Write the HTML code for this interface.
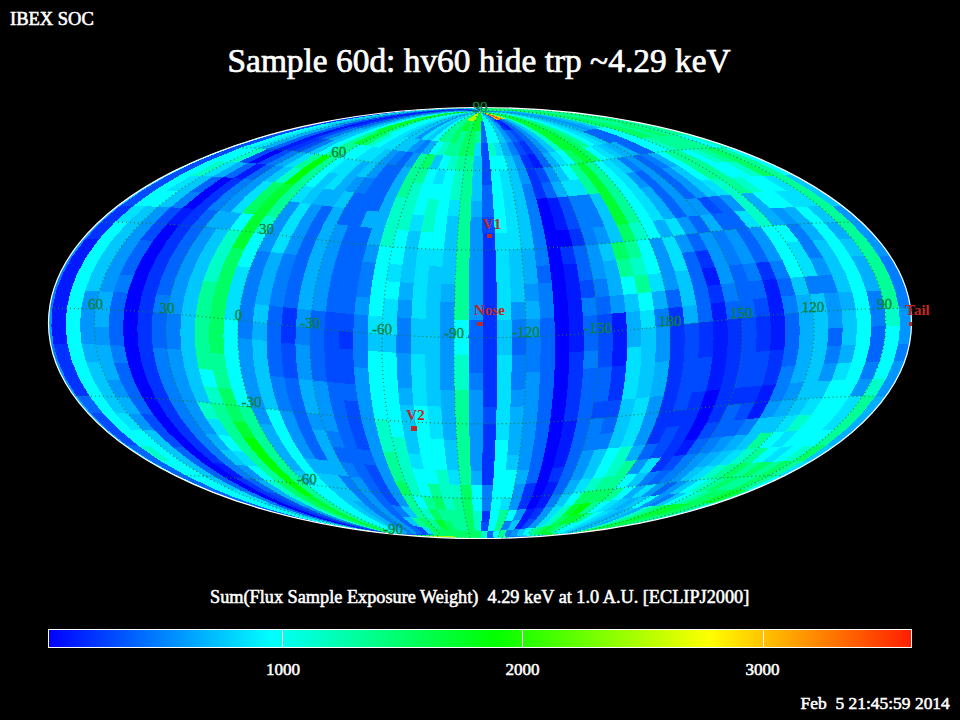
<!DOCTYPE html>
<html><head><meta charset="utf-8"><style>
html,body{margin:0;padding:0;background:#000;width:960px;height:720px;overflow:hidden}
svg{position:absolute;left:0;top:0}
text{font-family:"Liberation Serif",serif;fill:#fff;white-space:pre}
.g text{fill:#108040;stroke:#108040;stroke-width:0.35px;font-size:15px;text-anchor:middle}
.r text{fill:#c02820;font-size:15px;font-weight:bold;text-anchor:middle}
</style></head><body>
<svg width="960" height="720" viewBox="0 0 960 720">
<defs>
<clipPath id="el"><ellipse cx="480.0" cy="323.0" rx="431.5" ry="215.5"/></clipPath>
<linearGradient id="cb" x1="0" x2="1" y1="0" y2="0">
<stop offset="0" stop-color="#0000ff"/><stop offset="0.258" stop-color="#00ffff"/><stop offset="0.517" stop-color="#00ff00"/><stop offset="0.766" stop-color="#ffff00"/><stop offset="1" stop-color="#ff1e00"/>
</linearGradient>
</defs>
<text x="10" y="24.5" style="font-size:18.5px;stroke:#fff;stroke-width:0.6px">IBEX SOC</text>
<text x="227.5" y="71.5" style="font-size:33.4px;stroke:#fff;stroke-width:0.7px">Sample 60d: hv60 hide trp ~4.29 keV</text>
<ellipse cx="480.0" cy="323.0" rx="431.0" ry="215.0" fill="#0096ff"/>
<g clip-path="url(#el)" shape-rendering="crispEdges">
<path fill="#00ff96" d="M390.7 533.8L391.5 533.1L389.0 531.8L384.7 530.3L379.4 528.5L380.7 528.6L381.9 528.8L383.2 528.9L384.5 529.0L389.0 530.7L392.3 532.2L393.4 533.2ZM384.5 529.0L383.2 528.9L381.9 528.8L380.7 528.6L379.4 528.5L373.7 526.5L367.9 524.3L362.0 522.0L356.1 519.6L357.9 519.8L359.7 520.0L361.4 520.2L363.2 520.3L368.6 522.7L374.1 525.0L379.4 527.1ZM363.2 520.3L359.7 520.0L356.1 519.6L344.8 514.3L333.9 508.7L338.1 509.2L342.4 509.6L352.6 515.2ZM342.4 509.6L338.1 509.2L333.9 508.7L323.6 502.8L313.9 496.5L318.7 497.0L323.6 497.5L332.7 503.7ZM323.6 497.5L313.9 496.5L296.2 483.2L306.8 484.3ZM306.8 484.3L296.2 483.2L280.6 469.0L292.1 470.2ZM292.1 470.2L280.6 469.0L267.1 454.0L279.2 455.3ZM279.2 455.3L267.1 454.0L255.4 438.4L268.2 439.8ZM268.2 439.8L255.4 438.4L245.6 422.3L259.0 423.7ZM259.0 423.7L245.6 422.3L237.7 405.7L251.4 407.1ZM277.1 217.2L265.3 215.8L278.6 200.0L289.5 201.3ZM289.5 201.3L278.6 200.0L293.8 184.6L303.8 185.9ZM303.8 185.9L293.8 184.6L311.2 170.0L320.2 171.3ZM320.2 171.3L311.2 170.0L331.0 156.2L338.7 157.4ZM338.7 157.4L331.0 156.2L353.4 143.4L359.8 144.5ZM231.5 388.7L217.5 387.3L212.8 370.0L227.1 371.5ZM227.1 371.5L212.8 370.0L210.0 352.6L224.4 354.0ZM331.0 156.2L323.3 155.1L347.1 142.4L353.4 143.4ZM353.4 143.4L350.2 142.9L347.1 142.4L360.3 136.4L374.4 130.9L376.7 131.3L379.1 131.8L365.8 137.5ZM285.7 482.1L275.1 481.1L257.8 466.7L269.2 467.8ZM269.2 467.8L257.8 466.7L242.8 451.7L254.9 452.8ZM254.9 452.8L242.8 451.7L229.9 435.9L242.6 437.2ZM242.6 437.2L229.9 435.9L219.1 419.7L232.3 421.0ZM232.3 421.0L219.1 419.7L210.3 403.0L224.0 404.3ZM212.8 370.0L198.6 368.7L195.7 351.2L210.0 352.6ZM210.0 352.6L195.7 351.2L194.7 333.6L209.0 334.9ZM209.0 334.9L194.7 333.6L195.6 315.9L209.9 317.3ZM209.9 317.3L195.6 315.9L198.4 298.3L212.5 299.6ZM212.5 299.6L198.4 298.3L203.2 280.7L217.0 282.1ZM302.3 168.8L293.4 167.6L315.6 154.0L323.3 155.1ZM242.8 502.6L239.7 502.6L236.6 502.6L217.8 496.2L200.2 489.6L203.9 489.6L207.7 489.6L224.7 496.2ZM719.7 502.6L716.5 502.6L713.3 502.6L731.0 496.2L747.6 489.6L751.5 489.6L755.3 489.6L738.1 496.2ZM269.8 135.3L265.4 135.3L260.9 135.3L283.0 129.6L307.1 124.3L311.1 124.2L314.9 124.2L291.4 129.6ZM693.7 135.3L689.3 135.3L685.0 135.3L663.8 129.6L640.7 124.3L644.4 124.2L648.2 124.2L671.9 129.6ZM314.9 124.2L311.1 124.2L307.1 124.3L333.5 119.3L363.2 114.8L366.7 114.8L369.9 114.8L340.7 119.3ZM648.2 124.2L644.4 124.2L640.7 124.3L615.3 119.3L586.6 114.8L589.5 114.8L592.7 114.8L622.1 119.3ZM369.9 114.8L368.3 114.8L366.7 114.8L365.0 114.8L363.2 114.8L379.8 112.8L397.9 111.0L418.3 109.4L442.4 108.1L445.0 108.1L447.2 108.1L449.0 108.0L450.4 108.0L424.7 109.4L404.1 111.0L386.1 112.8ZM592.7 114.8L591.1 114.8L589.5 114.8L588.1 114.8L586.6 114.8L570.6 112.8L552.9 111.0L532.6 109.4L507.7 108.1L508.3 108.1L509.1 108.1L510.4 108.0L512.0 108.0L537.6 109.4L558.2 111.0L576.3 112.8ZM569.3 533.8L584.4 531.9L598.5 529.8L611.8 527.6L624.3 525.2L625.1 525.2L625.8 525.2L626.6 525.2L627.3 525.1L614.2 527.5L600.3 529.8L585.4 531.9ZM627.3 525.1L626.6 525.2L625.8 525.2L625.1 525.2L624.3 525.2L636.2 522.7L647.5 520.1L658.4 517.5L668.8 514.7L670.1 514.6L671.3 514.6L672.6 514.6L673.8 514.6L663.0 517.4L651.6 520.1L639.8 522.7ZM673.8 514.6L671.3 514.6L668.8 514.7L688.4 508.9L706.7 502.8L710.0 502.7L713.3 502.6L694.3 508.8ZM747.6 489.6L739.6 489.7L768.4 475.8L777.6 475.6ZM777.6 475.6L768.4 475.8L793.6 461.0L803.7 460.9ZM826.5 445.4L815.4 445.6L834.1 429.6L845.9 429.4ZM845.9 429.4L834.1 429.6L849.8 413.1L862.3 412.9ZM862.3 412.9L849.8 413.1L862.6 396.2L875.6 396.0ZM899.0 308.3L884.6 308.5L880.7 290.8L895.1 290.6ZM895.1 290.6L880.7 290.8L874.1 273.3L888.3 273.1ZM888.3 273.1L874.1 273.3L864.7 256.0L878.7 255.8ZM878.7 255.8L864.7 256.0L852.5 239.0L866.1 238.8ZM866.1 238.8L852.5 239.0L837.4 222.4L850.6 222.2ZM850.6 222.2L837.4 222.4L819.3 206.2L832.0 206.0ZM832.0 206.0L819.3 206.2L798.1 190.5L810.1 190.3ZM810.1 190.3L798.1 190.5L773.6 175.5L784.9 175.3ZM784.9 175.3L773.6 175.5L745.6 161.2L756.0 161.0ZM756.0 161.0L745.6 161.2L713.6 147.8L723.0 147.7ZM685.0 135.3L680.8 135.4L676.8 135.5L656.2 129.8L633.9 124.4L637.2 124.3L640.7 124.3L663.8 129.6ZM640.7 124.3L637.2 124.3L633.9 124.4L609.2 119.5L581.5 115.0L584.0 114.9L586.6 114.8L615.3 119.3ZM586.6 114.8L585.3 114.9L584.0 114.9L582.7 115.0L581.5 115.0L566.0 113.0L549.0 111.2L529.9 109.6L507.8 108.4L507.6 108.3L507.5 108.2L507.7 108.1L532.6 109.4L552.9 111.0L570.6 112.8ZM507.7 108.1L507.5 108.2L507.6 108.3L507.8 108.4L489.6 108.1L484.3 109.0L481.8 110.4L480.0 112.2L480.8 110.4L481.9 108.9L484.6 107.8ZM569.3 533.8L583.3 532.0L596.6 529.9L609.1 527.7L621.0 525.3L621.8 525.3L622.7 525.3L623.5 525.2L624.3 525.2L611.8 527.6L598.5 529.8L584.4 531.9ZM624.3 525.2L623.5 525.2L622.7 525.3L621.8 525.3L621.0 525.3L632.3 522.9L643.1 520.3L653.5 517.6L663.5 514.8L664.8 514.8L666.2 514.8L667.5 514.7L668.8 514.7L658.4 517.5L647.5 520.1L636.2 522.7ZM713.6 147.8L704.5 148.2L669.0 135.8L676.8 135.5ZM676.8 135.5L672.8 135.6L669.0 135.8L649.1 130.1L627.5 124.7L630.6 124.6L633.9 124.4L656.2 129.8ZM731.4 490.0L723.0 490.3L749.5 476.4L759.1 476.0ZM759.1 476.0L749.5 476.4L772.7 461.7L783.2 461.3ZM735.5 161.6L725.6 162.0L695.8 148.6L704.5 148.2ZM704.5 148.2L695.8 148.6L661.5 136.2L669.0 135.8ZM627.5 124.7L624.6 124.9L621.7 125.1L598.9 120.2L573.5 115.7L575.3 115.5L577.2 115.3L603.8 119.8ZM577.2 115.3L576.2 115.4L575.3 115.5L574.4 115.6L573.5 115.7L559.5 113.7L544.4 111.9L528.1 110.4L511.2 109.2L510.8 109.1L510.3 109.0L509.9 108.9L509.4 108.8L528.6 109.9L546.3 111.5L562.4 113.3ZM509.4 108.8L509.9 108.9L510.3 109.0L510.8 109.1L511.2 109.2L496.9 108.8L488.7 109.4L483.7 110.6L480.0 112.2L482.8 110.5L486.6 109.2L493.7 108.4ZM723.0 490.3L714.4 490.7L739.8 476.9L749.5 476.4ZM695.8 148.6L687.3 149.2L654.4 136.8L661.5 136.2ZM661.5 136.2L657.9 136.5L654.4 136.8L636.1 131.0L616.2 125.6L618.9 125.4L621.7 125.1L642.4 130.5ZM621.7 125.1L618.9 125.4L616.2 125.6L594.5 120.7L570.3 116.2L571.8 115.9L573.5 115.7L598.9 120.2ZM573.5 115.7L572.7 115.8L571.8 115.9L571.1 116.1L570.3 116.2L557.1 114.2L543.0 112.4L528.1 110.9L512.9 109.8L512.5 109.6L512.1 109.5L511.7 109.4L511.2 109.2L528.1 110.4L544.4 111.9L559.5 113.7ZM511.2 109.2L511.7 109.4L512.1 109.5L512.5 109.6L512.9 109.8L499.6 109.3L490.5 109.6L484.6 110.7L480.0 112.2L483.7 110.6L488.7 109.4L496.9 108.8ZM685.4 503.6L681.6 503.9L677.8 504.1L692.2 497.8L705.6 491.3L710.0 491.0L714.4 490.7L700.4 497.3ZM739.8 476.9L729.9 477.5L751.2 462.8L762.0 462.2ZM687.3 149.2L679.0 149.9L647.6 137.4L654.4 136.8ZM705.6 491.3L696.6 491.9L719.9 478.1L729.9 477.5ZM751.2 462.8L740.2 463.6L757.9 448.3L769.6 447.5ZM751.8 192.7L740.6 193.6L720.4 178.5L730.7 177.7ZM730.7 177.7L720.4 178.5L697.3 164.2L706.6 163.3ZM706.6 163.3L697.3 164.2L671.0 150.7L679.0 149.9ZM719.9 478.1L709.7 478.9L729.1 464.4L740.2 463.6ZM757.9 448.3L746.0 449.2L760.5 433.3L773.0 432.4ZM720.4 178.5L710.2 179.5L688.2 165.1L697.3 164.2ZM697.3 164.2L688.2 165.1L663.1 151.5L671.0 150.7ZM606.1 127.0L603.7 127.4L601.4 127.8L582.7 122.7L562.4 118.2L563.6 117.8L564.9 117.5L586.5 122.0ZM564.9 117.5L564.2 117.6L563.6 117.8L563.0 118.0L562.4 118.2L551.4 116.2L540.0 114.3L528.1 112.7L516.1 111.5L516.0 111.3L515.8 111.2L515.6 111.0L515.4 110.9L528.2 112.1L541.0 113.6L553.2 115.5ZM515.4 110.9L515.6 111.0L515.8 111.2L516.0 111.3L516.1 111.5L504.7 110.7L494.8 110.6L486.7 111.1L480.0 112.2L486.1 110.9L493.6 110.2L503.4 110.2ZM569.3 533.8L574.5 532.5L581.4 530.9L589.0 529.0L596.8 527.0L598.0 526.9L599.1 526.8L600.2 526.7L601.3 526.6L592.8 528.7L584.3 530.7L576.2 532.4ZM601.3 526.6L600.2 526.7L599.1 526.8L598.0 526.9L596.8 527.0L604.6 524.7L612.3 522.4L619.8 519.9L627.1 517.3L628.7 517.1L630.4 517.0L632.0 516.9L633.6 516.7L625.9 519.4L617.9 521.9L609.7 524.3ZM633.6 516.7L630.4 517.0L627.1 517.3L641.1 511.8L654.2 506.0L658.3 505.6L662.3 505.3L648.4 511.2ZM589.9 146.3L586.6 146.8L583.3 147.4L573.6 141.2L563.2 135.4L565.8 134.9L568.3 134.4L579.5 140.2ZM568.3 134.4L565.8 134.9L563.2 135.4L552.1 129.9L540.0 124.9L541.7 124.4L543.3 124.0L556.3 129.0ZM543.3 124.0L542.5 124.2L541.7 124.4L540.8 124.6L540.0 124.9L533.6 122.5L526.8 120.3L519.8 118.3L512.4 116.4L512.7 116.3L513.1 116.1L513.4 116.0L513.7 115.8L521.6 117.6L529.1 119.6L536.4 121.7ZM513.7 115.8L513.4 116.0L513.1 116.1L512.7 116.3L512.4 116.4L504.7 114.8L496.7 113.5L488.4 112.6L480.0 112.2L488.5 112.4L497.1 113.1L505.5 114.3ZM578.1 522.5L574.5 522.9L570.8 523.3L578.9 518.5L586.8 513.2L591.1 512.7L595.4 512.2L586.9 517.5ZM611.3 500.4L601.6 501.5L614.9 488.6L625.5 487.4ZM569.3 533.8L558.3 534.1L552.3 533.8L550.4 533.0L551.1 531.7L552.5 531.6L553.9 531.4L555.2 531.3L556.6 531.1L555.0 532.5L555.7 533.4L560.0 533.9ZM556.6 531.1L555.2 531.3L553.9 531.4L552.5 531.6L551.1 531.7L553.4 530.2L556.5 528.4L559.9 526.4L563.6 524.2L565.4 524.0L567.2 523.8L569.0 523.5L570.8 523.3L566.8 525.6L563.0 527.6L559.4 529.5ZM586.8 513.2L582.6 513.7L578.3 514.2L585.3 508.5L592.0 502.6L596.8 502.0L601.6 501.5L594.4 507.5ZM614.9 488.6L604.3 489.8L615.2 476.0L626.6 474.7ZM626.6 474.7L615.2 476.0L624.7 461.4L636.8 460.1ZM640.5 222.3L628.6 223.7L619.8 207.6L630.9 206.2ZM630.9 206.2L619.8 207.6L609.6 192.0L619.8 190.7ZM619.8 190.7L609.6 192.0L598.0 177.0L607.2 175.8ZM607.2 175.8L598.0 177.0L584.8 162.8L592.9 161.7ZM604.3 489.8L593.7 490.9L603.8 477.2L615.2 476.0ZM651.4 292.0L637.4 293.4L633.9 276.0L647.5 274.5ZM642.4 257.3L629.3 258.7L623.6 241.7L636.2 240.3ZM633.9 276.0L620.3 277.3L616.1 260.0L629.3 258.7ZM599.3 193.2L588.9 194.3L579.3 179.3L588.7 178.2ZM588.7 178.2L579.3 179.3L568.4 164.9L576.6 163.9ZM569.3 533.8L552.3 534.8L539.1 535.3L531.6 535.1L528.9 534.3L530.3 534.1L531.7 533.9L533.1 533.8L534.5 533.6L536.3 534.5L542.3 534.9L553.6 534.7ZM534.5 533.6L533.1 533.8L531.7 533.9L530.3 534.1L528.9 534.3L528.9 533.0L530.3 531.4L532.4 529.5L534.7 527.5L536.5 527.3L538.3 527.1L540.0 526.9L541.8 526.7L539.2 528.8L536.9 530.7L535.1 532.3ZM569.3 533.8L548.9 535.5L527.2 536.8L507.9 537.4L499.8 537.1L501.3 536.9L502.8 536.8L504.3 536.7L505.8 536.6L512.6 537.0L528.7 536.5L549.1 535.4ZM505.8 536.6L504.3 536.7L502.8 536.8L501.3 536.9L499.8 537.1L498.4 535.9L498.8 534.4L499.6 532.5L500.5 530.5L502.1 530.4L503.8 530.3L505.4 530.2L507.1 530.1L505.9 532.1L504.9 533.9L504.4 535.4ZM500.5 530.5L497.2 530.7L494.0 530.9L495.4 526.4L496.8 521.5L500.7 521.3L504.6 521.1L502.5 526.1ZM504.6 521.1L500.7 521.3L496.8 521.5L498.2 516.1L499.5 510.4L503.9 510.2L508.4 510.0L506.5 515.8ZM481.3 143.4L478.1 143.4L475.0 143.4L475.6 137.2L476.3 131.4L478.6 131.4L480.9 131.4L481.1 137.3ZM471.3 485.0L460.5 484.8L459.0 470.5L470.7 470.7ZM470.7 470.7L459.0 470.5L457.8 455.5L470.1 455.7ZM470.1 455.7L457.8 455.5L456.7 439.8L469.6 440.0ZM469.6 440.0L456.7 439.8L455.8 423.6L469.3 423.8ZM469.3 423.8L455.8 423.6L455.1 407.0L468.9 407.2ZM468.9 407.2L455.1 407.0L454.6 390.0L468.7 390.2ZM468.6 320.0L454.3 319.8L454.6 302.1L468.7 302.3ZM468.7 302.3L454.6 302.1L455.1 284.5L468.9 284.7ZM468.9 284.7L455.1 284.5L455.8 267.0L469.3 267.2ZM469.3 267.2L455.8 267.0L456.7 249.8L469.7 250.0ZM469.7 250.0L456.7 249.8L457.8 232.9L470.1 233.1ZM470.1 233.1L457.8 232.9L459.1 216.4L470.7 216.6ZM470.7 216.6L459.1 216.4L460.5 200.4L471.3 200.6ZM471.3 200.6L460.5 200.4L462.2 185.0L472.1 185.1ZM472.1 185.1L462.2 185.0L464.1 170.2L472.9 170.4ZM472.9 170.4L464.1 170.2L466.2 156.3L473.9 156.4ZM468.6 531.0L465.3 530.9L462.1 530.7L460.3 526.2L458.5 521.3L462.4 521.4L466.2 521.6L467.4 526.5ZM466.2 521.6L462.4 521.4L458.5 521.3L456.8 515.9L455.2 510.2L459.7 510.4L464.1 510.5L465.1 516.2ZM464.1 510.5L455.2 510.2L452.2 497.8L462.2 498.2ZM464.1 170.2L455.3 170.0L458.6 156.0L466.2 156.3ZM462.1 530.7L458.8 530.5L455.5 530.3L453.1 525.8L450.8 520.9L454.7 521.1L458.5 521.3L460.3 526.2ZM458.5 521.3L454.7 521.1L450.8 520.9L448.5 515.5L446.3 509.8L450.7 510.0L455.2 510.2L456.8 515.9ZM458.6 156.0L454.8 155.9L451.0 155.7L453.5 149.1L456.2 142.7L459.3 142.9L462.5 143.0L460.5 149.4ZM462.5 143.0L459.3 142.9L456.2 142.7L459.2 136.7L462.3 130.9L464.6 131.0L466.9 131.2L464.6 136.9ZM450.8 520.9L446.8 520.6L442.9 520.4L440.0 515.0L437.3 509.2L441.8 509.5L446.3 509.8L448.5 515.5ZM442.3 497.4L432.2 496.8L427.8 483.4L438.7 484.0ZM451.0 155.7L447.2 155.5L443.5 155.3L446.7 148.7L450.1 142.4L453.2 142.6L456.2 142.7L453.5 149.1ZM437.3 509.2L428.2 508.6L422.1 496.1L432.2 496.8ZM450.1 142.4L447.0 142.1L444.0 141.9L448.4 135.9L453.3 130.2L455.5 130.4L457.8 130.6L453.8 136.3ZM457.8 130.6L456.6 130.5L455.5 130.4L454.4 130.3L453.3 130.2L455.9 127.5L458.6 124.9L461.5 122.4L464.6 120.1L465.2 120.1L465.9 120.2L466.5 120.3L467.1 120.3L464.6 122.7L462.2 125.2L459.9 127.9ZM467.1 120.3L466.5 120.3L465.9 120.2L465.2 120.1L464.6 120.1L467.9 117.8L471.5 115.7L475.5 113.8L480.0 112.2L476.2 113.9L472.9 115.9L469.9 118.0ZM442.1 529.2L438.6 528.9L435.2 528.5L431.0 524.0L426.9 519.0L430.9 519.4L434.9 519.7L438.5 524.7ZM422.9 183.2L413.2 182.4L420.4 167.9L429.0 168.5ZM444.0 141.9L441.0 141.6L438.0 141.4L443.2 135.4L448.9 129.8L451.1 130.0L453.3 130.2L448.4 135.9ZM453.3 130.2L452.2 130.1L451.1 130.0L450.0 129.9L448.9 129.8L451.9 127.1L455.1 124.5L458.5 122.1L462.1 119.8L462.7 119.8L463.3 119.9L464.0 120.0L464.6 120.1L461.5 122.4L458.6 124.9L455.9 127.5ZM464.6 120.1L464.0 120.0L463.3 119.9L462.7 119.8L462.1 119.8L466.0 117.6L470.2 115.6L474.8 113.7L480.0 112.2L475.5 113.8L471.5 115.7L467.9 117.8ZM426.9 519.0L422.8 518.6L418.7 518.2L414.1 512.8L409.7 507.0L414.4 507.4L419.0 507.8L422.8 513.6ZM419.0 507.8L409.7 507.0L401.7 494.5L411.9 495.3ZM405.7 481.8L394.6 480.9L388.4 466.5L400.3 467.5ZM400.3 467.5L388.4 466.5L383.0 451.4L395.6 452.4ZM406.8 197.7L396.2 196.8L403.5 181.6L413.2 182.4ZM413.2 182.4L403.5 181.6L411.8 167.1L420.4 167.9ZM420.4 167.9L411.8 167.1L421.3 153.4L428.6 154.1ZM428.1 527.8L424.6 527.4L421.0 527.0L415.7 522.5L410.4 517.4L414.6 517.8L418.7 518.2L423.4 523.3ZM388.7 133.8L386.3 133.3L383.9 132.8L397.3 127.5L411.8 122.7L413.3 123.1L414.8 123.5L401.3 128.5ZM414.8 123.5L414.1 123.3L413.3 123.1L412.5 122.9L411.8 122.7L419.5 120.4L427.6 118.4L436.0 116.5L444.7 114.9L444.9 115.0L445.1 115.2L445.4 115.3L445.6 115.5L437.4 117.2L429.6 119.1L422.0 121.2ZM445.6 115.5L445.4 115.3L445.1 115.2L444.9 115.0L444.7 114.9L453.6 113.5L462.6 112.6L471.5 112.1L480.0 112.2L471.4 112.3L462.8 112.9L454.1 114.0Z"/>
<path fill="#00ffff" d="M251.4 407.1L237.7 405.7L231.5 388.7L245.5 390.2ZM245.5 390.2L231.5 388.7L227.1 371.5L241.3 372.9ZM241.3 372.9L227.1 371.5L224.4 354.0L238.8 355.5ZM238.8 355.5L224.4 354.0L223.4 336.4L237.8 337.9ZM237.8 337.9L223.4 336.4L224.2 318.7L238.5 320.2ZM250.3 267.7L236.8 266.2L244.5 249.0L257.5 250.5ZM257.5 250.5L244.5 249.0L254.0 232.2L266.4 233.7ZM217.5 387.3L203.5 386.0L198.6 368.7L212.8 370.0ZM241.6 230.9L229.2 229.5L241.9 213.2L253.6 214.5ZM323.3 155.1L315.6 154.0L340.8 141.3L347.1 142.4ZM347.1 142.4L343.9 141.8L340.8 141.3L354.8 135.4L369.8 129.9L372.1 130.4L374.4 130.9L360.3 136.4ZM374.4 130.9L372.1 130.4L369.8 129.9L386.0 124.8L403.6 120.1L404.9 120.5L406.2 121.0L389.7 125.7ZM406.2 121.0L405.5 120.7L404.9 120.5L404.2 120.3L403.6 120.1L413.0 118.0L422.8 116.1L432.9 114.4L443.3 113.0L443.3 113.2L443.3 113.3L443.4 113.5L443.5 113.6L433.7 115.1L424.2 116.9L415.0 118.8ZM443.5 113.6L443.4 113.5L443.3 113.3L443.3 113.2L443.3 113.0L453.6 112.0L463.3 111.5L472.1 111.5L480.0 112.2L471.8 111.7L462.9 111.8L453.3 112.5ZM275.1 481.1L264.7 480.1L246.5 465.7L257.8 466.7ZM242.8 451.7L230.7 450.6L217.2 434.8L229.9 435.9ZM390.7 533.8L376.0 531.9L362.2 529.8L349.3 527.6L337.0 525.2L337.8 525.3L338.7 525.3L339.5 525.3L340.4 525.4L352.0 527.7L364.3 529.9L377.2 532.0ZM340.4 525.4L339.5 525.3L338.7 525.3L337.8 525.3L337.0 525.2L325.3 522.8L314.2 520.2L303.5 517.5L293.3 514.7L294.6 514.8L296.0 514.8L297.3 514.9L298.7 514.9L308.5 517.7L318.7 520.4L329.3 522.9ZM298.7 514.9L296.0 514.8L293.3 514.7L274.0 508.9L256.0 502.8L259.5 502.9L263.0 503.1L280.2 509.2ZM263.0 503.1L259.5 502.9L256.0 502.8L239.3 496.5L223.6 489.8L227.8 489.9L231.9 490.1L247.0 496.7ZM231.9 490.1L223.6 489.8L195.3 475.9L204.7 476.2ZM204.7 476.2L195.3 475.9L170.5 461.1L181.0 461.4ZM181.0 461.4L170.5 461.1L149.1 445.7L160.4 446.0ZM160.4 446.0L149.1 445.7L130.7 429.7L142.7 430.1ZM158.2 206.7L145.8 206.3L166.7 190.6L178.4 191.0ZM228.5 161.7L218.5 161.3L250.1 148.0L259.0 148.3ZM390.7 533.8L375.0 531.9L360.4 529.8L346.7 527.5L333.9 525.2L334.6 525.2L335.4 525.2L336.2 525.2L337.0 525.2L349.3 527.6L362.2 529.8L376.0 531.9ZM337.0 525.2L336.2 525.2L335.4 525.2L334.6 525.2L333.9 525.2L321.6 522.7L310.0 520.1L298.8 517.4L288.2 514.6L289.4 514.6L290.7 514.7L292.0 514.7L293.3 514.7L303.5 517.5L314.2 520.2L325.3 522.8ZM293.3 514.7L290.7 514.7L288.2 514.6L268.0 508.8L249.3 502.7L252.6 502.7L256.0 502.8L274.0 508.9ZM256.0 502.8L252.6 502.7L249.3 502.7L231.9 496.3L215.6 489.6L219.6 489.7L223.6 489.8L239.3 496.5ZM223.6 489.8L215.6 489.6L186.1 475.7L195.3 475.9ZM195.3 475.9L186.1 475.7L160.3 460.9L170.5 461.1ZM149.1 445.7L137.9 445.5L118.8 429.4L130.7 429.7ZM130.7 429.7L118.8 429.4L102.7 413.0L115.2 413.2ZM115.2 413.2L102.7 413.0L89.6 396.1L102.7 396.3ZM102.7 396.3L89.6 396.1L79.3 378.8L92.9 379.1ZM92.9 379.1L79.3 378.8L72.0 361.4L85.9 361.7ZM85.9 361.7L72.0 361.4L67.4 343.8L81.6 344.0ZM81.6 344.0L67.4 343.8L65.7 326.1L80.0 326.3ZM80.0 326.3L65.7 326.1L66.8 308.4L81.1 308.6ZM81.1 308.6L66.8 308.4L70.7 290.7L85.0 291.0ZM85.0 291.0L70.7 290.7L77.4 273.2L91.5 273.5ZM91.5 273.5L77.4 273.2L86.9 255.9L100.9 256.1ZM100.9 256.1L86.9 255.9L99.3 238.9L112.9 239.1ZM112.9 239.1L99.3 238.9L114.7 222.2L127.9 222.5ZM145.8 206.3L133.1 206.0L154.7 190.4L166.7 190.6ZM166.7 190.6L154.7 190.4L179.6 175.4L190.8 175.6ZM190.8 175.6L179.6 175.4L208.2 161.1L218.5 161.3ZM218.5 161.3L208.2 161.1L240.8 147.7L250.1 148.0ZM250.1 148.0L240.8 147.7L278.3 135.4L286.4 135.6ZM286.4 135.6L282.4 135.5L278.3 135.4L299.3 129.7L322.1 124.3L325.5 124.4L328.7 124.5L306.7 129.9ZM390.7 533.8L373.3 531.9L357.3 529.8L342.3 527.5L328.3 525.1L328.9 525.1L329.6 525.1L330.3 525.1L330.9 525.1L344.4 527.5L358.7 529.8L374.1 531.9ZM569.3 533.8L585.4 531.9L600.3 529.8L614.2 527.5L627.3 525.1L628.1 525.1L628.8 525.1L629.5 525.1L630.2 525.1L616.5 527.5L601.9 529.8L586.3 531.9ZM330.9 525.1L330.3 525.1L329.6 525.1L328.9 525.1L328.3 525.1L315.0 522.7L302.3 520.1L290.3 517.4L278.7 514.6L279.8 514.6L281.0 514.6L282.1 514.6L283.3 514.6L294.4 517.3L306.0 520.0L318.2 522.6ZM630.2 525.1L629.5 525.1L628.8 525.1L628.1 525.1L627.3 525.1L639.8 522.7L651.6 520.1L663.0 517.4L673.8 514.6L675.0 514.6L676.2 514.6L677.4 514.6L678.6 514.6L667.3 517.3L655.5 520.0L643.1 522.6ZM283.3 514.6L281.0 514.6L278.7 514.6L256.9 508.8L236.6 502.6L239.7 502.6L242.8 502.6L262.3 508.7ZM678.6 514.6L676.2 514.6L673.8 514.6L694.3 508.8L713.3 502.6L716.5 502.6L719.7 502.6L699.9 508.7ZM207.7 489.6L200.2 489.6L168.3 475.6L177.1 475.6ZM755.3 489.6L747.6 489.6L777.6 475.6L786.5 475.6ZM168.2 175.3L156.5 175.3L186.7 161.0L197.6 161.0ZM796.5 175.3L784.9 175.3L756.0 161.0L766.7 161.0ZM197.6 161.0L186.7 161.0L221.2 147.7L231.2 147.6ZM766.7 161.0L756.0 161.0L723.0 147.7L732.7 147.6ZM886.1 378.8L872.5 379.0L879.7 361.5L893.6 361.3ZM893.6 361.3L879.7 361.5L884.1 343.9L898.2 343.7ZM898.2 343.7L884.1 343.9L885.7 326.2L900.0 326.0ZM723.0 147.7L713.6 147.8L676.8 135.5L685.0 135.3ZM815.4 445.6L804.2 445.9L822.1 429.9L834.1 429.6ZM783.2 461.3L772.7 461.7L792.8 446.3L804.2 445.9ZM804.2 445.9L792.8 446.3L810.0 430.3L822.1 429.9ZM822.1 429.9L810.0 430.3L824.4 413.9L837.2 413.4ZM837.2 413.4L824.4 413.9L836.2 397.0L849.4 396.5ZM849.4 396.5L836.2 397.0L845.3 379.8L858.9 379.3ZM858.9 379.3L845.3 379.8L851.8 362.4L865.7 361.9ZM865.7 361.9L851.8 362.4L855.7 344.8L869.9 344.3ZM869.9 344.3L855.7 344.8L857.1 327.1L871.4 326.6ZM871.4 326.6L857.1 327.1L855.9 309.4L870.2 308.9ZM870.2 308.9L855.9 309.4L852.2 291.7L866.4 291.2ZM866.4 291.2L852.2 291.7L845.9 274.2L860.0 273.7ZM860.0 273.7L845.9 274.2L837.0 256.9L850.8 256.4ZM850.8 256.4L837.0 256.9L825.5 239.9L838.9 239.4ZM838.9 239.4L825.5 239.9L811.4 223.2L824.3 222.7ZM824.3 222.7L811.4 223.2L794.4 207.0L806.8 206.5ZM786.3 190.9L774.6 191.4L751.8 176.3L762.6 175.8ZM792.8 446.3L781.3 446.9L797.8 430.9L810.0 430.3ZM810.0 430.3L797.8 430.9L811.6 414.5L824.4 413.9ZM824.4 413.9L811.6 414.5L822.8 397.6L836.2 397.0ZM836.2 397.0L822.8 397.6L831.5 380.5L845.3 379.8ZM794.4 207.0L782.2 207.7L763.1 192.0L774.6 191.4ZM774.6 191.4L763.1 192.0L741.2 176.9L751.8 176.3ZM751.8 176.3L741.2 176.9L716.0 162.6L725.6 162.0ZM762.0 462.2L751.2 462.8L769.6 447.5L781.3 446.9ZM782.2 207.7L770.2 208.4L751.8 192.7L763.1 192.0ZM741.2 176.9L730.7 177.7L706.6 163.3L716.0 162.6ZM716.0 162.6L706.6 163.3L679.0 149.9L687.3 149.2ZM769.6 447.5L757.9 448.3L773.0 432.4L785.4 431.6ZM799.0 241.4L785.8 242.3L773.2 225.6L785.8 224.7ZM670.1 504.6L666.2 504.9L662.3 505.3L675.3 499.1L687.5 492.6L692.1 492.2L696.6 491.9L683.8 498.4ZM804.0 276.7L790.1 277.7L782.5 260.4L796.1 259.3ZM796.1 259.3L782.5 260.4L772.7 243.3L785.8 242.3ZM785.8 242.3L772.7 243.3L760.7 226.6L773.2 225.6ZM671.0 150.7L663.1 151.5L634.4 139.0L640.9 138.2ZM640.9 138.2L637.6 138.6L634.4 139.0L618.5 133.2L601.4 127.8L603.7 127.4L606.1 127.0L624.2 132.4ZM687.5 492.6L678.3 493.4L699.4 479.8L709.7 478.9ZM710.2 179.5L700.2 180.5L679.2 166.1L688.2 165.1ZM688.2 165.1L679.2 166.1L655.3 152.5L663.1 151.5ZM663.1 151.5L655.3 152.5L628.0 139.9L634.4 139.0ZM634.4 139.0L631.2 139.5L628.0 139.9L612.9 134.1L596.7 128.6L599.0 128.2L601.4 127.8L618.5 133.2ZM637.8 507.5L633.6 507.9L629.5 508.4L640.0 502.4L649.9 496.1L654.7 495.6L659.4 495.1L649.0 501.5ZM596.4 145.2L593.1 145.7L589.9 146.3L579.5 140.2L568.3 134.4L570.8 133.9L573.2 133.4L585.2 139.2ZM573.2 133.4L570.8 133.9L568.3 134.4L556.3 129.0L543.3 124.0L544.9 123.6L546.4 123.2L560.3 128.1ZM546.4 123.2L545.6 123.4L544.9 123.6L544.1 123.8L543.3 124.0L536.4 121.7L529.1 119.6L521.6 117.6L513.7 115.8L514.0 115.7L514.3 115.5L514.5 115.4L514.8 115.2L523.2 116.9L531.2 118.8L539.0 120.9ZM514.8 115.2L514.5 115.4L514.3 115.5L514.0 115.7L513.7 115.8L505.5 114.3L497.1 113.1L488.5 112.4L480.0 112.2L488.6 112.2L497.3 112.8L506.1 113.8ZM569.3 533.8L561.8 533.7L559.0 533.1L559.5 532.0L561.9 530.5L563.3 530.4L564.6 530.2L565.9 530.1L567.2 529.9L564.0 531.5L562.4 532.7L563.7 533.5ZM567.2 529.9L565.9 530.1L564.6 530.2L563.3 530.4L561.9 530.5L565.4 528.8L569.4 526.9L573.7 524.8L578.1 522.5L579.9 522.3L581.7 522.1L583.5 521.8L585.3 521.6L580.5 524.0L575.8 526.1L571.3 528.1ZM585.3 521.6L581.7 522.1L578.1 522.5L586.9 517.5L595.4 512.2L599.7 511.7L604.0 511.2L594.8 516.6ZM621.0 499.3L611.3 500.4L625.5 487.4L636.2 486.2ZM608.8 159.3L600.9 160.5L583.3 147.4L589.9 146.3ZM569.3 533.8L560.0 533.9L555.7 533.4L555.0 532.5L556.6 531.1L557.9 531.0L559.3 530.8L560.6 530.7L561.9 530.5L559.5 532.0L559.0 533.1L561.8 533.7ZM561.9 530.5L560.6 530.7L559.3 530.8L557.9 531.0L556.6 531.1L559.4 529.5L563.0 527.6L566.8 525.6L570.8 523.3L572.6 523.1L574.5 522.9L576.3 522.7L578.1 522.5L573.7 524.8L569.4 526.9L565.4 528.8ZM595.4 512.2L591.1 512.7L586.8 513.2L594.4 507.5L601.6 501.5L606.5 500.9L611.3 500.4L603.6 506.4ZM625.5 487.4L614.9 488.6L626.6 474.7L638.1 473.5ZM661.2 237.5L648.7 238.9L640.5 222.3L652.3 220.9ZM652.3 220.9L640.5 222.3L630.9 206.2L642.0 204.9ZM642.0 204.9L630.9 206.2L619.8 190.7L630.0 189.4ZM630.0 189.4L619.8 190.7L607.2 175.8L616.4 174.6ZM616.4 174.6L607.2 175.8L592.9 161.7L600.9 160.5ZM661.1 273.1L647.5 274.5L642.4 257.3L655.6 255.8ZM655.6 255.8L642.4 257.3L636.2 240.3L648.7 238.9ZM654.1 309.6L639.9 311.1L637.4 293.4L651.4 292.0ZM603.8 477.2L592.4 478.4L600.4 463.9L612.5 462.6ZM612.5 462.6L600.4 463.9L607.4 448.6L620.1 447.4ZM637.4 293.4L623.5 294.8L620.3 277.3L633.9 276.0ZM576.6 163.9L568.4 164.9L556.0 151.4L563.0 150.5ZM572.9 504.7L563.4 505.7L572.8 493.1L583.2 492.0ZM579.3 179.3L569.8 180.3L560.0 165.9L568.4 164.9ZM569.3 533.8L551.2 535.0L536.1 535.6L526.9 535.6L523.2 534.9L524.6 534.7L526.1 534.6L527.5 534.4L528.9 534.3L531.6 535.1L539.1 535.3L552.3 534.8ZM528.9 534.3L527.5 534.4L526.1 534.6L524.6 534.7L523.2 534.9L522.8 533.7L523.9 532.1L525.6 530.3L527.6 528.2L529.4 528.1L531.2 527.9L532.9 527.7L534.7 527.5L532.4 529.5L530.3 531.4L528.9 533.0ZM512.4 520.7L508.5 520.9L504.6 521.1L506.5 515.8L508.4 510.0L512.8 509.8L517.3 509.6L514.9 515.3ZM569.3 533.8L549.0 535.5L526.4 537.0L503.3 537.8L493.6 537.5L495.2 537.4L496.7 537.3L498.2 537.2L499.8 537.1L507.9 537.4L527.2 536.8L548.9 535.5ZM499.8 537.1L498.2 537.2L496.7 537.3L495.2 537.4L493.6 537.5L492.5 536.3L492.8 534.7L493.3 532.9L494.0 530.9L495.6 530.8L497.2 530.7L498.9 530.6L500.5 530.5L499.6 532.5L498.8 534.4L498.4 535.9ZM511.7 497.7L501.8 498.0L503.8 484.7L514.7 484.3ZM514.7 484.3L503.8 484.7L505.6 470.4L517.3 470.0ZM508.3 169.8L499.5 170.1L496.8 156.2L504.4 155.9ZM500.0 142.9L496.9 143.1L493.8 143.2L492.1 137.1L490.3 131.3L492.6 131.2L494.9 131.1L497.6 136.8ZM494.9 131.1L493.8 131.1L492.6 131.2L491.4 131.2L490.3 131.3L489.3 128.5L488.3 125.8L487.2 123.2L486.0 120.8L486.7 120.7L487.3 120.7L488.0 120.7L488.7 120.6L490.4 123.1L492.0 125.6L493.5 128.3ZM488.7 120.6L488.0 120.7L487.3 120.7L486.7 120.7L486.0 120.8L484.7 118.4L483.3 116.2L481.8 114.1L480.0 112.2L482.6 114.0L484.8 116.1L486.8 118.3ZM494.0 530.9L490.8 531.0L487.6 531.1L488.4 526.6L489.2 521.7L493.0 521.6L496.8 521.5L495.4 526.4ZM496.8 521.5L493.0 521.6L489.2 521.7L489.9 516.3L490.6 510.6L495.0 510.5L499.5 510.4L498.2 516.1ZM499.5 510.4L490.6 510.6L491.9 498.3L501.8 498.0ZM501.8 498.0L491.9 498.3L493.0 484.9L503.8 484.7ZM503.8 484.7L493.0 484.9L494.0 470.6L505.6 470.4ZM505.6 470.4L494.0 470.6L494.8 455.6L507.2 455.4ZM507.2 455.4L494.8 455.6L495.5 440.0L508.5 439.7ZM507.1 232.8L494.8 233.0L494.0 216.6L505.6 216.3ZM505.6 216.3L494.0 216.6L493.0 200.5L503.8 200.3ZM503.8 200.3L493.0 200.5L491.9 185.1L501.8 184.9ZM501.8 184.9L491.9 185.1L490.6 170.3L499.5 170.1ZM499.5 170.1L490.6 170.3L489.2 156.4L496.8 156.2ZM493.8 143.2L490.7 143.3L487.5 143.3L486.6 137.2L485.6 131.4L488.0 131.3L490.3 131.3L492.1 137.1ZM490.3 131.3L489.1 131.3L488.0 131.3L486.8 131.4L485.6 131.4L485.1 128.6L484.5 125.9L483.9 123.3L483.3 120.8L484.0 120.8L484.6 120.8L485.3 120.8L486.0 120.8L487.2 123.2L488.3 125.8L489.3 128.5ZM486.0 120.8L485.3 120.8L484.6 120.8L484.0 120.8L483.3 120.8L482.6 118.5L481.8 116.2L481.0 114.1L480.0 112.2L481.8 114.1L483.3 116.2L484.7 118.4ZM481.8 510.7L472.9 510.7L472.1 498.3L482.0 498.4ZM482.0 498.4L472.1 498.3L471.3 485.0L482.2 485.0ZM468.5 355.4L454.1 355.2L454.1 337.5L468.5 337.7ZM468.5 337.7L454.1 337.5L454.3 319.8L468.6 320.0ZM447.4 470.2L435.7 469.7L433.0 454.6L445.4 455.1ZM445.4 455.1L433.0 454.6L430.7 439.0L443.7 439.5ZM443.8 249.5L430.9 249.0L433.2 232.1L445.5 232.6ZM445.5 232.6L433.2 232.1L435.8 215.7L447.4 216.1ZM447.4 216.1L435.8 215.7L438.9 199.7L449.7 200.1ZM449.7 200.1L438.9 199.7L442.4 184.3L452.3 184.7ZM452.3 184.7L442.4 184.3L446.5 169.6L455.3 170.0ZM438.7 484.0L427.8 483.4L423.9 469.1L435.7 469.7ZM435.7 469.7L423.9 469.1L420.6 454.0L433.0 454.6ZM433.0 454.6L420.6 454.0L417.7 438.3L430.7 439.0ZM430.7 439.0L417.7 438.3L415.4 422.1L428.9 422.8ZM428.9 422.8L415.4 422.1L413.5 405.4L427.4 406.1ZM430.9 249.0L418.0 248.4L420.9 231.5L433.2 232.1ZM438.9 199.7L428.2 199.1L432.6 183.8L442.4 184.3ZM446.5 169.6L437.7 169.1L443.5 155.3L451.0 155.7ZM432.2 496.8L422.1 496.1L416.8 482.7L427.8 483.4ZM427.8 483.4L416.8 482.7L412.1 468.3L423.9 469.1ZM424.3 215.1L412.7 214.4L417.5 198.5L428.2 199.1ZM428.2 199.1L417.5 198.5L422.9 183.2L432.6 183.8ZM432.6 183.8L422.9 183.2L429.0 168.5L437.7 169.1ZM428.2 508.6L419.0 507.8L411.9 495.3L422.1 496.1ZM404.7 437.6L391.6 436.7L388.3 420.4L401.9 421.3ZM401.9 421.3L388.3 420.4L385.7 403.7L399.6 404.6ZM399.6 404.6L385.7 403.7L383.8 386.7L398.0 387.6ZM398.0 387.6L383.8 386.7L382.6 369.3L396.9 370.3ZM396.9 370.3L382.6 369.3L382.0 351.8L396.4 352.8ZM398.2 299.7L384.2 298.8L386.2 281.3L400.0 282.2ZM402.3 264.8L389.0 263.9L392.4 246.7L405.2 247.6ZM405.2 247.6L392.4 246.7L396.5 229.9L408.7 230.8ZM436.0 154.7L432.3 154.4L428.6 154.1L433.1 147.6L438.0 141.4L441.0 141.6L444.0 141.9L439.9 148.2ZM388.3 420.4L374.7 419.4L371.8 402.7L385.7 403.7ZM385.7 403.7L371.8 402.7L369.6 385.6L383.8 386.7ZM383.8 386.7L369.6 385.6L368.2 368.3L382.6 369.3ZM382.6 369.3L368.2 368.3L367.6 350.7L382.0 351.8ZM382.8 316.5L368.5 315.4L370.1 297.8L384.2 298.8ZM384.2 298.8L370.1 297.8L372.5 280.2L386.2 281.3ZM386.2 281.3L372.5 280.2L375.7 262.9L389.0 263.9ZM389.0 263.9L375.7 262.9L379.6 245.8L392.4 246.7ZM438.0 141.4L435.0 141.1L432.0 140.7L438.1 134.8L444.6 129.3L446.7 129.5L448.9 129.8L443.2 135.4ZM448.9 129.8L447.8 129.7L446.7 129.5L445.6 129.4L444.6 129.3L448.1 126.6L451.7 124.1L455.6 121.7L459.7 119.4L460.3 119.5L460.9 119.6L461.5 119.7L462.1 119.8L458.5 122.1L455.1 124.5L451.9 127.1ZM462.1 119.8L461.5 119.7L460.9 119.6L460.3 119.5L459.7 119.4L464.2 117.3L468.9 115.3L474.2 113.6L480.0 112.2L474.8 113.7L470.2 115.6L466.0 117.6ZM379.4 147.8L376.0 147.3L372.7 146.7L382.9 140.6L393.7 134.8L396.2 135.3L398.8 135.8L388.7 141.6ZM398.8 135.8L396.2 135.3L393.7 134.8L405.4 129.4L418.0 124.4L419.7 124.8L421.4 125.2L409.6 130.3ZM421.4 125.2L420.5 125.0L419.7 124.8L418.8 124.6L418.0 124.4L424.7 122.0L431.8 119.9L439.1 117.9L446.8 116.1L447.1 116.2L447.5 116.4L447.8 116.5L448.2 116.6L441.0 118.5L434.1 120.6L427.6 122.8ZM448.2 116.6L447.8 116.5L447.5 116.4L447.1 116.2L446.8 116.1L454.8 114.5L463.1 113.3L471.5 112.5L480.0 112.2L471.6 112.7L463.5 113.6L455.7 115.0ZM390.7 533.8L395.2 533.4L395.6 532.5L393.3 531.2L389.6 529.6L390.9 529.7L392.2 529.9L393.6 530.0L394.9 530.2L397.8 531.7L398.9 532.9L397.1 533.6ZM394.9 530.2L393.6 530.0L392.2 529.9L390.9 529.7L389.6 529.6L385.2 527.7L380.4 525.7L375.4 523.5L370.4 521.1L372.2 521.4L374.0 521.6L375.8 521.8L377.6 522.0L382.2 524.3L386.7 526.4L391.0 528.4ZM377.6 522.0L374.0 521.6L370.4 521.1L360.5 516.1L350.9 510.6L355.2 511.1L359.5 511.6L368.4 517.0ZM359.5 511.6L355.2 511.1L350.9 510.6L341.8 504.8L333.2 498.6L338.0 499.2L342.9 499.7L350.9 505.8ZM342.9 499.7L333.2 498.6L317.4 485.5L328.1 486.7ZM328.1 486.7L317.4 485.5L303.6 471.4L315.0 472.7ZM315.0 472.7L303.6 471.4L291.5 456.6L303.7 457.9ZM303.7 457.9L291.5 456.6L281.1 441.1L293.9 442.5ZM293.9 442.5L281.1 441.1L272.3 425.1L285.6 426.5ZM285.6 426.5L272.3 425.1L265.2 408.5L278.9 410.0ZM354.4 159.8L346.5 158.6L366.2 145.6L372.7 146.7ZM393.7 134.8L391.2 134.3L388.7 133.8L401.3 128.5L414.8 123.5L416.4 123.9L418.0 124.4L405.4 129.4ZM418.0 124.4L417.2 124.2L416.4 123.9L415.6 123.7L414.8 123.5L422.0 121.2L429.6 119.1L437.4 117.2L445.6 115.5L445.9 115.6L446.2 115.8L446.5 115.9L446.8 116.1L439.1 117.9L431.8 119.9L424.7 122.0ZM446.8 116.1L446.5 115.9L446.2 115.8L445.9 115.6L445.6 115.5L454.1 114.0L462.8 112.9L471.4 112.3L480.0 112.2L471.5 112.5L463.1 113.3L454.8 114.5ZM390.7 533.8L393.4 533.2L392.3 532.2L389.0 530.7L384.5 529.0L385.8 529.2L387.0 529.3L388.3 529.5L389.6 529.6L393.3 531.2L395.6 532.5L395.2 533.4ZM389.6 529.6L388.3 529.5L387.0 529.3L385.8 529.2L384.5 529.0L379.4 527.1L374.1 525.0L368.6 522.7L363.2 520.3L365.0 520.5L366.8 520.7L368.6 520.9L370.4 521.1L375.4 523.5L380.4 525.7L385.2 527.7ZM370.4 521.1L366.8 520.7L363.2 520.3L352.6 515.2L342.4 509.6L346.6 510.1L350.9 510.6L360.5 516.1ZM350.9 510.6L346.6 510.1L342.4 509.6L332.7 503.7L323.6 497.5L328.4 498.1L333.2 498.6L341.8 504.8ZM333.2 498.6L323.6 497.5L306.8 484.3L317.4 485.5ZM313.9 187.3L303.8 185.9L320.2 171.3L329.2 172.5ZM329.2 172.5L320.2 171.3L338.7 157.4L346.5 158.6ZM346.5 158.6L338.7 157.4L359.8 144.5L366.2 145.6Z"/>
<path fill="#00e1ff" d="M238.5 320.2L224.2 318.7L226.6 301.1L240.8 302.6ZM240.8 302.6L226.6 301.1L230.9 283.6L244.7 285.0ZM244.7 285.0L230.9 283.6L236.8 266.2L250.3 267.7ZM257.8 466.7L246.5 465.7L230.7 450.6L242.8 451.7ZM229.9 435.9L217.2 434.8L205.9 418.5L219.1 419.7ZM241.9 213.2L230.2 212.0L245.8 196.2L256.8 197.4ZM256.8 197.4L245.8 196.2L263.9 181.0L273.9 182.1ZM293.4 167.6L284.4 166.5L307.8 152.9L315.6 154.0ZM270.2 503.4L266.6 503.2L263.0 503.1L247.0 496.7L231.9 490.1L236.2 490.3L240.4 490.5L254.8 497.1ZM212.5 176.5L201.8 176.0L228.5 161.7L238.3 162.2ZM142.7 430.1L130.7 429.7L115.2 413.2L127.9 413.6ZM178.4 191.0L166.7 190.6L190.8 175.6L201.8 176.0ZM259.0 148.3L250.1 148.0L286.4 135.6L294.0 136.0ZM294.0 136.0L290.3 135.8L286.4 135.6L306.7 129.9L328.7 124.5L331.9 124.7L334.9 124.9L313.6 130.2ZM127.9 222.5L114.7 222.2L133.1 206.0L145.8 206.3ZM328.7 124.5L325.5 124.4L322.1 124.3L347.2 119.4L375.5 114.9L378.0 115.0L380.3 115.1L353.0 119.6ZM380.3 115.1L379.2 115.0L378.0 115.0L376.8 114.9L375.5 114.9L391.4 112.9L408.8 111.1L428.7 109.5L452.5 108.2L452.5 108.3L452.3 108.3L452.0 108.4L451.6 108.5L430.8 109.7L412.2 111.3L395.5 113.1ZM451.6 108.5L452.0 108.4L452.3 108.3L452.5 108.3L452.5 108.2L473.3 107.9L477.1 108.9L478.8 110.4L480.0 112.2L477.8 110.5L474.8 109.0L468.7 108.2ZM177.1 475.6L168.3 475.6L140.4 460.9L150.3 460.8ZM786.5 475.6L777.6 475.6L803.7 460.9L813.7 460.8ZM834.1 429.6L822.1 429.9L837.2 413.4L849.8 413.1ZM849.8 413.1L837.2 413.4L849.4 396.5L862.6 396.2ZM819.3 206.2L806.8 206.5L786.3 190.9L798.1 190.5ZM798.1 190.5L786.3 190.9L762.6 175.8L773.6 175.5ZM806.8 206.5L794.4 207.0L774.6 191.4L786.3 190.9ZM772.7 461.7L762.0 462.2L781.3 446.9L792.8 446.3ZM845.3 379.8L831.5 380.5L837.7 363.0L851.8 362.4ZM781.3 446.9L769.6 447.5L785.4 431.6L797.8 430.9ZM811.6 414.5L798.7 415.2L809.4 398.4L822.8 397.6ZM785.4 431.6L773.0 432.4L785.7 416.1L798.7 415.2ZM817.9 275.7L804.0 276.7L796.1 259.3L809.7 258.4ZM809.7 258.4L796.1 259.3L785.8 242.3L799.0 241.4ZM729.1 464.4L718.0 465.3L734.1 450.2L746.0 449.2ZM760.7 226.6L748.2 227.8L734.5 211.5L746.3 210.4ZM729.6 194.6L718.6 195.7L700.2 180.5L710.2 179.5ZM699.4 479.8L689.0 480.7L706.7 466.3L718.0 465.3ZM640.3 497.1L630.7 498.2L646.8 485.0L657.4 483.9ZM602.8 144.1L599.6 144.6L596.4 145.2L585.2 139.2L573.2 133.4L575.7 132.9L578.1 132.4L590.8 138.1ZM578.1 132.4L575.7 132.9L573.2 133.4L560.3 128.1L546.4 123.2L547.9 122.8L549.4 122.3L564.3 127.2ZM549.4 122.3L548.6 122.5L547.9 122.8L547.2 123.0L546.4 123.2L539.0 120.9L531.2 118.8L523.2 116.9L514.8 115.2L515.0 115.1L515.2 114.9L515.4 114.8L515.6 114.6L524.5 116.2L533.2 118.1L541.4 120.1ZM515.6 114.6L515.4 114.8L515.2 114.9L515.0 115.1L514.8 115.2L506.1 113.8L497.3 112.8L488.6 112.2L480.0 112.2L488.5 112.0L497.4 112.4L506.5 113.3ZM569.3 533.8L563.7 533.5L562.4 532.7L564.0 531.5L567.2 529.9L568.5 529.8L569.8 529.6L571.1 529.5L572.4 529.4L568.4 531.0L565.7 532.4L565.5 533.3ZM572.4 529.4L571.1 529.5L569.8 529.6L568.5 529.8L567.2 529.9L571.3 528.1L575.8 526.1L580.5 524.0L585.3 521.6L587.1 521.4L588.9 521.2L590.7 521.0L592.5 520.8L587.3 523.2L582.2 525.4L577.1 527.5ZM592.5 520.8L588.9 521.2L585.3 521.6L594.8 516.6L604.0 511.2L608.2 510.7L612.5 510.2L602.7 515.7ZM686.1 234.5L673.7 236.0L664.1 219.5L675.9 218.1ZM616.6 158.1L608.8 159.3L589.9 146.3L596.4 145.2ZM604.0 511.2L599.7 511.7L595.4 512.2L603.6 506.4L611.3 500.4L616.1 499.8L621.0 499.3L612.7 505.4ZM649.6 472.2L638.1 473.5L649.0 458.7L661.2 457.4ZM688.1 270.1L674.6 271.6L668.6 254.4L681.7 252.9ZM681.7 252.9L668.6 254.4L661.2 237.5L673.7 236.0ZM664.1 219.5L652.3 220.9L642.0 204.9L653.0 203.5ZM653.0 203.5L642.0 204.9L630.0 189.4L640.1 188.1ZM640.1 188.1L630.0 189.4L616.4 174.6L625.4 173.3ZM625.4 173.3L616.4 174.6L600.9 160.5L608.8 159.3ZM665.3 290.5L651.4 292.0L647.5 274.5L661.1 273.1ZM632.8 446.0L620.1 447.4L626.4 431.5L639.7 430.2ZM639.7 430.2L626.4 431.5L631.7 415.1L645.4 413.8ZM645.4 413.8L631.7 415.1L635.8 398.4L649.8 397.0ZM655.6 327.3L641.2 328.7L639.9 311.1L654.1 309.6ZM635.8 398.4L621.8 399.7L624.5 382.6L638.8 381.3ZM638.8 381.3L624.5 382.6L626.3 365.3L640.7 363.9ZM640.7 363.9L626.3 365.3L627.1 347.7L641.5 346.4ZM583.2 492.0L572.8 493.1L581.1 479.5L592.4 478.4ZM588.9 194.3L578.5 195.4L569.8 180.3L579.3 179.3ZM568.4 164.9L560.0 165.9L548.8 152.3L556.0 151.4ZM541.8 526.7L538.3 527.1L534.7 527.5L539.7 523.0L544.6 517.9L548.8 517.5L552.9 517.0L547.4 522.1ZM552.9 517.0L548.8 517.5L544.6 517.9L549.4 512.4L554.0 506.6L558.7 506.2L563.4 505.7L558.3 511.5ZM578.5 195.4L568.0 196.4L560.3 181.2L569.8 180.3ZM508.4 510.0L499.5 510.4L501.8 498.0L511.7 497.7ZM521.4 249.3L508.4 249.7L507.1 232.8L519.4 232.4ZM519.4 232.4L507.1 232.8L505.6 216.3L517.2 215.9ZM517.2 215.9L505.6 216.3L503.8 200.3L514.6 200.0ZM514.6 200.0L503.8 200.3L501.8 184.9L511.6 184.6ZM511.6 184.6L501.8 184.9L499.5 170.1L508.3 169.8ZM504.4 155.9L500.6 156.1L496.8 156.2L495.4 149.5L493.8 143.2L496.9 143.1L500.0 142.9L502.3 149.3ZM508.5 439.7L495.5 440.0L496.1 423.8L509.6 423.5ZM509.6 423.5L496.1 423.8L496.6 407.1L510.4 406.9ZM510.4 406.9L496.6 407.1L496.9 390.1L511.1 389.9ZM511.1 389.9L496.9 390.1L497.2 372.8L511.5 372.5ZM511.5 372.5L497.2 372.8L497.3 355.3L511.7 355.0ZM511.5 319.7L497.2 319.9L496.9 302.2L511.0 302.0ZM511.0 302.0L496.9 302.2L496.6 284.6L510.4 284.3ZM510.4 284.3L496.6 284.6L496.1 267.2L509.5 266.9ZM509.5 266.9L496.1 267.2L495.5 249.9L508.4 249.7ZM508.4 249.7L495.5 249.9L494.8 233.0L507.1 232.8ZM481.5 156.4L477.7 156.4L473.9 156.4L474.4 149.8L475.0 143.4L478.1 143.4L481.3 143.4L481.4 149.8ZM460.5 484.8L449.6 484.4L447.4 470.2L459.0 470.5ZM459.1 216.4L447.4 216.1L449.7 200.1L460.5 200.4ZM443.7 439.5L430.7 439.0L428.9 422.8L442.4 423.3ZM442.4 423.3L428.9 422.8L427.4 406.1L441.3 406.6ZM442.4 266.7L429.0 266.2L430.9 249.0L443.8 249.5ZM427.4 406.1L413.5 405.4L412.2 388.4L426.3 389.1ZM426.3 389.1L412.2 388.4L411.3 371.1L425.6 371.8ZM425.6 371.8L411.3 371.1L410.8 353.6L425.2 354.3ZM425.7 318.9L411.4 318.2L412.3 300.5L426.4 301.2ZM426.4 301.2L412.3 300.5L413.8 283.0L427.5 283.6ZM427.5 283.6L413.8 283.0L415.7 265.5L429.0 266.2ZM429.0 266.2L415.7 265.5L418.0 248.4L430.9 249.0ZM442.4 184.3L432.6 183.8L437.7 169.1L446.5 169.6ZM423.9 469.1L412.1 468.3L408.1 453.3L420.6 454.0ZM420.9 231.5L408.7 230.8L412.7 214.4L424.3 215.1ZM396.5 335.1L382.1 334.2L382.8 316.5L397.1 317.4ZM397.1 317.4L382.8 316.5L384.2 298.8L398.2 299.7ZM400.0 282.2L386.2 281.3L389.0 263.9L402.3 264.8ZM382.1 334.2L367.7 333.1L368.5 315.4L382.8 316.5ZM433.4 534.5L432.0 534.3L430.5 534.2L429.1 534.0L427.7 533.9L427.4 532.6L425.8 531.0L423.5 529.1L421.0 527.0L422.8 527.2L424.6 527.4L426.4 527.6L428.1 527.8L430.3 529.8L432.3 531.7L433.5 533.3ZM426.2 140.0L423.3 139.7L420.5 139.3L428.1 133.5L436.3 128.1L438.3 128.4L440.4 128.7L433.0 134.2ZM440.4 128.7L439.3 128.6L438.3 128.4L437.3 128.3L436.3 128.1L440.7 125.5L445.3 123.1L450.2 120.8L455.3 118.6L455.8 118.7L456.4 118.8L456.9 118.9L457.5 119.0L452.8 121.3L448.5 123.6L444.3 126.1ZM457.5 119.0L456.9 118.9L456.4 118.8L455.8 118.7L455.3 118.6L460.8 116.6L466.7 114.9L473.0 113.3L480.0 112.2L473.6 113.5L467.8 115.1L462.4 117.0ZM392.9 149.9L389.5 149.4L386.1 148.9L394.7 142.6L404.0 136.7L406.7 137.2L409.4 137.6L400.9 143.6ZM370.3 162.1L362.3 161.0L379.4 147.8L386.1 148.9ZM386.1 148.9L382.7 148.4L379.4 147.8L388.7 141.6L398.8 135.8L401.4 136.3L404.0 136.7L394.7 142.6ZM404.0 136.7L401.4 136.3L398.8 135.8L409.6 130.3L421.4 125.2L423.1 125.6L424.9 126.0L414.0 131.1ZM424.9 126.0L424.0 125.8L423.1 125.6L422.2 125.4L421.4 125.2L427.6 122.8L434.1 120.6L441.0 118.5L448.2 116.6L448.5 116.8L448.9 116.9L449.3 117.0L449.7 117.2L443.0 119.1L436.7 121.3L430.6 123.5ZM449.7 117.2L449.3 117.0L448.9 116.9L448.5 116.8L448.2 116.6L455.7 115.0L463.5 113.6L471.6 112.7L480.0 112.2L471.9 112.8L464.1 114.0L456.7 115.4ZM334.1 189.9L323.9 188.6L338.2 173.8L347.3 175.1ZM347.3 175.1L338.2 173.8L354.4 159.8L362.3 161.0ZM362.3 161.0L354.4 159.8L372.7 146.7L379.4 147.8ZM283.5 253.5L270.5 252.0L278.8 235.1L291.3 236.6ZM291.3 236.6L278.8 235.1L288.8 218.7L300.6 220.1ZM300.6 220.1L288.8 218.7L300.5 202.7L311.4 204.1ZM338.2 173.8L329.2 172.5L346.5 158.6L354.4 159.8ZM300.5 202.7L289.5 201.3L303.8 185.9L313.9 187.3Z"/>
<path fill="#00ffc8" d="M266.4 233.7L254.0 232.2L265.3 215.8L277.1 217.2ZM224.0 404.3L210.3 403.0L203.5 386.0L217.5 387.3ZM217.0 282.1L203.2 280.7L209.9 263.4L223.3 264.7ZM223.3 264.7L209.9 263.4L218.5 246.3L231.5 247.6ZM231.5 247.6L218.5 246.3L229.2 229.5L241.6 230.9ZM283.9 183.4L273.9 182.1L293.4 167.6L302.3 168.8ZM390.7 533.8L386.2 532.6L379.7 531.0L372.5 529.1L365.0 527.1L366.2 527.2L367.3 527.3L368.5 527.4L369.7 527.5L376.4 529.5L382.7 531.3L387.9 532.7ZM369.7 527.5L368.5 527.4L367.3 527.3L366.2 527.2L365.0 527.1L357.5 524.9L350.0 522.6L342.7 520.1L335.6 517.5L337.2 517.7L338.9 517.8L340.6 518.0L342.3 518.2L349.0 520.7L355.8 523.1L362.8 525.4ZM342.3 518.2L338.9 517.8L335.6 517.5L321.9 512.1L309.0 506.2L313.1 506.6L317.2 507.0L329.4 512.8ZM317.2 507.0L313.1 506.6L309.0 506.2L296.9 500.1L285.5 493.7L290.2 494.1L294.9 494.6L305.7 500.9ZM294.9 494.6L285.5 493.7L264.7 480.1L275.1 481.1ZM219.1 419.7L205.9 418.5L196.6 401.8L210.3 403.0ZM238.3 162.2L228.5 161.7L259.0 148.3L267.7 148.8ZM201.8 176.0L190.8 175.6L218.5 161.3L228.5 161.7ZM170.5 461.1L160.3 460.9L137.9 445.5L149.1 445.7ZM231.2 147.6L221.2 147.7L260.9 135.3L269.8 135.3ZM732.7 147.6L723.0 147.7L685.0 135.3L693.7 135.3ZM875.6 396.0L862.6 396.2L872.5 379.0L886.1 378.8ZM900.0 326.0L885.7 326.2L884.6 308.5L899.0 308.3ZM793.6 461.0L783.2 461.3L804.2 445.9L815.4 445.6ZM762.6 175.8L751.8 176.3L725.6 162.0L735.5 161.6ZM725.6 162.0L716.0 162.6L687.3 149.2L695.8 148.6ZM797.8 430.9L785.4 431.6L798.7 415.2L811.6 414.5ZM763.1 192.0L751.8 192.7L730.7 177.7L741.2 176.9ZM677.8 504.1L674.0 504.4L670.1 504.6L683.8 498.4L696.6 491.9L701.1 491.6L705.6 491.3L692.2 497.8ZM679.0 149.9L671.0 150.7L640.9 138.2L647.6 137.4ZM696.6 491.9L687.5 492.6L709.7 478.9L719.9 478.1ZM740.2 463.6L729.1 464.4L746.0 449.2L757.9 448.3ZM773.2 225.6L760.7 226.6L746.3 210.4L758.2 209.3ZM758.2 209.3L746.3 210.4L729.6 194.6L740.6 193.6ZM740.6 193.6L729.6 194.6L710.2 179.5L720.4 178.5ZM709.7 478.9L699.4 479.8L718.0 465.3L729.1 464.4ZM569.3 533.8L572.8 532.7L578.5 531.1L585.1 529.4L592.2 527.4L593.4 527.3L594.5 527.2L595.7 527.1L596.8 527.0L589.0 529.0L581.4 530.9L574.5 532.5ZM596.8 527.0L595.7 527.1L594.5 527.2L593.4 527.3L592.2 527.4L599.4 525.2L606.5 522.9L613.5 520.5L620.4 517.9L622.1 517.7L623.8 517.6L625.4 517.4L627.1 517.3L619.8 519.9L612.3 522.4L604.6 524.7ZM627.1 517.3L623.8 517.6L620.4 517.9L633.6 512.5L646.1 506.7L650.2 506.3L654.2 506.0L641.1 511.8ZM648.7 238.9L636.2 240.3L628.6 223.7L640.5 222.3ZM615.2 476.0L603.8 477.2L612.5 462.6L624.7 461.4ZM624.7 461.4L612.5 462.6L620.1 447.4L632.8 446.0ZM647.5 274.5L633.9 276.0L629.3 258.7L642.4 257.3ZM593.7 490.9L583.2 492.0L592.4 478.4L603.8 477.2ZM563.0 150.5L559.5 151.0L556.0 151.4L549.1 145.1L541.8 139.0L544.6 138.6L547.3 138.2L555.4 144.2ZM547.3 138.2L544.6 138.6L541.8 139.0L533.9 133.2L525.3 127.8L527.3 127.5L529.2 127.1L538.6 132.5ZM529.2 127.1L528.2 127.3L527.3 127.5L526.3 127.7L525.3 127.8L520.7 125.3L515.9 122.9L510.9 120.6L505.5 118.5L506.0 118.3L506.5 118.2L507.0 118.1L507.5 118.0L513.3 120.1L518.9 122.3L524.2 124.7ZM507.5 118.0L507.0 118.1L506.5 118.2L506.0 118.3L505.5 118.5L499.8 116.5L493.7 114.7L487.1 113.3L480.0 112.2L487.6 113.1L494.6 114.5L501.3 116.1ZM549.0 525.9L545.4 526.3L541.8 526.7L547.4 522.1L552.9 517.0L557.1 516.6L561.3 516.1L555.2 521.2ZM561.3 516.1L557.1 516.6L552.9 517.0L558.3 511.5L563.4 505.7L568.1 505.2L572.9 504.7L567.2 510.6ZM496.8 156.2L493.0 156.3L489.2 156.4L488.4 149.7L487.5 143.3L490.7 143.3L493.8 143.2L495.4 149.5ZM569.3 533.8L550.3 535.6L528.2 537.1L498.4 538.3L481.2 538.0L482.8 537.9L484.3 537.9L485.8 537.9L487.4 537.8L499.2 538.1L526.7 537.1L549.5 535.6ZM487.4 537.8L485.8 537.9L484.3 537.9L482.8 537.9L481.2 538.0L481.1 536.6L481.2 535.0L481.2 533.2L481.3 531.2L482.9 531.2L484.4 531.2L486.0 531.1L487.6 531.1L487.2 533.1L486.9 534.9L486.8 536.5ZM481.3 531.2L478.1 531.2L474.9 531.2L474.4 526.7L473.9 521.7L477.7 521.8L481.5 521.8L481.4 526.7ZM481.5 521.8L477.7 521.8L473.9 521.7L473.4 516.4L472.9 510.7L477.4 510.7L481.8 510.7L481.6 516.4ZM468.7 390.2L454.6 390.0L454.2 372.7L468.6 372.9ZM468.6 372.9L454.2 372.7L454.1 355.2L468.5 355.4ZM462.2 498.2L452.2 497.8L449.6 484.4L460.5 484.8ZM460.5 200.4L449.7 200.1L452.3 184.7L462.2 185.0ZM462.2 185.0L452.3 184.7L455.3 170.0L464.1 170.2ZM455.2 510.2L446.3 509.8L442.3 497.4L452.2 497.8ZM452.2 497.8L442.3 497.4L438.7 484.0L449.6 484.4ZM449.6 484.4L438.7 484.0L435.7 469.7L447.4 470.2ZM455.3 170.0L446.5 169.6L451.0 155.7L458.6 156.0ZM433.2 232.1L420.9 231.5L424.3 215.1L435.8 215.7ZM435.8 215.7L424.3 215.1L428.2 199.1L438.9 199.7ZM443.5 155.3L439.7 155.0L436.0 154.7L439.9 148.2L444.0 141.9L447.0 142.1L450.1 142.4L446.7 148.7ZM434.9 519.7L430.9 519.4L426.9 519.0L422.8 513.6L419.0 507.8L423.6 508.2L428.2 508.6L431.5 514.3ZM422.1 496.1L411.9 495.3L405.7 481.8L416.8 482.7ZM416.8 482.7L405.7 481.8L400.3 467.5L412.1 468.3ZM412.1 468.3L400.3 467.5L395.6 452.4L408.1 453.3ZM408.1 453.3L395.6 452.4L391.6 436.7L404.7 437.6ZM408.7 230.8L396.5 229.9L401.3 213.6L412.7 214.4ZM412.7 214.4L401.3 213.6L406.8 197.7L417.5 198.5ZM417.5 198.5L406.8 197.7L413.2 182.4L422.9 183.2ZM395.6 452.4L383.0 451.4L378.5 435.6L391.6 436.7ZM391.6 436.7L378.5 435.6L374.7 419.4L388.3 420.4ZM392.4 246.7L379.6 245.8L384.3 229.0L396.5 229.9ZM396.5 229.9L384.3 229.0L389.8 212.7L401.3 213.6ZM401.3 213.6L389.8 212.7L396.2 196.8L406.8 197.7ZM372.7 146.7L369.5 146.2L366.2 145.6L377.1 139.6L388.7 133.8L391.2 134.3L393.7 134.8L382.9 140.6Z"/>
<path fill="#00ff32" d="M359.8 144.5L356.6 144.0L353.4 143.4L365.8 137.5L379.1 131.8L381.5 132.3L383.9 132.8L371.4 138.5ZM383.9 132.8L381.5 132.3L379.1 131.8L393.4 126.6L408.9 121.8L410.4 122.2L411.8 122.7L397.3 127.5ZM411.8 122.7L411.1 122.5L410.4 122.2L409.6 122.0L408.9 121.8L417.2 119.6L425.8 117.6L434.7 115.8L444.0 114.3L444.1 114.4L444.3 114.6L444.5 114.7L444.7 114.9L436.0 116.5L427.6 118.4L419.5 120.4ZM444.7 114.9L444.5 114.7L444.3 114.6L444.1 114.4L444.0 114.3L453.4 113.0L462.7 112.2L471.6 111.9L480.0 112.2L471.5 112.1L462.6 112.6L453.6 113.5ZM390.7 533.8L389.7 532.9L385.8 531.5L380.5 529.9L374.5 528.0L375.7 528.1L377.0 528.3L378.2 528.4L379.4 528.5L384.7 530.3L389.0 531.8L391.5 533.1ZM379.4 528.5L378.2 528.4L377.0 528.3L375.7 528.1L374.5 528.0L368.2 525.9L361.8 523.7L355.4 521.3L349.2 518.9L350.9 519.0L352.6 519.2L354.4 519.4L356.1 519.6L362.0 522.0L367.9 524.3L373.7 526.5ZM356.1 519.6L352.6 519.2L349.2 518.9L337.0 513.5L325.5 507.8L329.7 508.3L333.9 508.7L344.8 514.3ZM333.9 508.7L329.7 508.3L325.5 507.8L314.6 501.8L304.4 495.5L309.1 496.0L313.9 496.5L323.6 502.8ZM255.4 438.4L242.6 437.2L232.3 421.0L245.6 422.3ZM244.5 249.0L231.5 247.6L241.6 230.9L254.0 232.2ZM254.0 232.2L241.6 230.9L253.6 214.5L265.3 215.8ZM265.3 215.8L253.6 214.5L267.7 198.6L278.6 200.0ZM278.6 200.0L267.7 198.6L283.9 183.4L293.8 184.6ZM379.1 131.8L376.7 131.3L374.4 130.9L389.7 125.7L406.2 121.0L407.6 121.4L408.9 121.8L393.4 126.6ZM408.9 121.8L408.2 121.6L407.6 121.4L406.9 121.2L406.2 121.0L415.0 118.8L424.2 116.9L433.7 115.1L443.5 113.6L443.6 113.8L443.7 113.9L443.8 114.1L444.0 114.3L434.7 115.8L425.8 117.6L417.2 119.6ZM444.0 114.3L443.8 114.1L443.7 113.9L443.6 113.8L443.5 113.6L453.3 112.5L462.9 111.8L471.8 111.7L480.0 112.2L471.6 111.9L462.7 112.2L453.4 113.0ZM713.3 502.6L710.0 502.7L706.7 502.8L723.7 496.4L739.6 489.7L743.6 489.7L747.6 489.6L731.0 496.2ZM706.7 502.8L703.3 502.9L699.8 503.0L716.1 496.6L731.4 490.0L735.5 489.8L739.6 489.7L723.7 496.4ZM657.9 515.1L655.1 515.2L652.2 515.4L669.3 509.7L685.4 503.6L689.1 503.4L692.7 503.3L675.9 509.3ZM569.3 533.8L579.3 532.2L589.6 530.3L599.8 528.2L609.8 525.9L610.8 525.9L611.7 525.8L612.7 525.7L613.7 525.7L603.1 528.0L592.1 530.1L580.7 532.1ZM613.7 525.7L612.7 525.7L611.7 525.8L610.8 525.9L609.8 525.9L619.3 523.6L628.6 521.1L637.5 518.5L646.2 515.8L647.7 515.7L649.2 515.6L650.7 515.5L652.2 515.4L643.1 518.1L633.7 520.8L623.9 523.3ZM652.2 515.4L649.2 515.6L646.2 515.8L662.5 510.1L677.8 504.1L681.6 503.9L685.4 503.6L669.3 509.7ZM569.3 533.8L577.8 532.3L587.0 530.4L596.4 528.4L605.6 526.2L606.7 526.2L607.7 526.1L608.7 526.0L609.8 525.9L599.8 528.2L589.6 530.3L579.3 532.2ZM609.8 525.9L608.7 526.0L607.7 526.1L606.7 526.2L605.6 526.2L614.6 523.9L623.3 521.5L631.8 518.9L640.0 516.2L641.5 516.1L643.1 516.0L644.6 515.9L646.2 515.8L637.5 518.5L628.6 521.1L619.3 523.6ZM646.2 515.8L643.1 516.0L640.0 516.2L655.6 510.6L670.1 504.6L674.0 504.4L677.8 504.1L662.5 510.1ZM570.8 523.3L567.2 523.8L563.6 524.2L571.0 519.4L578.3 514.2L582.6 513.7L586.8 513.2L578.9 518.5ZM592.9 161.7L584.8 162.8L569.8 149.5L576.6 148.5ZM576.6 148.5L573.3 149.0L569.8 149.5L561.6 143.2L552.8 137.3L555.4 136.8L558.1 136.4L567.7 142.3ZM558.1 136.4L555.4 136.8L552.8 137.3L543.2 131.7L532.9 126.4L534.8 126.0L536.5 125.7L547.7 130.8ZM536.5 125.7L535.7 125.8L534.8 126.0L533.9 126.2L532.9 126.4L527.5 124.0L521.7 121.7L515.7 119.5L509.3 117.5L509.7 117.4L510.1 117.2L510.5 117.1L510.9 117.0L517.8 118.9L524.3 121.0L530.6 123.3ZM510.9 117.0L510.5 117.1L510.1 117.2L509.7 117.4L509.3 117.5L502.6 115.7L495.5 114.2L487.9 112.9L480.0 112.2L488.2 112.8L496.1 113.8L503.7 115.3ZM569.3 533.8L556.6 534.3L548.9 534.2L545.7 533.5L545.7 532.4L547.0 532.2L548.4 532.1L549.8 531.9L551.1 531.7L550.4 533.0L552.3 533.8L558.3 534.1ZM563.6 524.2L559.9 524.6L556.3 525.0L563.1 520.3L569.8 515.1L574.0 514.7L578.3 514.2L571.0 519.4ZM628.6 223.7L616.7 225.0L608.6 208.8L619.8 207.6ZM619.8 207.6L608.6 208.8L599.3 193.2L609.6 192.0ZM609.6 192.0L599.3 193.2L588.7 178.2L598.0 177.0ZM598.0 177.0L588.7 178.2L576.6 163.9L584.8 162.8ZM569.8 149.5L566.4 150.0L563.0 150.5L555.4 144.2L547.3 138.2L550.1 137.7L552.8 137.3L561.6 143.2ZM552.8 137.3L550.1 137.7L547.3 138.2L538.6 132.5L529.2 127.1L531.1 126.8L532.9 126.4L543.2 131.7ZM532.9 126.4L532.0 126.6L531.1 126.8L530.1 127.0L529.2 127.1L524.2 124.7L518.9 122.3L513.3 120.1L507.5 118.0L507.9 117.9L508.4 117.7L508.8 117.6L509.3 117.5L515.7 119.5L521.7 121.7L527.5 124.0ZM509.3 117.5L508.8 117.6L508.4 117.7L507.9 117.9L507.5 118.0L501.3 116.1L494.6 114.5L487.6 113.1L480.0 112.2L487.9 112.9L495.5 114.2L502.6 115.7ZM569.3 533.8L555.1 534.5L545.6 534.5L541.0 534.0L540.1 533.0L541.5 532.8L542.9 532.7L544.3 532.5L545.7 532.4L545.7 533.5L548.9 534.2L556.6 534.3ZM545.7 532.4L544.3 532.5L542.9 532.7L541.5 532.8L540.1 533.0L541.2 531.6L543.4 529.9L546.1 528.0L549.0 525.9L550.8 525.7L552.7 525.5L554.5 525.3L556.3 525.0L553.0 527.2L549.9 529.1L547.3 530.9ZM569.8 515.1L565.5 515.6L561.3 516.1L567.2 510.6L572.9 504.7L577.6 504.2L582.4 503.6L576.3 509.6ZM483.3 120.8L482.6 120.8L481.9 120.9L481.2 120.9L480.5 120.9L480.4 118.5L480.3 116.2L480.2 114.1L480.0 112.2L481.0 114.1L481.8 116.2L482.6 118.5ZM480.9 131.4L479.8 131.4L478.6 131.4L477.4 131.4L476.3 131.4L476.6 128.6L477.0 125.9L477.4 123.3L477.8 120.9L478.5 120.9L479.2 120.9L479.9 120.9L480.5 120.9L480.7 123.4L480.8 126.0L480.8 128.7ZM480.5 120.9L479.9 120.9L479.2 120.9L478.5 120.9L477.8 120.9L478.3 118.5L478.8 116.2L479.3 114.1L480.0 112.2L480.2 114.1L480.3 116.2L480.4 118.5ZM476.3 131.4L475.1 131.4L473.9 131.4L472.7 131.4L471.6 131.3L472.4 128.5L473.2 125.9L474.1 123.3L475.1 120.8L475.8 120.8L476.5 120.8L477.1 120.8L477.8 120.9L477.4 123.3L477.0 125.9L476.6 128.6ZM477.8 120.9L477.1 120.8L476.5 120.8L475.8 120.8L475.1 120.8L476.1 118.4L477.3 116.2L478.5 114.1L480.0 112.2L479.3 114.1L478.8 116.2L478.3 118.5ZM466.9 131.2L465.8 131.1L464.6 131.0L463.5 131.0L462.3 130.9L464.0 128.2L465.8 125.5L467.7 123.0L469.7 120.5L470.4 120.6L471.1 120.6L471.7 120.6L472.4 120.7L470.9 123.1L469.5 125.7L468.2 128.4ZM448.9 529.8L445.5 529.5L442.1 529.2L438.5 524.7L434.9 519.7L438.9 520.1L442.9 520.4L445.9 525.3Z"/>
<path fill="#00ff00" d="M313.9 496.5L304.4 495.5L285.7 482.1L296.2 483.2ZM296.2 483.2L285.7 482.1L269.2 467.8L280.6 469.0ZM280.6 469.0L269.2 467.8L254.9 452.8L267.1 454.0ZM267.1 454.0L254.9 452.8L242.6 437.2L255.4 438.4ZM293.8 184.6L283.9 183.4L302.3 168.8L311.2 170.0ZM311.2 170.0L302.3 168.8L323.3 155.1L331.0 156.2ZM578.3 514.2L574.0 514.7L569.8 515.1L576.3 509.6L582.4 503.6L587.2 503.1L592.0 502.6L585.3 508.5Z"/>
<path fill="#00ff64" d="M245.6 422.3L232.3 421.0L224.0 404.3L237.7 405.7ZM237.7 405.7L224.0 404.3L217.5 387.3L231.5 388.7ZM224.4 354.0L210.0 352.6L209.0 334.9L223.4 336.4ZM223.4 336.4L209.0 334.9L209.9 317.3L224.2 318.7ZM224.2 318.7L209.9 317.3L212.5 299.6L226.6 301.1ZM226.6 301.1L212.5 299.6L217.0 282.1L230.9 283.6ZM230.9 283.6L217.0 282.1L223.3 264.7L236.8 266.2ZM236.8 266.2L223.3 264.7L231.5 247.6L244.5 249.0ZM390.7 533.8L387.9 532.7L382.7 531.3L376.4 529.5L369.7 527.5L370.9 527.7L372.1 527.8L373.3 527.9L374.5 528.0L380.5 529.9L385.8 531.5L389.7 532.9ZM374.5 528.0L373.3 527.9L372.1 527.8L370.9 527.7L369.7 527.5L362.8 525.4L355.8 523.1L349.0 520.7L342.3 518.2L344.0 518.3L345.7 518.5L347.4 518.7L349.2 518.9L355.4 521.3L361.8 523.7L368.2 525.9ZM349.2 518.9L345.7 518.5L342.3 518.2L329.4 512.8L317.2 507.0L321.4 507.4L325.5 507.8L337.0 513.5ZM325.5 507.8L321.4 507.4L317.2 507.0L305.7 500.9L294.9 494.6L299.6 495.0L304.4 495.5L314.6 501.8ZM304.4 495.5L294.9 494.6L275.1 481.1L285.7 482.1ZM253.6 214.5L241.9 213.2L256.8 197.4L267.7 198.6ZM267.7 198.6L256.8 197.4L273.9 182.1L283.9 183.4ZM803.7 460.9L793.6 461.0L815.4 445.6L826.5 445.4ZM668.8 514.7L666.2 514.8L663.5 514.8L682.3 509.1L699.8 503.0L703.3 502.9L706.7 502.8L688.4 508.9ZM739.6 489.7L731.4 490.0L759.1 476.0L768.4 475.8ZM768.4 475.8L759.1 476.0L783.2 461.3L793.6 461.0ZM773.6 175.5L762.6 175.8L735.5 161.6L745.6 161.2ZM745.6 161.2L735.5 161.6L704.5 148.2L713.6 147.8ZM633.9 124.4L630.6 124.6L627.5 124.7L603.8 119.8L577.2 115.3L579.2 115.1L581.5 115.0L609.2 119.5ZM581.5 115.0L580.4 115.1L579.2 115.1L578.2 115.2L577.2 115.3L562.4 113.3L546.3 111.5L528.6 109.9L509.4 108.8L509.0 108.7L508.6 108.6L508.2 108.5L507.8 108.4L529.9 109.6L549.0 111.2L566.0 113.0ZM507.8 108.4L508.2 108.5L508.6 108.6L509.0 108.7L509.4 108.8L493.7 108.4L486.6 109.2L482.8 110.5L480.0 112.2L481.8 110.4L484.3 109.0L489.6 108.1ZM569.3 533.8L582.1 532.0L594.4 530.0L606.2 527.8L617.4 525.5L618.3 525.4L619.2 525.4L620.1 525.4L621.0 525.3L609.1 527.7L596.6 529.9L583.3 532.0ZM621.0 525.3L620.1 525.4L619.2 525.4L618.3 525.4L617.4 525.5L628.2 523.0L638.5 520.5L648.4 517.8L657.9 515.1L659.3 515.0L660.7 515.0L662.1 514.9L663.5 514.8L653.5 517.6L643.1 520.3L632.3 522.9ZM663.5 514.8L660.7 515.0L657.9 515.1L675.9 509.3L692.7 503.3L696.3 503.1L699.8 503.0L682.3 509.1ZM699.8 503.0L696.3 503.1L692.7 503.3L708.3 496.9L723.0 490.3L727.2 490.1L731.4 490.0L716.1 496.6ZM669.0 135.8L665.2 136.0L661.5 136.2L642.4 130.5L621.7 125.1L624.6 124.9L627.5 124.7L649.1 130.1ZM569.3 533.8L580.7 532.1L592.1 530.1L603.1 528.0L613.7 525.7L614.7 525.6L615.6 525.6L616.5 525.5L617.4 525.5L606.2 527.8L594.4 530.0L582.1 532.0ZM617.4 525.5L616.5 525.5L615.6 525.6L614.7 525.6L613.7 525.7L623.9 523.3L633.7 520.8L643.1 518.1L652.2 515.4L653.6 515.3L655.1 515.2L656.5 515.2L657.9 515.1L648.4 517.8L638.5 520.5L628.2 523.0ZM692.7 503.3L689.1 503.4L685.4 503.6L700.4 497.3L714.4 490.7L718.7 490.5L723.0 490.3L708.3 496.9ZM749.5 476.4L739.8 476.9L762.0 462.2L772.7 461.7ZM714.4 490.7L705.6 491.3L729.9 477.5L739.8 476.9ZM654.4 136.8L650.9 137.1L647.6 137.4L630.0 131.7L611.0 126.3L613.6 125.9L616.2 125.6L636.1 131.0ZM616.2 125.6L613.6 125.9L611.0 126.3L590.3 121.3L567.5 116.8L568.9 116.5L570.3 116.2L594.5 120.7ZM570.3 116.2L569.6 116.4L568.9 116.5L568.2 116.6L567.5 116.8L555.1 114.8L542.0 113.0L528.2 111.5L514.3 110.3L514.0 110.2L513.6 110.0L513.3 109.9L512.9 109.8L528.1 110.9L543.0 112.4L557.1 114.2ZM512.9 109.8L513.3 109.9L513.6 110.0L514.0 110.2L514.3 110.3L501.7 109.7L492.2 109.9L485.4 110.8L480.0 112.2L484.6 110.7L490.5 109.6L499.6 109.3ZM729.9 477.5L719.9 478.1L740.2 463.6L751.2 462.8ZM647.6 137.4L644.2 137.8L640.9 138.2L624.2 132.4L606.1 127.0L608.6 126.6L611.0 126.3L630.0 131.7ZM611.0 126.3L608.6 126.6L606.1 127.0L586.5 122.0L564.9 117.5L566.2 117.1L567.5 116.8L590.3 121.3ZM567.5 116.8L566.8 117.0L566.2 117.1L565.5 117.3L564.9 117.5L553.2 115.5L541.0 113.6L528.2 112.1L515.4 110.9L515.1 110.7L514.9 110.6L514.6 110.5L514.3 110.3L528.2 111.5L542.0 113.0L555.1 114.8ZM514.3 110.3L514.6 110.5L514.9 110.6L515.1 110.7L515.4 110.9L503.4 110.2L493.6 110.2L486.1 110.9L480.0 112.2L485.4 110.8L492.2 109.9L501.7 109.7ZM569.3 533.8L576.2 532.4L584.3 530.7L592.8 528.7L601.3 526.6L602.4 526.5L603.5 526.4L604.6 526.3L605.6 526.2L596.4 528.4L587.0 530.4L577.8 532.3ZM605.6 526.2L604.6 526.3L603.5 526.4L602.4 526.5L601.3 526.6L609.7 524.3L617.9 521.9L625.9 519.4L633.6 516.7L635.2 516.6L636.8 516.5L638.4 516.3L640.0 516.2L631.8 518.9L623.3 521.5L614.6 523.9ZM640.0 516.2L636.8 516.5L633.6 516.7L648.4 511.2L662.3 505.3L666.2 504.9L670.1 504.6L655.6 510.6ZM600.9 160.5L592.9 161.7L576.6 148.5L583.3 147.4ZM583.3 147.4L580.0 147.9L576.6 148.5L567.7 142.3L558.1 136.4L560.7 135.9L563.2 135.4L573.6 141.2ZM563.2 135.4L560.7 135.9L558.1 136.4L547.7 130.8L536.5 125.7L538.3 125.3L540.0 124.9L552.1 129.9ZM540.0 124.9L539.1 125.1L538.3 125.3L537.4 125.5L536.5 125.7L530.6 123.3L524.3 121.0L517.8 118.9L510.9 117.0L511.3 116.8L511.7 116.7L512.1 116.5L512.4 116.4L519.8 118.3L526.8 120.3L533.6 122.5ZM512.4 116.4L512.1 116.5L511.7 116.7L511.3 116.8L510.9 117.0L503.7 115.3L496.1 113.8L488.2 112.8L480.0 112.2L488.4 112.6L496.7 113.5L504.7 114.8ZM601.6 501.5L592.0 502.6L604.3 489.8L614.9 488.6ZM551.1 531.7L549.8 531.9L548.4 532.1L547.0 532.2L545.7 532.4L547.3 530.9L549.9 529.1L553.0 527.2L556.3 525.0L558.1 524.8L559.9 524.6L561.7 524.4L563.6 524.2L559.9 526.4L556.5 528.4L553.4 530.2ZM592.0 502.6L582.4 503.6L593.7 490.9L604.3 489.8ZM636.2 240.3L623.6 241.7L616.7 225.0L628.6 223.7ZM584.8 162.8L576.6 163.9L563.0 150.5L569.8 149.5ZM556.3 525.0L552.7 525.5L549.0 525.9L555.2 521.2L561.3 516.1L565.5 515.6L569.8 515.1L563.1 520.3ZM582.4 503.6L572.9 504.7L583.2 492.0L593.7 490.9ZM629.3 258.7L616.1 260.0L610.9 243.0L623.6 241.7ZM569.3 533.8L553.6 534.7L542.3 534.9L536.3 534.5L534.5 533.6L535.9 533.5L537.3 533.3L538.7 533.2L540.1 533.0L541.0 534.0L545.6 534.5L555.1 534.5ZM540.1 533.0L538.7 533.2L537.3 533.3L535.9 533.5L534.5 533.6L535.1 532.3L536.9 530.7L539.2 528.8L541.8 526.7L543.6 526.5L545.4 526.3L547.2 526.1L549.0 525.9L546.1 528.0L543.4 529.9L541.2 531.6ZM481.2 538.0L479.7 538.0L478.2 537.9L476.6 537.9L475.1 537.9L475.5 536.6L475.4 535.0L475.2 533.2L474.9 531.2L476.5 531.2L478.1 531.2L479.7 531.2L481.3 531.2L481.2 533.2L481.2 535.0L481.1 536.6ZM390.7 533.8L410.8 535.6L433.6 537.0L458.5 537.9L468.9 537.6L470.4 537.7L472.0 537.8L473.5 537.8L475.1 537.9L461.8 538.2L432.9 537.1L410.2 535.6ZM475.1 537.9L473.5 537.8L472.0 537.8L470.4 537.7L468.9 537.6L469.8 536.4L469.6 534.8L469.1 533.0L468.6 531.0L470.2 531.0L471.7 531.1L473.3 531.1L474.9 531.2L475.2 533.2L475.4 535.0L475.5 536.6ZM474.9 531.2L471.7 531.1L468.6 531.0L467.4 526.5L466.2 521.6L470.1 521.7L473.9 521.7L474.4 526.7ZM473.9 521.7L470.1 521.7L466.2 521.6L465.1 516.2L464.1 510.5L468.5 510.6L472.9 510.7L473.4 516.4ZM472.9 510.7L464.1 510.5L462.2 498.2L472.1 498.3ZM472.1 498.3L462.2 498.2L460.5 484.8L471.3 485.0ZM473.9 156.4L470.1 156.3L466.2 156.3L467.4 149.6L468.7 143.2L471.8 143.3L475.0 143.4L474.4 149.8ZM475.0 143.4L471.8 143.3L468.7 143.2L470.1 137.1L471.6 131.3L473.9 131.4L476.3 131.4L475.6 137.2ZM390.7 533.8L411.1 535.5L433.3 536.8L454.0 537.6L462.7 537.2L464.2 537.3L465.8 537.4L467.3 537.5L468.9 537.6L458.5 537.9L433.6 537.0L410.8 535.6ZM468.9 537.6L467.3 537.5L465.8 537.4L464.2 537.3L462.7 537.2L463.9 536.1L463.6 534.5L462.9 532.7L462.1 530.7L463.7 530.8L465.3 530.9L466.9 530.9L468.6 531.0L469.1 533.0L469.6 534.8L469.8 536.4ZM466.2 156.3L462.4 156.2L458.6 156.0L460.5 149.4L462.5 143.0L465.6 143.1L468.7 143.2L467.4 149.6ZM468.7 143.2L465.6 143.1L462.5 143.0L464.6 136.9L466.9 131.2L469.3 131.2L471.6 131.3L470.1 137.1ZM471.6 131.3L470.4 131.3L469.3 131.2L468.1 131.2L466.9 131.2L468.2 128.4L469.5 125.7L470.9 123.1L472.4 120.7L473.1 120.7L473.7 120.7L474.4 120.8L475.1 120.8L474.1 123.3L473.2 125.9L472.4 128.5ZM462.7 537.2L461.2 537.1L459.6 537.0L458.1 536.9L456.6 536.8L458.0 535.6L457.6 534.1L456.7 532.3L455.5 530.3L457.2 530.4L458.8 530.5L460.5 530.6L462.1 530.7L462.9 532.7L463.6 534.5L463.9 536.1ZM456.6 536.8L455.1 536.6L453.6 536.5L452.2 536.4L450.7 536.2L451.9 535.1L451.4 533.6L450.3 531.8L448.9 529.8L450.6 529.9L452.2 530.1L453.9 530.2L455.5 530.3L456.7 532.3L457.6 534.1L458.0 535.6ZM455.5 530.3L452.2 530.1L448.9 529.8L445.9 525.3L442.9 520.4L446.8 520.6L450.8 520.9L453.1 525.8ZM446.3 509.8L437.3 509.2L432.2 496.8L442.3 497.4ZM456.2 142.7L453.2 142.6L450.1 142.4L453.8 136.3L457.8 130.6L460.0 130.8L462.3 130.9L459.2 136.7ZM462.3 130.9L461.2 130.8L460.0 130.8L458.9 130.7L457.8 130.6L459.9 127.9L462.2 125.2L464.6 122.7L467.1 120.3L467.8 120.4L468.4 120.4L469.1 120.5L469.7 120.5L467.7 123.0L465.8 125.5L464.0 128.2ZM450.7 536.2L449.2 536.1L447.8 536.0L446.3 535.8L444.9 535.7L445.8 534.5L445.1 533.0L443.7 531.2L442.1 529.2L443.8 529.4L445.5 529.5L447.2 529.6L448.9 529.8L450.3 531.8L451.4 533.6L451.9 535.1ZM442.9 520.4L438.9 520.1L434.9 519.7L431.5 514.3L428.2 508.6L432.7 508.9L437.3 509.2L440.0 515.0ZM390.7 533.8L409.2 535.1L425.0 535.8L435.0 535.8L439.1 535.1L440.5 535.3L442.0 535.4L443.4 535.5L444.9 535.7L439.8 536.3L427.7 536.1L410.1 535.2ZM444.9 535.7L443.4 535.5L442.0 535.4L440.5 535.3L439.1 535.1L439.7 533.9L438.7 532.4L437.1 530.5L435.2 528.5L436.9 528.7L438.6 528.9L440.4 529.0L442.1 529.2L443.7 531.2L445.1 533.0L445.8 534.5ZM429.0 168.5L420.4 167.9L428.6 154.1L436.0 154.7ZM390.7 533.8L408.2 534.9L422.1 535.4L430.3 535.3L433.4 534.5L434.8 534.7L436.2 534.8L437.7 535.0L439.1 535.1L435.0 535.8L425.0 535.8L409.2 535.1ZM439.1 535.1L437.7 535.0L436.2 534.8L434.8 534.7L433.4 534.5L433.5 533.3L432.3 531.7L430.3 529.8L428.1 527.8L429.9 528.0L431.7 528.2L433.4 528.4L435.2 528.5L437.1 530.5L438.7 532.4L439.7 533.9ZM435.2 528.5L431.7 528.2L428.1 527.8L423.4 523.3L418.7 518.2L422.8 518.6L426.9 519.0L431.0 524.0ZM411.9 495.3L401.7 494.5L394.6 480.9L405.7 481.8ZM366.2 145.6L363.0 145.1L359.8 144.5L371.4 138.5L383.9 132.8L386.3 133.3L388.7 133.8L377.1 139.6Z"/>
<path fill="#00c8ff" d="M210.3 403.0L196.6 401.8L189.5 384.7L203.5 386.0ZM203.5 386.0L189.5 384.7L184.4 367.4L198.6 368.7ZM198.6 368.7L184.4 367.4L181.4 349.9L195.7 351.2ZM195.7 351.2L181.4 349.9L180.3 332.3L194.7 333.6ZM194.7 333.6L180.3 332.3L181.3 314.6L195.6 315.9ZM195.6 315.9L181.3 314.6L184.3 296.9L198.4 298.3ZM198.4 298.3L184.3 296.9L189.3 279.4L203.2 280.7ZM203.2 280.7L189.3 279.4L196.4 262.1L209.9 263.4ZM209.9 263.4L196.4 262.1L205.5 245.0L218.5 246.3ZM218.5 246.3L205.5 245.0L216.8 228.3L229.2 229.5ZM273.9 182.1L263.9 181.0L284.4 166.5L293.4 167.6ZM315.6 154.0L307.8 152.9L334.5 140.3L340.8 141.3ZM340.8 141.3L337.7 140.8L334.5 140.3L349.3 134.5L365.2 129.0L367.5 129.4L369.8 129.9L354.8 135.4ZM369.8 129.9L367.5 129.4L365.2 129.0L382.4 123.9L401.1 119.3L402.3 119.7L403.6 120.1L386.0 124.8ZM403.6 120.1L403.0 119.9L402.3 119.7L401.7 119.5L401.1 119.3L411.1 117.2L421.5 115.3L432.3 113.7L443.3 112.4L443.3 112.5L443.3 112.7L443.3 112.8L443.3 113.0L432.9 114.4L422.8 116.1L413.0 118.0ZM443.3 113.0L443.3 112.8L443.3 112.7L443.3 112.5L443.3 112.4L454.1 111.5L463.9 111.1L472.5 111.3L480.0 112.2L472.1 111.5L463.3 111.5L453.6 112.0ZM246.5 465.7L235.3 464.8L218.7 449.6L230.7 450.6ZM390.7 533.8L377.2 532.0L364.3 529.9L352.0 527.7L340.4 525.4L341.3 525.4L342.2 525.5L343.1 525.5L344.0 525.6L355.0 527.9L366.5 530.0L378.4 532.0ZM344.0 525.6L343.1 525.5L342.2 525.5L341.3 525.4L340.4 525.4L329.3 522.9L318.7 520.4L308.5 517.7L298.7 514.9L300.1 515.0L301.5 515.1L302.9 515.1L304.4 515.2L313.7 517.9L323.4 520.6L333.5 523.1ZM304.4 515.2L301.5 515.1L298.7 514.9L280.2 509.2L263.0 503.1L266.6 503.2L270.2 503.4L286.7 509.5ZM240.4 490.5L231.9 490.1L204.7 476.2L214.3 476.6ZM214.3 476.6L204.7 476.2L181.0 461.4L191.6 461.9ZM191.6 461.9L181.0 461.4L160.4 446.0L171.8 446.5ZM171.8 446.5L160.4 446.0L142.7 430.1L154.9 430.6ZM170.5 207.3L158.2 206.7L178.4 191.0L190.0 191.6ZM190.0 191.6L178.4 191.0L201.8 176.0L212.5 176.5ZM127.9 413.6L115.2 413.2L102.7 396.3L115.9 396.7ZM115.9 396.7L102.7 396.3L92.9 379.1L106.5 379.5ZM106.5 379.5L92.9 379.1L85.9 361.7L99.8 362.1ZM99.3 291.4L85.0 291.0L91.5 273.5L105.7 273.9ZM105.7 273.9L91.5 273.5L100.9 256.1L114.7 256.6ZM114.7 256.6L100.9 256.1L112.9 239.1L126.4 239.6ZM126.4 239.6L112.9 239.1L127.9 222.5L140.9 222.9ZM140.9 222.9L127.9 222.5L145.8 206.3L158.2 206.7ZM334.9 124.9L331.9 124.7L328.7 124.5L353.0 119.6L380.3 115.1L382.4 115.3L384.4 115.5L358.2 119.9ZM384.4 115.5L383.4 115.4L382.4 115.3L381.4 115.2L380.3 115.1L395.5 113.1L412.2 111.3L430.8 109.7L451.6 108.5L451.2 108.6L450.8 108.7L450.3 108.8L449.9 108.9L431.7 110.1L414.5 111.6L398.8 113.5ZM449.9 108.9L450.3 108.8L450.8 108.7L451.2 108.6L451.6 108.5L468.7 108.2L474.8 109.0L477.8 110.5L480.0 112.2L476.9 110.5L472.6 109.2L465.0 108.6ZM150.3 460.8L140.4 460.9L116.2 445.4L127.0 445.4ZM813.7 460.8L803.7 460.9L826.5 445.4L837.3 445.4ZM120.3 205.9L107.3 206.0L130.1 190.3L142.5 190.3ZM844.8 205.9L832.0 206.0L810.1 190.3L822.4 190.3ZM142.5 190.3L130.1 190.3L156.5 175.3L168.2 175.3ZM822.4 190.3L810.1 190.3L784.9 175.3L796.5 175.3ZM864.7 256.0L850.8 256.4L838.9 239.4L852.5 239.0ZM837.4 222.4L824.3 222.7L806.8 206.5L819.3 206.2ZM855.7 344.8L841.5 345.5L842.8 327.8L857.1 327.1ZM857.1 327.1L842.8 327.8L841.6 310.1L855.9 309.4ZM852.2 291.7L838.0 292.4L831.9 274.9L845.9 274.2ZM845.9 274.2L831.9 274.9L823.3 257.6L837.0 256.9ZM837.0 256.9L823.3 257.6L812.2 240.6L825.5 239.9ZM822.8 397.6L809.4 398.4L817.7 381.2L831.5 380.5ZM798.7 415.2L785.7 416.1L795.9 399.3L809.4 398.4ZM809.4 398.4L795.9 399.3L803.9 382.1L817.7 381.2ZM817.7 381.2L803.9 382.1L809.6 364.7L823.7 363.8ZM823.7 363.8L809.6 364.7L813.0 347.2L827.2 346.3ZM827.2 346.3L813.0 347.2L814.1 329.5L828.4 328.6ZM828.4 328.6L814.1 329.5L813.0 311.8L827.3 310.9ZM827.3 310.9L813.0 311.8L809.6 294.2L823.8 293.2ZM773.0 432.4L760.5 433.3L772.6 417.0L785.7 416.1ZM809.6 294.2L795.5 295.3L790.1 277.7L804.0 276.7ZM662.3 505.3L658.3 505.6L654.2 506.0L666.6 499.8L678.3 493.4L682.9 493.0L687.5 492.6L675.3 499.1ZM746.0 449.2L734.1 450.2L747.9 434.4L760.5 433.3ZM760.5 433.3L747.9 434.4L759.4 418.1L772.6 417.0ZM601.4 127.8L599.0 128.2L596.7 128.6L579.1 123.5L559.9 119.0L561.1 118.6L562.4 118.2L582.7 122.7ZM562.4 118.2L561.8 118.4L561.1 118.6L560.5 118.8L559.9 119.0L549.7 116.9L538.9 115.0L527.8 113.4L516.6 112.1L516.5 112.0L516.4 111.8L516.3 111.7L516.1 111.5L528.1 112.7L540.0 114.3L551.4 116.2ZM516.1 111.5L516.3 111.7L516.4 111.8L516.5 112.0L516.6 112.1L505.6 111.2L495.7 110.9L487.3 111.3L480.0 112.2L486.7 111.1L494.8 110.6L504.7 110.7ZM678.3 493.4L668.9 494.2L689.0 480.7L699.4 479.8ZM718.0 465.3L706.7 466.3L722.0 451.2L734.1 450.2ZM718.6 195.7L707.6 196.9L690.1 181.7L700.2 180.5ZM700.2 180.5L690.1 181.7L670.2 167.2L679.2 166.1ZM689.0 480.7L678.6 481.7L695.3 467.4L706.7 466.3ZM569.3 533.8L569.2 533.0L572.3 531.7L577.0 530.1L582.6 528.3L583.8 528.2L585.0 528.1L586.2 527.9L587.4 527.8L581.1 529.7L575.4 531.4L571.0 532.8ZM587.4 527.8L586.2 527.9L585.0 528.1L583.8 528.2L582.6 528.3L588.5 526.3L594.6 524.1L600.6 521.7L606.7 519.3L608.4 519.1L610.1 518.9L611.9 518.7L613.6 518.6L607.1 521.1L600.6 523.5L594.0 525.7ZM613.6 518.6L610.1 518.9L606.7 519.3L618.3 514.0L629.5 508.4L633.6 507.9L637.8 507.5L626.0 513.2ZM629.5 508.4L625.2 508.8L621.0 509.3L630.9 503.4L640.3 497.1L645.1 496.6L649.9 496.1L640.0 502.4ZM609.1 143.0L606.0 143.5L602.8 144.1L590.8 138.1L578.1 132.4L580.4 131.9L582.8 131.4L596.4 137.1ZM582.8 131.4L580.4 131.9L578.1 132.4L564.3 127.2L549.4 122.3L550.8 121.9L552.2 121.5L568.1 126.2ZM552.2 121.5L551.5 121.7L550.8 121.9L550.1 122.1L549.4 122.3L541.4 120.1L533.2 118.1L524.5 116.2L515.6 114.6L515.8 114.5L516.0 114.3L516.1 114.2L516.3 114.0L525.7 115.5L534.9 117.3L543.7 119.3ZM516.3 114.0L516.1 114.2L516.0 114.3L515.8 114.5L515.6 114.6L506.5 113.3L497.4 112.4L488.5 112.0L480.0 112.2L488.3 111.8L497.3 112.0L506.7 112.8ZM569.3 533.8L565.5 533.3L565.7 532.4L568.4 531.0L572.4 529.4L573.7 529.2L575.0 529.1L576.3 529.0L577.5 528.8L572.8 530.6L569.0 532.0L567.4 533.2ZM577.5 528.8L576.3 529.0L575.0 529.1L573.7 529.2L572.4 529.4L577.1 527.5L582.2 525.4L587.3 523.2L592.5 520.8L594.3 520.6L596.1 520.4L597.9 520.2L599.6 520.0L594.0 522.5L588.4 524.7L582.9 526.9ZM599.6 520.0L596.1 520.4L592.5 520.8L602.7 515.7L612.5 510.2L616.8 509.7L621.0 509.3L610.6 514.9ZM624.4 157.0L616.6 158.1L596.4 145.2L602.8 144.1ZM612.5 510.2L608.2 510.7L604.0 511.2L612.7 505.4L621.0 499.3L625.8 498.7L630.7 498.2L621.8 504.4ZM634.4 172.0L625.4 173.3L608.8 159.3L616.6 158.1ZM636.2 486.2L625.5 487.4L638.1 473.5L649.6 472.2ZM696.6 305.0L682.4 306.6L679.2 289.0L693.1 287.5ZM693.1 287.5L679.2 289.0L674.6 271.6L688.1 270.1ZM649.8 397.0L635.8 398.4L638.8 381.3L653.0 379.8ZM653.0 379.8L638.8 381.3L640.7 363.9L655.1 362.4ZM655.1 362.4L640.7 363.9L641.5 346.4L655.9 344.9ZM655.9 344.9L641.5 346.4L641.2 328.7L655.6 327.3ZM620.1 447.4L607.4 448.6L613.2 432.8L626.4 431.5ZM626.4 431.5L613.2 432.8L618.0 416.5L631.7 415.1ZM631.7 415.1L618.0 416.5L621.8 399.7L635.8 398.4ZM639.9 311.1L625.7 312.4L623.5 294.8L637.4 293.4ZM623.6 241.7L610.9 243.0L604.7 226.3L616.7 225.0ZM616.7 225.0L604.7 226.3L597.4 210.1L608.6 208.8ZM608.6 208.8L597.4 210.1L588.9 194.3L599.3 193.2ZM592.4 478.4L581.1 479.5L588.4 465.0L600.4 463.9ZM600.4 463.9L588.4 465.0L594.7 449.8L607.4 448.6ZM616.1 260.0L602.9 261.3L598.2 244.2L610.9 243.0ZM556.0 151.4L552.4 151.9L548.8 152.3L542.7 145.9L536.1 139.8L538.9 139.4L541.8 139.0L549.1 145.1ZM541.8 139.0L538.9 139.4L536.1 139.8L529.0 133.9L521.3 128.5L523.3 128.2L525.3 127.8L533.9 133.2ZM525.3 127.8L524.3 128.0L523.3 128.2L522.3 128.3L521.3 128.5L517.1 125.9L512.8 123.4L508.2 121.1L503.4 118.9L503.9 118.8L504.5 118.7L505.0 118.6L505.5 118.5L510.9 120.6L515.9 122.9L520.7 125.3ZM563.4 505.7L554.0 506.6L562.4 494.1L572.8 493.1ZM569.8 180.3L560.3 181.2L551.6 166.8L560.0 165.9ZM569.3 533.8L550.2 535.1L533.3 536.0L522.1 536.1L517.5 535.5L518.9 535.3L520.3 535.2L521.8 535.0L523.2 534.9L526.9 535.6L536.1 535.6L551.2 535.0ZM523.2 534.9L521.8 535.0L520.3 535.2L518.9 535.3L517.5 535.5L516.6 534.3L517.4 532.8L518.9 530.9L520.7 528.9L522.4 528.8L524.1 528.6L525.9 528.4L527.6 528.2L525.6 530.3L523.9 532.1L522.8 533.7ZM513.8 529.6L510.5 529.8L507.1 530.1L509.7 525.6L512.4 520.7L516.3 520.4L520.3 520.1L517.1 525.1ZM534.2 248.8L521.4 249.3L519.4 232.4L531.7 231.9ZM531.7 231.9L519.4 232.4L517.2 215.9L528.8 215.4ZM528.8 215.4L517.2 215.9L514.6 200.0L525.4 199.5ZM525.4 199.5L514.6 200.0L511.6 184.6L521.5 184.1ZM521.5 184.1L511.6 184.6L508.3 169.8L517.0 169.4ZM517.0 169.4L508.3 169.8L504.4 155.9L512.0 155.5ZM506.2 142.6L503.1 142.8L500.0 142.9L497.6 136.8L494.9 131.1L497.2 130.9L499.5 130.8L503.0 136.5ZM499.5 130.8L498.4 130.9L497.2 130.9L496.1 131.0L494.9 131.1L493.5 128.3L492.0 125.6L490.4 123.1L488.7 120.6L489.3 120.6L490.0 120.5L490.7 120.5L491.3 120.4L493.5 122.9L495.6 125.4L497.6 128.1ZM491.3 120.4L490.7 120.5L490.0 120.5L489.3 120.6L488.7 120.6L486.8 118.3L484.8 116.1L482.6 114.0L480.0 112.2L483.4 114.0L486.3 116.0L488.9 118.1ZM517.3 470.0L505.6 470.4L507.2 455.4L519.6 455.0ZM525.1 301.5L511.0 302.0L510.4 284.3L524.2 283.9ZM524.2 283.9L510.4 284.3L509.5 266.9L522.9 266.5ZM522.9 266.5L509.5 266.9L508.4 249.7L521.4 249.3ZM511.7 355.0L497.3 355.3L497.3 337.6L511.7 337.4ZM511.7 337.4L497.3 337.6L497.2 319.9L511.5 319.7ZM482.2 200.6L471.3 200.6L472.1 185.1L482.0 185.2ZM482.0 185.2L472.1 185.1L472.9 170.4L481.8 170.4ZM481.8 170.4L472.9 170.4L473.9 156.4L481.5 156.4ZM459.0 470.5L447.4 470.2L445.4 455.1L457.8 455.5ZM457.8 455.5L445.4 455.1L443.7 439.5L456.7 439.8ZM455.1 284.5L441.3 284.1L442.4 266.7L455.8 267.0ZM455.8 267.0L442.4 266.7L443.8 249.5L456.7 249.8ZM456.7 249.8L443.8 249.5L445.5 232.6L457.8 232.9ZM457.8 232.9L445.5 232.6L447.4 216.1L459.1 216.4ZM441.3 406.6L427.4 406.1L426.3 389.1L440.5 389.6ZM440.5 389.6L426.3 389.1L425.6 371.8L439.9 372.3ZM439.9 372.3L425.6 371.8L425.2 354.3L439.7 354.8ZM439.7 354.8L425.2 354.3L425.3 336.6L439.7 337.1ZM439.7 337.1L425.3 336.6L425.7 318.9L440.0 319.4ZM440.0 319.4L425.7 318.9L426.4 301.2L440.5 301.7ZM440.5 301.7L426.4 301.2L427.5 283.6L441.3 284.1ZM441.3 284.1L427.5 283.6L429.0 266.2L442.4 266.7ZM425.2 354.3L410.8 353.6L410.9 335.9L425.3 336.6ZM425.3 336.6L410.9 335.9L411.4 318.2L425.7 318.9ZM420.6 454.0L408.1 453.3L404.7 437.6L417.7 438.3ZM417.7 438.3L404.7 437.6L401.9 421.3L415.4 422.1ZM415.4 422.1L401.9 421.3L399.6 404.6L413.5 405.4ZM413.8 283.0L400.0 282.2L402.3 264.8L415.7 265.5ZM415.7 265.5L402.3 264.8L405.2 247.6L418.0 248.4ZM418.0 248.4L405.2 247.6L408.7 230.8L420.9 231.5ZM437.7 169.1L429.0 168.5L436.0 154.7L443.5 155.3ZM396.4 352.8L382.0 351.8L382.1 334.2L396.5 335.1ZM382.0 351.8L367.6 350.7L367.7 333.1L382.1 334.2ZM418.7 518.2L414.6 517.8L410.4 517.4L405.3 511.9L400.4 506.1L405.1 506.5L409.7 507.0L414.1 512.8ZM432.0 140.7L429.1 140.4L426.2 140.0L433.0 134.2L440.4 128.7L442.5 129.0L444.6 129.3L438.1 134.8ZM444.6 129.3L443.5 129.1L442.5 129.0L441.4 128.9L440.4 128.7L444.3 126.1L448.5 123.6L452.8 121.3L457.5 119.0L458.0 119.1L458.6 119.2L459.2 119.3L459.7 119.4L455.6 121.7L451.7 124.1L448.1 126.6ZM459.7 119.4L459.2 119.3L458.6 119.2L458.0 119.1L457.5 119.0L462.4 117.0L467.8 115.1L473.6 113.5L480.0 112.2L474.2 113.6L468.9 115.3L464.2 117.3ZM421.0 527.0L417.4 526.6L413.8 526.2L407.9 521.6L402.0 516.5L406.2 516.9L410.4 517.4L415.7 522.5ZM406.9 151.8L403.3 151.3L399.8 150.9L407.1 144.5L414.9 138.5L417.7 138.9L420.5 139.3L413.4 145.4ZM399.8 150.9L396.4 150.4L392.9 149.9L400.9 143.6L409.4 137.6L412.1 138.1L414.9 138.5L407.1 144.5ZM414.9 138.5L412.1 138.1L409.4 137.6L418.6 132.0L428.5 126.7L430.4 127.1L432.3 127.4L423.3 132.8ZM432.3 127.4L431.4 127.3L430.4 127.1L429.5 126.9L428.5 126.7L433.8 124.3L439.4 121.9L445.3 119.7L451.4 117.7L451.9 117.8L452.3 117.9L452.8 118.1L453.3 118.2L447.6 120.3L442.3 122.5L437.2 124.9ZM453.3 118.2L452.8 118.1L452.3 117.9L451.9 117.8L451.4 117.7L457.9 115.9L464.9 114.3L472.2 113.0L480.0 112.2L472.6 113.2L465.7 114.6L459.3 116.3ZM344.7 208.1L333.5 206.8L344.2 191.2L354.5 192.4ZM365.7 177.5L356.5 176.3L370.3 162.1L378.4 163.2ZM378.4 163.2L370.3 162.1L386.1 148.9L392.9 149.9ZM409.4 137.6L406.7 137.2L404.0 136.7L414.0 131.1L424.9 126.0L426.7 126.3L428.5 126.7L418.6 132.0ZM428.5 126.7L427.6 126.5L426.7 126.3L425.8 126.2L424.9 126.0L430.6 123.5L436.7 121.3L443.0 119.1L449.7 117.2L450.1 117.3L450.5 117.4L451.0 117.6L451.4 117.7L445.3 119.7L439.4 121.9L433.8 124.3ZM451.4 117.7L451.0 117.6L450.5 117.4L450.1 117.3L449.7 117.2L456.7 115.4L464.1 114.0L471.9 112.8L480.0 112.2L472.2 113.0L464.9 114.3L457.9 115.9ZM362.2 501.9L352.6 500.8L338.7 487.9L349.3 489.0ZM349.3 489.0L338.7 487.9L326.5 474.0L338.0 475.2ZM390.7 533.8L397.1 533.6L398.9 532.9L397.8 531.7L394.9 530.2L396.2 530.3L397.5 530.5L398.9 530.6L400.2 530.8L402.3 532.2L402.3 533.2L398.9 533.8ZM400.2 530.8L398.9 530.6L397.5 530.5L396.2 530.3L394.9 530.2L391.0 528.4L386.7 526.4L382.2 524.3L377.6 522.0L379.4 522.2L381.2 522.4L383.0 522.6L384.8 522.8L389.0 525.1L393.2 527.2L397.0 529.1ZM384.8 522.8L381.2 522.4L377.6 522.0L368.4 517.0L359.5 511.6L363.7 512.1L368.0 512.6L376.3 517.9ZM368.0 512.6L363.7 512.1L359.5 511.6L350.9 505.8L342.9 499.7L347.7 500.3L352.6 500.8L360.1 506.8ZM352.6 500.8L342.9 499.7L328.1 486.7L338.7 487.9ZM338.7 487.9L328.1 486.7L315.0 472.7L326.5 474.0ZM278.9 410.0L265.2 408.5L259.6 391.6L273.7 393.1ZM273.7 393.1L259.6 391.6L255.6 374.4L269.9 375.9ZM269.9 375.9L255.6 374.4L253.1 357.0L267.5 358.5ZM267.5 358.5L253.1 357.0L252.2 339.4L266.6 341.0ZM267.1 323.3L252.8 321.8L254.9 304.1L269.1 305.7ZM311.4 204.1L300.5 202.7L313.9 187.3L323.9 188.6ZM323.9 188.6L313.9 187.3L329.2 172.5L338.2 173.8ZM317.4 485.5L306.8 484.3L292.1 470.2L303.6 471.4Z"/>
<path fill="#00afff" d="M229.2 229.5L216.8 228.3L230.2 212.0L241.9 213.2ZM309.0 506.2L304.9 505.9L300.9 505.5L288.2 499.3L276.2 492.9L280.8 493.3L285.5 493.7L296.9 500.1ZM285.5 493.7L276.2 492.9L254.4 479.2L264.7 480.1ZM230.7 450.6L218.7 449.6L204.6 433.7L217.2 434.8ZM216.8 228.3L204.3 227.1L218.4 210.8L230.2 212.0ZM284.4 166.5L275.4 165.5L300.1 151.9L307.8 152.9ZM334.5 140.3L331.3 139.8L328.1 139.4L343.7 133.6L360.5 128.1L362.8 128.5L365.2 129.0L349.3 134.5ZM223.0 177.2L212.5 176.5L238.3 162.2L247.8 162.9ZM140.7 414.1L127.9 413.6L115.9 396.7L129.2 397.2ZM120.2 380.1L106.5 379.5L99.8 362.1L113.8 362.6ZM113.8 362.6L99.8 362.1L95.8 344.5L110.0 345.0ZM108.7 327.4L94.3 326.8L95.5 309.1L109.8 309.6ZM109.8 309.6L95.5 309.1L99.3 291.4L113.5 292.0ZM267.7 148.8L259.0 148.3L294.0 136.0L301.4 136.4ZM301.4 136.4L297.7 136.2L294.0 136.0L313.6 130.2L334.9 124.9L337.8 125.1L340.6 125.3L320.2 130.7ZM99.8 362.1L85.9 361.7L81.6 344.0L95.8 344.5ZM127.0 445.4L116.2 445.4L95.4 429.4L107.0 429.4ZM837.3 445.4L826.5 445.4L845.9 429.4L857.6 429.4ZM107.0 429.4L95.4 429.4L78.0 412.9L90.3 412.9ZM857.6 429.4L845.9 429.4L862.3 412.9L874.7 412.9ZM90.3 412.9L78.0 412.9L63.7 396.0L76.6 396.0ZM874.7 412.9L862.3 412.9L875.6 396.0L888.6 396.0ZM880.7 290.8L866.4 291.2L860.0 273.7L874.1 273.3ZM874.1 273.3L860.0 273.7L850.8 256.4L864.7 256.0ZM852.5 239.0L838.9 239.4L824.3 222.7L837.4 222.4ZM851.8 362.4L837.7 363.0L841.5 345.5L855.7 344.8ZM855.9 309.4L841.6 310.1L838.0 292.4L852.2 291.7ZM825.5 239.9L812.2 240.6L798.5 223.9L811.4 223.2ZM811.4 223.2L798.5 223.9L782.2 207.7L794.4 207.0ZM785.8 224.7L773.2 225.6L758.2 209.3L770.2 208.4ZM770.2 208.4L758.2 209.3L740.6 193.6L751.8 192.7ZM785.7 416.1L772.6 417.0L782.4 400.2L795.9 399.3ZM803.9 382.1L790.0 383.1L795.4 365.8L809.6 364.7ZM809.6 364.7L795.4 365.8L798.7 348.2L813.0 347.2ZM813.0 347.2L798.7 348.2L799.8 330.6L814.1 329.5ZM814.1 329.5L799.8 330.6L798.7 312.9L813.0 311.8ZM813.0 311.8L798.7 312.9L795.5 295.3L809.6 294.2ZM734.1 450.2L722.0 451.2L735.2 435.5L747.9 434.4ZM679.2 166.1L670.2 167.2L647.5 153.5L655.3 152.5ZM596.7 128.6L594.4 129.1L592.1 129.5L575.5 124.4L557.4 119.8L558.7 119.4L559.9 119.0L579.1 123.5ZM559.9 119.0L559.3 119.2L558.7 119.4L558.1 119.6L557.4 119.8L547.8 117.7L537.8 115.8L527.4 114.1L516.7 112.7L516.7 112.6L516.7 112.4L516.6 112.3L516.6 112.1L527.8 113.4L538.9 115.0L549.7 116.9ZM516.6 112.1L516.6 112.3L516.7 112.4L516.7 112.6L516.7 112.7L506.3 111.8L496.5 111.3L487.7 111.4L480.0 112.2L487.3 111.3L495.7 110.9L505.6 111.2ZM569.3 533.8L571.0 532.8L575.4 531.4L581.1 529.7L587.4 527.8L588.6 527.7L589.8 527.6L591.0 527.5L592.2 527.4L585.1 529.4L578.5 531.1L572.8 532.7ZM592.2 527.4L591.0 527.5L589.8 527.6L588.6 527.7L587.4 527.8L594.0 525.7L600.6 523.5L607.1 521.1L613.6 518.6L615.3 518.4L617.0 518.2L618.7 518.1L620.4 517.9L613.5 520.5L606.5 522.9L599.4 525.2ZM620.4 517.9L617.0 518.2L613.6 518.6L626.0 513.2L637.8 507.5L642.0 507.1L646.1 506.7L633.6 512.5ZM706.7 466.3L695.3 467.4L709.9 452.4L722.0 451.2ZM723.4 230.3L711.0 231.7L699.3 215.3L711.1 214.0ZM639.8 154.6L632.1 155.8L609.1 143.0L615.4 141.9ZM587.4 130.5L585.1 131.0L582.8 131.4L568.1 126.2L552.2 121.5L553.5 121.0L554.9 120.6L571.8 125.3ZM554.9 120.6L554.2 120.8L553.5 121.0L552.9 121.3L552.2 121.5L543.7 119.3L534.9 117.3L525.7 115.5L516.3 114.0L516.4 113.8L516.5 113.7L516.6 113.5L516.6 113.4L526.6 114.8L536.4 116.5L545.8 118.5ZM516.6 113.4L516.6 113.5L516.5 113.7L516.4 113.8L516.3 114.0L506.7 112.8L497.3 112.0L488.3 111.8L480.0 112.2L488.1 111.6L497.0 111.7L506.6 112.3ZM569.3 533.8L567.4 533.2L569.0 532.0L572.8 530.6L577.5 528.8L578.8 528.7L580.1 528.6L581.3 528.4L582.6 528.3L577.0 530.1L572.3 531.7L569.2 533.0ZM582.6 528.3L581.3 528.4L580.1 528.6L578.8 528.7L577.5 528.8L582.9 526.9L588.4 524.7L594.0 522.5L599.6 520.0L601.4 519.8L603.1 519.7L604.9 519.5L606.7 519.3L600.6 521.7L594.6 524.1L588.5 526.3ZM606.7 519.3L603.1 519.7L599.6 520.0L610.6 514.9L621.0 509.3L625.2 508.8L629.5 508.4L618.3 514.0ZM632.1 155.8L624.4 157.0L602.8 144.1L609.1 143.0ZM621.0 509.3L616.8 509.7L612.5 510.2L621.8 504.4L630.7 498.2L635.5 497.6L640.3 497.1L630.9 503.4ZM630.7 498.2L621.0 499.3L636.2 486.2L646.8 485.0ZM675.9 218.1L664.1 219.5L653.0 203.5L663.9 202.1ZM663.9 202.1L653.0 203.5L640.1 188.1L650.2 186.7ZM698.6 322.7L684.3 324.2L682.4 306.6L696.6 305.0ZM673.7 236.0L661.2 237.5L652.3 220.9L664.1 219.5ZM636.8 460.1L624.7 461.4L632.8 446.0L645.6 444.7ZM663.8 395.5L649.8 397.0L653.0 379.8L667.3 378.3ZM667.3 378.3L653.0 379.8L655.1 362.4L669.5 361.0ZM668.3 308.1L654.1 309.6L651.4 292.0L665.3 290.5ZM641.5 346.4L627.1 347.7L626.9 330.1L641.2 328.7ZM641.2 328.7L626.9 330.1L625.7 312.4L639.9 311.1ZM623.5 294.8L609.5 296.1L606.6 278.6L620.3 277.3ZM620.3 277.3L606.6 278.6L602.9 261.3L616.1 260.0ZM572.8 493.1L562.4 494.1L569.9 480.5L581.1 479.5ZM560.0 165.9L551.6 166.8L541.6 153.1L548.8 152.3ZM568.0 196.4L557.4 197.4L550.7 182.1L560.3 181.2ZM525.6 483.8L514.7 484.3L517.3 470.0L529.0 469.5ZM540.1 318.6L525.8 319.2L525.1 301.5L539.2 301.0ZM538.0 283.4L524.2 283.9L522.9 266.5L536.3 265.9ZM536.3 265.9L522.9 266.5L521.4 249.3L534.2 248.8ZM512.0 155.5L508.2 155.7L504.4 155.9L502.3 149.3L500.0 142.9L503.1 142.8L506.2 142.6L509.2 148.9ZM519.6 455.0L507.2 455.4L508.5 439.7L521.5 439.3ZM521.5 439.3L508.5 439.7L509.6 423.5L523.0 423.1ZM523.0 423.1L509.6 423.5L510.4 406.9L524.3 406.4ZM482.2 485.0L471.3 485.0L470.7 470.7L482.3 470.7ZM482.3 216.6L470.7 216.6L471.3 200.6L482.2 200.6ZM456.7 439.8L443.7 439.5L442.4 423.3L455.8 423.6ZM455.8 423.6L442.4 423.3L441.3 406.6L455.1 407.0ZM455.1 407.0L441.3 406.6L440.5 389.6L454.6 390.0ZM454.6 302.1L440.5 301.7L441.3 284.1L455.1 284.5ZM413.5 405.4L399.6 404.6L398.0 387.6L412.2 388.4ZM412.3 300.5L398.2 299.7L400.0 282.2L413.8 283.0ZM428.6 154.1L424.9 153.8L421.3 153.4L426.5 146.9L432.0 140.7L435.0 141.1L438.0 141.4L433.1 147.6ZM379.6 245.8L366.8 244.7L372.2 227.9L384.3 229.0ZM384.3 229.0L372.2 227.9L378.5 211.6L389.8 212.7ZM389.8 212.7L378.5 211.6L385.7 195.8L396.2 196.8ZM396.2 196.8L385.7 195.8L394.0 180.7L403.5 181.6ZM403.5 181.6L394.0 180.7L403.4 166.2L411.8 167.1ZM372.2 227.9L360.1 226.8L367.1 210.5L378.5 211.6ZM349.4 476.5L338.0 475.2L328.0 460.6L340.2 461.9ZM340.2 461.9L328.0 460.6L319.5 445.2L332.3 446.6ZM332.3 446.6L319.5 445.2L312.3 429.3L325.6 430.7ZM320.1 414.3L306.4 412.9L301.8 396.1L315.8 397.5ZM315.8 397.5L301.8 396.1L298.4 378.9L312.7 380.4ZM311.6 310.2L297.4 308.7L300.2 291.1L314.2 292.6ZM314.2 292.6L300.2 291.1L304.3 273.7L317.9 275.1ZM317.9 275.1L304.3 273.7L309.7 256.4L322.8 257.8ZM322.8 257.8L309.7 256.4L316.3 239.5L328.9 240.9ZM328.9 240.9L316.3 239.5L324.2 222.9L336.2 224.2ZM336.2 224.2L324.2 222.9L333.5 206.8L344.7 208.1ZM390.7 533.8L398.9 533.8L402.3 533.2L402.3 532.2L400.2 530.8L401.5 530.9L402.9 531.1L404.2 531.2L405.6 531.4L406.9 532.7L405.7 533.6L400.7 534.0ZM405.6 531.4L404.2 531.2L402.9 531.1L401.5 530.9L400.2 530.8L397.0 529.1L393.2 527.2L389.0 525.1L384.8 522.8L386.6 523.0L388.4 523.2L390.3 523.5L392.1 523.7L395.9 525.9L399.6 527.9L403.0 529.8ZM392.1 523.7L388.4 523.2L384.8 522.8L376.3 517.9L368.0 512.6L372.3 513.1L376.6 513.6L384.3 518.8ZM376.6 513.6L372.3 513.1L368.0 512.6L360.1 506.8L352.6 500.8L357.4 501.4L362.2 501.9L369.2 507.9ZM338.0 475.2L326.5 474.0L315.9 459.3L328.0 460.6ZM333.5 206.8L322.5 205.4L334.1 189.9L344.2 191.2ZM344.2 191.2L334.1 189.9L347.3 175.1L356.5 176.3ZM356.5 176.3L347.3 175.1L362.3 161.0L370.3 162.1ZM326.5 474.0L315.0 472.7L303.7 457.9L315.9 459.3ZM322.5 205.4L311.4 204.1L323.9 188.6L334.1 189.9ZM266.6 341.0L252.2 339.4L252.8 321.8L267.1 323.3ZM269.1 305.7L254.9 304.1L258.6 286.6L272.4 288.1ZM272.4 288.1L258.6 286.6L263.8 269.2L277.3 270.7ZM277.3 270.7L263.8 269.2L270.5 252.0L283.5 253.5ZM303.6 471.4L292.1 470.2L279.2 455.3L291.5 456.6ZM291.5 456.6L279.2 455.3L268.2 439.8L281.1 441.1ZM281.1 441.1L268.2 439.8L259.0 423.7L272.3 425.1Z"/>
<path fill="#0096ff" d="M390.7 533.8L384.5 532.4L376.8 530.7L368.7 528.8L360.5 526.7L361.6 526.8L362.7 526.9L363.9 527.0L365.0 527.1L372.5 529.1L379.7 531.0L386.2 532.6ZM365.0 527.1L363.9 527.0L362.7 526.9L361.6 526.8L360.5 526.7L352.3 524.5L344.3 522.1L336.5 519.6L329.0 516.9L330.6 517.1L332.3 517.2L333.9 517.4L335.6 517.5L342.7 520.1L350.0 522.6L357.5 524.9ZM335.6 517.5L332.3 517.2L329.0 516.9L314.5 511.4L300.9 505.5L304.9 505.9L309.0 506.2L321.9 512.1ZM264.7 480.1L254.4 479.2L235.3 464.8L246.5 465.7ZM217.2 434.8L204.6 433.7L192.7 417.4L205.9 418.5ZM205.9 418.5L192.7 417.4L183.0 400.7L196.6 401.8ZM196.6 401.8L183.0 400.7L175.5 383.6L189.5 384.7ZM189.5 384.7L175.5 383.6L170.2 366.2L184.4 367.4ZM184.4 367.4L170.2 366.2L167.0 348.7L181.4 349.9ZM181.3 314.6L167.0 313.4L170.2 295.7L184.3 296.9ZM184.3 296.9L170.2 295.7L175.5 278.2L189.3 279.4ZM189.3 279.4L175.5 278.2L182.9 260.9L196.4 262.1ZM196.4 262.1L182.9 260.9L192.5 243.8L205.5 245.0ZM205.5 245.0L192.5 243.8L204.3 227.1L216.8 228.3ZM230.2 212.0L218.4 210.8L234.8 195.0L245.8 196.2ZM245.8 196.2L234.8 195.0L253.8 179.9L263.9 181.0ZM263.9 181.0L253.8 179.9L275.4 165.5L284.4 166.5ZM365.2 129.0L362.8 128.5L360.5 128.1L378.7 123.0L398.6 118.5L399.8 118.9L401.1 119.3L382.4 123.9ZM401.1 119.3L400.5 119.1L399.8 118.9L399.2 118.7L398.6 118.5L409.3 116.5L420.4 114.6L432.0 113.0L443.7 111.7L443.5 111.9L443.5 112.1L443.4 112.2L443.3 112.4L432.3 113.7L421.5 115.3L411.1 117.2ZM443.3 112.4L443.4 112.2L443.5 112.1L443.5 111.9L443.7 111.7L454.9 110.9L464.8 110.7L473.0 111.2L480.0 112.2L472.5 111.3L463.9 111.1L454.1 111.5ZM154.9 430.6L142.7 430.1L127.9 413.6L140.7 414.1ZM129.2 397.2L115.9 396.7L106.5 379.5L120.2 380.1ZM110.0 345.0L95.8 344.5L94.3 326.8L108.7 327.4ZM113.5 292.0L99.3 291.4L105.7 273.9L119.7 274.5ZM119.7 274.5L105.7 273.9L114.7 256.6L128.5 257.2ZM128.5 257.2L114.7 256.6L126.4 239.6L139.8 240.1ZM139.8 240.1L126.4 239.6L140.9 222.9L153.8 223.5ZM153.8 223.5L140.9 222.9L158.2 206.7L170.5 207.3ZM340.6 125.3L337.8 125.1L334.9 124.9L358.2 119.9L384.4 115.5L386.2 115.7L387.8 115.9L362.9 120.4ZM387.8 115.9L387.0 115.8L386.2 115.7L385.3 115.6L384.4 115.5L398.8 113.5L414.5 111.6L431.7 110.1L449.9 108.9L449.4 109.1L448.9 109.2L448.5 109.3L448.1 109.4L431.9 110.6L416.2 112.1L401.5 113.9ZM448.1 109.4L448.5 109.3L448.9 109.2L449.4 109.1L449.9 108.9L465.0 108.6L472.6 109.2L476.9 110.5L480.0 112.2L476.0 110.6L470.6 109.5L461.9 109.0ZM95.8 344.5L81.6 344.0L80.0 326.3L94.3 326.8ZM94.3 326.8L80.0 326.3L81.1 308.6L95.5 309.1ZM95.5 309.1L81.1 308.6L85.0 291.0L99.3 291.4ZM76.6 396.0L63.7 396.0L52.5 378.8L65.9 378.7ZM888.6 396.0L875.6 396.0L886.1 378.8L899.5 378.7ZM65.9 378.7L52.5 378.8L44.3 361.3L58.1 361.3ZM899.5 378.7L886.1 378.8L893.6 361.3L907.4 361.3ZM53.3 343.7L39.2 343.7L37.1 326.0L51.4 326.0ZM912.3 343.7L898.2 343.7L900.0 326.0L914.3 326.0ZM51.4 326.0L37.1 326.0L38.0 308.3L52.4 308.2ZM914.3 326.0L900.0 326.0L899.0 308.3L913.4 308.2ZM72.9 255.8L58.7 255.8L71.7 238.8L85.6 238.7ZM892.8 255.8L878.7 255.8L866.1 238.8L879.9 238.7ZM85.6 238.7L71.7 238.8L87.9 222.2L101.4 222.1ZM879.9 238.7L866.1 238.8L850.6 222.2L864.0 222.1ZM101.4 222.1L87.9 222.2L107.3 206.0L120.3 205.9ZM864.0 222.1L850.6 222.2L832.0 206.0L844.8 205.9ZM862.6 396.2L849.4 396.5L858.9 379.3L872.5 379.0ZM831.5 380.5L817.7 381.2L823.7 363.8L837.7 363.0ZM842.8 327.8L828.4 328.6L827.3 310.9L841.6 310.1ZM841.6 310.1L827.3 310.9L823.8 293.2L838.0 292.4ZM831.9 274.9L817.9 275.7L809.7 258.4L823.3 257.6ZM798.5 223.9L785.8 224.7L770.2 208.4L782.2 207.7ZM795.9 399.3L782.4 400.2L790.0 383.1L803.9 382.1ZM772.6 417.0L759.4 418.1L768.8 401.3L782.4 400.2ZM782.5 260.4L769.0 261.6L759.7 244.5L772.7 243.3ZM772.7 243.3L759.7 244.5L748.2 227.8L760.7 226.6ZM746.3 210.4L734.5 211.5L718.6 195.7L729.6 194.6ZM646.1 506.7L642.0 507.1L637.8 507.5L649.0 501.5L659.4 495.1L664.2 494.7L668.9 494.2L657.8 500.6ZM668.9 494.2L659.4 495.1L678.6 481.7L689.0 480.7ZM722.0 451.2L709.9 452.4L722.5 436.7L735.2 435.5ZM755.5 262.8L742.1 264.2L733.7 247.1L746.7 245.8ZM746.7 245.8L733.7 247.1L723.4 230.3L735.8 229.0ZM707.6 196.9L696.7 198.1L680.1 182.9L690.1 181.7ZM690.1 181.7L680.1 182.9L661.3 168.3L670.2 167.2ZM592.1 129.5L589.8 130.0L587.4 130.5L571.8 125.3L554.9 120.6L556.2 120.2L557.4 119.8L575.5 124.4ZM557.4 119.8L556.8 120.0L556.2 120.2L555.5 120.4L554.9 120.6L545.8 118.5L536.4 116.5L526.6 114.8L516.6 113.4L516.7 113.2L516.7 113.1L516.7 112.9L516.7 112.7L527.4 114.1L537.8 115.8L547.8 117.7ZM516.7 112.7L516.7 112.9L516.7 113.1L516.7 113.2L516.6 113.4L506.6 112.3L497.0 111.7L488.1 111.6L480.0 112.2L487.7 111.4L496.5 111.3L506.3 111.8ZM678.6 481.7L668.0 482.8L683.9 468.5L695.3 467.4ZM695.3 467.4L683.9 468.5L697.8 453.6L709.9 452.4ZM711.1 214.0L699.3 215.3L685.8 199.4L696.7 198.1ZM649.9 496.1L640.3 497.1L657.4 483.9L668.0 482.8ZM734.7 283.0L720.8 284.4L715.1 267.1L728.6 265.6ZM728.6 265.6L715.1 267.1L707.7 249.9L720.7 248.5ZM720.7 248.5L707.7 249.9L698.5 233.1L711.0 231.7ZM699.3 215.3L687.6 216.7L674.9 200.8L685.8 199.4ZM685.8 199.4L674.9 200.8L660.2 185.4L670.2 184.1ZM670.2 184.1L660.2 185.4L643.4 170.8L652.3 169.5ZM652.3 169.5L643.4 170.8L624.4 157.0L632.1 155.8ZM698.5 233.1L686.1 234.5L675.9 218.1L687.6 216.7ZM694.7 251.4L681.7 252.9L673.7 236.0L686.1 234.5ZM650.2 186.7L640.1 188.1L625.4 173.3L634.4 172.0ZM638.1 473.5L626.6 474.7L636.8 460.1L649.0 458.7ZM679.2 289.0L665.3 290.5L661.1 273.1L674.6 271.6ZM674.6 271.6L661.1 273.1L655.6 255.8L668.6 254.4ZM668.6 254.4L655.6 255.8L648.7 238.9L661.2 237.5ZM645.6 444.7L632.8 446.0L639.7 430.2L653.0 428.8ZM653.0 428.8L639.7 430.2L645.4 413.8L659.1 412.3ZM659.1 412.3L645.4 413.8L649.8 397.0L663.8 395.5ZM669.5 361.0L655.1 362.4L655.9 344.9L670.3 343.4ZM670.3 343.4L655.9 344.9L655.6 327.3L669.9 325.8ZM625.7 312.4L611.4 313.7L609.5 296.1L623.5 294.8ZM610.9 243.0L598.2 244.2L592.6 227.5L604.7 226.3ZM581.1 479.5L569.9 480.5L576.4 466.1L588.4 465.0ZM588.4 465.0L576.4 466.1L582.0 451.0L594.7 449.8ZM606.6 278.6L593.0 279.8L589.6 262.4L602.9 261.3ZM602.9 261.3L589.6 262.4L585.5 245.3L598.2 244.2ZM548.8 152.3L545.3 152.7L541.6 153.1L536.2 146.7L530.3 140.5L533.2 140.1L536.1 139.8L542.7 145.9ZM536.1 139.8L533.2 140.1L530.3 140.5L524.0 134.6L517.1 129.1L519.2 128.8L521.3 128.5L529.0 133.9ZM521.3 128.5L520.2 128.6L519.2 128.8L518.2 128.9L517.1 129.1L513.4 126.4L509.6 123.9L505.5 121.5L501.2 119.3L501.7 119.2L502.3 119.1L502.9 119.0L503.4 118.9L508.2 121.1L512.8 123.4L517.1 125.9ZM534.7 527.5L531.2 527.9L527.6 528.2L532.0 523.7L536.4 518.7L540.5 518.3L544.6 517.9L539.7 523.0ZM544.6 517.9L540.5 518.3L536.4 518.7L540.7 513.3L544.7 507.5L549.3 507.1L554.0 506.6L549.4 512.4ZM560.3 181.2L550.7 182.1L543.0 167.6L551.6 166.8ZM569.3 533.8L549.5 535.3L530.8 536.3L517.3 536.6L511.7 536.0L513.1 535.9L514.6 535.7L516.0 535.6L517.5 535.5L522.1 536.1L533.3 536.0L550.2 535.1ZM517.5 535.5L516.0 535.6L514.6 535.7L513.1 535.9L511.7 536.0L510.5 534.9L511.1 533.4L512.3 531.6L513.8 529.6L515.5 529.4L517.2 529.3L519.0 529.1L520.7 528.9L518.9 530.9L517.4 532.8L516.6 534.3ZM520.3 520.1L516.3 520.4L512.4 520.7L514.9 515.3L517.3 509.6L521.8 509.3L526.4 509.0L523.4 514.7ZM531.3 183.5L521.5 184.1L517.0 169.4L525.8 168.9ZM525.8 168.9L517.0 169.4L512.0 155.5L519.5 155.1ZM512.4 142.2L509.3 142.4L506.2 142.6L503.0 136.5L499.5 130.8L501.8 130.6L504.0 130.5L508.4 136.2ZM504.0 130.5L502.9 130.6L501.8 130.6L500.6 130.7L499.5 130.8L497.6 128.1L495.6 125.4L493.5 122.9L491.3 120.4L492.0 120.4L492.6 120.3L493.3 120.3L493.9 120.2L496.7 122.6L499.3 125.1L501.7 127.7ZM493.9 120.2L493.3 120.3L492.6 120.3L492.0 120.4L491.3 120.4L488.9 118.1L486.3 116.0L483.4 114.0L480.0 112.2L484.1 113.9L487.7 115.8L490.9 118.0ZM517.3 509.6L508.4 510.0L511.7 497.7L521.7 497.2ZM521.7 497.2L511.7 497.7L514.7 484.3L525.6 483.8ZM529.0 469.5L517.3 470.0L519.6 455.0L532.0 454.4ZM532.0 454.4L519.6 455.0L521.5 439.3L534.5 438.7ZM534.5 438.7L521.5 439.3L523.0 423.1L536.5 422.5ZM536.5 422.5L523.0 423.1L524.3 406.4L538.1 405.9ZM538.1 405.9L524.3 406.4L525.2 389.4L539.3 388.8ZM539.3 388.8L525.2 389.4L525.8 372.1L540.1 371.5ZM540.5 336.4L526.1 336.9L525.8 319.2L540.1 318.6ZM539.2 301.0L525.1 301.5L524.2 283.9L538.0 283.4ZM524.3 406.4L510.4 406.9L511.1 389.9L525.2 389.4ZM525.8 319.2L511.5 319.7L511.0 302.0L525.1 301.5ZM482.3 470.7L470.7 470.7L470.1 455.7L482.5 455.7ZM482.5 455.7L470.1 455.7L469.6 440.0L482.6 440.1ZM482.6 440.1L469.6 440.0L469.3 423.8L482.7 423.9ZM482.7 423.9L469.3 423.8L468.9 407.2L482.8 407.3ZM482.8 407.3L468.9 407.2L468.7 390.2L482.8 390.2ZM482.9 320.0L468.6 320.0L468.7 302.3L482.8 302.3ZM482.8 302.3L468.7 302.3L468.9 284.7L482.8 284.7ZM482.8 284.7L468.9 284.7L469.3 267.2L482.7 267.3ZM482.7 267.3L469.3 267.2L469.7 250.0L482.6 250.0ZM482.6 250.0L469.7 250.0L470.1 233.1L482.5 233.1ZM482.5 233.1L470.1 233.1L470.7 216.6L482.3 216.6ZM454.6 390.0L440.5 389.6L439.9 372.3L454.2 372.7ZM454.2 372.7L439.9 372.3L439.7 354.8L454.1 355.2ZM454.1 355.2L439.7 354.8L439.7 337.1L454.1 337.5ZM454.1 337.5L439.7 337.1L440.0 319.4L454.3 319.8ZM454.3 319.8L440.0 319.4L440.5 301.7L454.6 302.1ZM412.2 388.4L398.0 387.6L396.9 370.3L411.3 371.1ZM411.3 371.1L396.9 370.3L396.4 352.8L410.8 353.6ZM411.4 318.2L397.1 317.4L398.2 299.7L412.3 300.5ZM409.7 507.0L400.4 506.1L391.3 493.5L401.7 494.5ZM401.7 494.5L391.3 493.5L383.4 479.9L394.6 480.9ZM394.6 480.9L383.4 479.9L376.4 465.5L388.4 466.5ZM388.4 466.5L376.4 465.5L370.4 450.3L383.0 451.4ZM383.0 451.4L370.4 450.3L365.3 434.5L378.5 435.6ZM378.5 435.6L365.3 434.5L361.1 418.2L374.7 419.4ZM374.7 419.4L361.1 418.2L357.8 401.5L371.8 402.7ZM371.8 402.7L357.8 401.5L355.4 384.4L369.6 385.6ZM369.6 385.6L355.4 384.4L353.8 367.1L368.2 368.3ZM368.5 315.4L354.3 314.2L356.1 296.6L370.1 297.8ZM375.7 262.9L362.4 261.7L366.8 244.7L379.6 245.8ZM411.8 167.1L403.4 166.2L414.0 152.6L421.3 153.4ZM414.0 152.6L410.4 152.2L406.9 151.8L413.4 145.4L420.5 139.3L423.3 139.7L426.2 140.0L419.9 146.2ZM420.5 139.3L417.7 138.9L414.9 138.5L423.3 132.8L432.3 127.4L434.3 127.8L436.3 128.1L428.1 133.5ZM436.3 128.1L435.3 127.9L434.3 127.8L433.3 127.6L432.3 127.4L437.2 124.9L442.3 122.5L447.6 120.3L453.3 118.2L453.8 118.3L454.3 118.4L454.8 118.5L455.3 118.6L450.2 120.8L445.3 123.1L440.7 125.5ZM455.3 118.6L454.8 118.5L454.3 118.4L453.8 118.3L453.3 118.2L459.3 116.3L465.7 114.6L472.6 113.2L480.0 112.2L473.0 113.3L466.7 114.9L460.8 116.6ZM390.7 533.8L402.4 534.2L409.1 534.0L411.5 533.2L411.0 532.0L412.4 532.2L413.8 532.3L415.2 532.5L416.5 532.6L416.1 533.7L412.4 534.3L404.0 534.4ZM416.5 532.6L415.2 532.5L413.8 532.3L412.4 532.2L411.0 532.0L409.0 530.5L406.1 528.7L402.9 526.7L399.4 524.5L401.2 524.7L403.0 525.0L404.8 525.2L406.6 525.4L409.8 527.5L412.7 529.5L415.1 531.2ZM406.6 525.4L403.0 525.0L399.4 524.5L392.2 519.8L385.1 514.6L389.4 515.0L393.6 515.5L400.1 520.7ZM393.6 515.5L389.4 515.0L385.1 514.6L378.3 508.9L371.8 503.0L376.6 503.5L381.4 504.1L387.4 510.0ZM381.4 504.1L371.8 503.0L359.9 490.2L370.5 491.4ZM370.5 491.4L359.9 490.2L349.4 476.5L360.8 477.7ZM338.9 432.0L325.6 430.7L320.1 414.3L333.8 415.7ZM333.8 415.7L320.1 414.3L315.8 397.5L329.8 398.9ZM329.8 398.9L315.8 397.5L312.7 380.4L326.9 381.8ZM325.8 311.6L311.6 310.2L314.2 292.6L328.1 294.0ZM328.1 294.0L314.2 292.6L317.9 275.1L331.5 276.5ZM331.5 276.5L317.9 275.1L322.8 257.8L336.0 259.2ZM336.0 259.2L322.8 257.8L328.9 240.9L341.5 242.2ZM341.5 242.2L328.9 240.9L336.2 224.2L348.1 225.5ZM375.0 178.6L365.7 177.5L378.4 163.2L386.7 164.3ZM386.7 164.3L378.4 163.2L392.9 149.9L399.8 150.9ZM325.6 430.7L312.3 429.3L306.4 412.9L320.1 414.3ZM312.7 380.4L298.4 378.9L296.3 361.6L310.7 363.0ZM310.7 363.0L296.3 361.6L295.4 344.0L309.9 345.5ZM310.2 327.9L295.8 326.4L297.4 308.7L311.6 310.2ZM354.5 192.4L344.2 191.2L356.5 176.3L365.7 177.5ZM315.9 459.3L303.7 457.9L293.9 442.5L306.7 443.9ZM306.7 443.9L293.9 442.5L285.6 426.5L299.0 427.9ZM299.0 427.9L285.6 426.5L278.9 410.0L292.7 411.5ZM296.6 255.0L283.5 253.5L291.3 236.6L303.8 238.0ZM303.8 238.0L291.3 236.6L300.6 220.1L312.4 221.5ZM312.4 221.5L300.6 220.1L311.4 204.1L322.5 205.4ZM272.3 425.1L259.0 423.7L251.4 407.1L265.2 408.5ZM265.2 408.5L251.4 407.1L245.5 390.2L259.6 391.6ZM259.6 391.6L245.5 390.2L241.3 372.9L255.6 374.4ZM255.6 374.4L241.3 372.9L238.8 355.5L253.1 357.0ZM253.1 357.0L238.8 355.5L237.8 337.9L252.2 339.4ZM270.5 252.0L257.5 250.5L266.4 233.7L278.8 235.1ZM278.8 235.1L266.4 233.7L277.1 217.2L288.8 218.7ZM288.8 218.7L277.1 217.2L289.5 201.3L300.5 202.7Z"/>
<path fill="#007dff" d="M181.4 349.9L167.0 348.7L166.0 331.0L180.3 332.3ZM180.3 332.3L166.0 331.0L167.0 313.4L181.3 314.6ZM307.8 152.9L300.1 151.9L328.1 139.4L334.5 140.3ZM254.4 479.2L244.2 478.4L224.2 463.9L235.3 464.8ZM235.3 464.8L224.2 463.9L206.8 448.6L218.7 449.6ZM218.7 449.6L206.8 448.6L192.0 432.8L204.6 433.7ZM204.6 433.7L192.0 432.8L179.6 416.4L192.7 417.4ZM192.7 417.4L179.6 416.4L169.5 399.6L183.0 400.7ZM183.0 400.7L169.5 399.6L161.6 382.5L175.5 383.6ZM175.5 383.6L161.6 382.5L156.1 365.1L170.2 366.2ZM170.2 366.2L156.1 365.1L152.7 347.6L167.0 348.7ZM167.0 313.4L152.7 312.2L156.0 294.6L170.2 295.7ZM218.4 210.8L206.6 209.7L223.8 194.0L234.8 195.0ZM234.8 195.0L223.8 194.0L243.7 178.9L253.8 179.9ZM275.4 165.5L266.4 164.5L292.2 151.0L300.1 151.9ZM328.1 139.4L324.9 138.9L321.7 138.5L338.1 132.7L355.8 127.3L358.2 127.7L360.5 128.1L343.7 133.6ZM277.6 503.8L273.9 503.6L270.2 503.4L254.8 497.1L240.4 490.5L244.8 490.7L249.1 490.9L262.9 497.5ZM127.9 363.3L113.8 362.6L110.0 345.0L124.2 345.8ZM127.7 292.7L113.5 292.0L119.7 274.5L133.7 275.2ZM182.6 208.0L170.5 207.3L190.0 191.6L201.4 192.3ZM58.1 361.3L44.3 361.3L39.2 343.7L53.3 343.7ZM907.4 361.3L893.6 361.3L898.2 343.7L912.3 343.7ZM52.4 308.2L38.0 308.3L41.9 290.6L56.3 290.6ZM913.4 308.2L899.0 308.3L895.1 290.6L909.5 290.6ZM56.3 290.6L41.9 290.6L48.8 273.1L63.1 273.1ZM909.5 290.6L895.1 290.6L888.3 273.1L902.6 273.1ZM63.1 273.1L48.8 273.1L58.7 255.8L72.9 255.8ZM902.6 273.1L888.3 273.1L878.7 255.8L892.8 255.8ZM872.5 379.0L858.9 379.3L865.7 361.9L879.7 361.5ZM885.7 326.2L871.4 326.6L870.2 308.9L884.6 308.5ZM884.6 308.5L870.2 308.9L866.4 291.2L880.7 290.8ZM837.7 363.0L823.7 363.8L827.2 346.3L841.5 345.5ZM838.0 292.4L823.8 293.2L817.9 275.7L831.9 274.9ZM823.3 257.6L809.7 258.4L799.0 241.4L812.2 240.6ZM812.2 240.6L799.0 241.4L785.8 224.7L798.5 223.9ZM823.8 293.2L809.6 294.2L804.0 276.7L817.9 275.7ZM782.4 400.2L768.8 401.3L776.1 384.3L790.0 383.1ZM790.0 383.1L776.1 384.3L781.3 366.9L795.4 365.8ZM798.7 312.9L784.4 314.1L781.3 296.4L795.5 295.3ZM790.1 277.7L776.2 278.9L769.0 261.6L782.5 260.4ZM654.2 506.0L650.2 506.3L646.1 506.7L657.8 500.6L668.9 494.2L673.6 493.8L678.3 493.4L666.6 499.8ZM747.9 434.4L735.2 435.5L746.2 419.2L759.4 418.1ZM762.4 280.2L748.5 281.5L742.1 264.2L755.5 262.8ZM670.2 167.2L661.3 168.3L639.8 154.6L647.5 153.5ZM709.9 452.4L697.8 453.6L709.7 437.9L722.5 436.7ZM742.1 264.2L728.6 265.6L720.7 248.5L733.7 247.1ZM733.7 247.1L720.7 248.5L711.0 231.7L723.4 230.3ZM668.0 482.8L657.4 483.9L672.5 469.7L683.9 468.5ZM683.9 468.5L672.5 469.7L685.6 454.8L697.8 453.6ZM739.0 300.5L724.9 302.0L720.8 284.4L734.7 283.0ZM643.4 170.8L634.4 172.0L616.6 158.1L624.4 157.0ZM646.8 485.0L636.2 486.2L649.6 472.2L661.0 470.9ZM669.9 325.8L655.6 327.3L654.1 309.6L668.3 308.1ZM607.4 448.6L594.7 449.8L600.0 434.0L613.2 432.8ZM604.7 226.3L592.6 227.5L586.1 211.2L597.4 210.1ZM597.4 210.1L586.1 211.2L578.5 195.4L588.9 194.3ZM594.7 449.8L582.0 451.0L586.8 435.2L600.0 434.0ZM600.0 434.0L586.8 435.2L590.7 418.9L604.3 417.7ZM609.5 296.1L595.5 297.3L593.0 279.8L606.6 278.6ZM598.2 244.2L585.5 245.3L580.6 228.6L592.6 227.5ZM592.6 227.5L580.6 228.6L574.7 212.3L586.1 211.2ZM586.1 211.2L574.7 212.3L568.0 196.4L578.5 195.4ZM554.0 506.6L544.7 507.5L552.2 495.0L562.4 494.1ZM597.5 367.8L583.2 368.9L583.8 351.4L598.2 350.3ZM597.2 315.0L582.9 316.1L581.4 298.4L595.5 297.3ZM569.3 533.8L549.1 535.4L528.7 536.5L512.6 537.0L505.8 536.6L507.2 536.4L508.7 536.3L510.2 536.2L511.7 536.0L517.3 536.6L530.8 536.3L549.5 535.3ZM511.7 536.0L510.2 536.2L508.7 536.3L507.2 536.4L505.8 536.6L504.4 535.4L504.9 533.9L505.9 532.1L507.1 530.1L508.8 530.0L510.5 529.8L512.1 529.7L513.8 529.6L512.3 531.6L511.1 533.4L510.5 534.9ZM554.4 317.9L540.1 318.6L539.2 301.0L553.3 300.2ZM553.3 300.2L539.2 301.0L538.0 283.4L551.8 282.7ZM549.7 265.2L536.3 265.9L534.2 248.8L547.1 248.1ZM547.1 248.1L534.2 248.8L531.7 231.9L544.0 231.2ZM544.0 231.2L531.7 231.9L528.8 215.4L540.3 214.8ZM540.3 214.8L528.8 215.4L525.4 199.5L536.1 198.9ZM536.1 198.9L525.4 199.5L521.5 184.1L531.3 183.5ZM519.5 155.1L515.8 155.3L512.0 155.5L509.2 148.9L506.2 142.6L509.3 142.4L512.4 142.2L516.1 148.5ZM507.1 530.1L503.8 530.3L500.5 530.5L502.5 526.1L504.6 521.1L508.5 520.9L512.4 520.7L509.7 525.6ZM540.1 371.5L525.8 372.1L526.1 354.6L540.5 354.0ZM540.5 354.0L526.1 354.6L526.1 336.9L540.5 336.4ZM525.2 389.4L511.1 389.9L511.5 372.5L525.8 372.1ZM525.8 372.1L511.5 372.5L511.7 355.0L526.1 354.6ZM526.1 336.9L511.7 337.4L511.5 319.7L525.8 319.2ZM490.6 510.6L481.8 510.7L482.0 498.4L491.9 498.3ZM491.9 498.3L482.0 498.4L482.2 485.0L493.0 484.9ZM482.8 390.2L468.7 390.2L468.6 372.9L482.9 372.9ZM410.8 353.6L396.4 352.8L396.5 335.1L410.9 335.9ZM410.9 335.9L396.5 335.1L397.1 317.4L411.4 318.2ZM390.7 533.8L406.9 534.7L419.0 535.1L425.6 534.8L427.7 533.9L429.1 534.0L430.5 534.2L432.0 534.3L433.4 534.5L430.3 535.3L422.1 535.4L408.2 534.9ZM368.2 368.3L353.8 367.1L353.1 349.6L367.6 350.7ZM367.6 350.7L353.1 349.6L353.3 331.9L367.7 333.1ZM367.7 333.1L353.3 331.9L354.3 314.2L368.5 315.4ZM370.1 297.8L356.1 296.6L358.8 279.1L372.5 280.2ZM372.5 280.2L358.8 279.1L362.4 261.7L375.7 262.9ZM421.3 153.4L417.6 153.0L414.0 152.6L419.9 146.2L426.2 140.0L429.1 140.4L432.0 140.7L426.5 146.9ZM410.4 517.4L406.2 516.9L402.0 516.5L396.4 511.0L390.9 505.1L395.7 505.6L400.4 506.1L405.3 511.9ZM395.0 165.3L386.7 164.3L399.8 150.9L406.9 151.8ZM360.8 477.7L349.4 476.5L340.2 461.9L352.3 463.1ZM345.0 447.9L332.3 446.6L325.6 430.7L338.9 432.0ZM364.8 193.6L354.5 192.4L365.7 177.5L375.0 178.6ZM390.7 533.8L400.7 534.0L405.7 533.6L406.9 532.7L405.6 531.4L406.9 531.5L408.3 531.7L409.7 531.8L411.0 532.0L411.5 533.2L409.1 534.0L402.4 534.2ZM411.0 532.0L409.7 531.8L408.3 531.7L406.9 531.5L405.6 531.4L403.0 529.8L399.6 527.9L395.9 525.9L392.1 523.7L393.9 523.9L395.7 524.1L397.5 524.3L399.4 524.5L402.9 526.7L406.1 528.7L409.0 530.5ZM399.4 524.5L395.7 524.1L392.1 523.7L384.3 518.8L376.6 513.6L380.9 514.1L385.1 514.6L392.2 519.8ZM385.1 514.6L380.9 514.1L376.6 513.6L369.2 507.9L362.2 501.9L367.0 502.5L371.8 503.0L378.3 508.9ZM371.8 503.0L362.2 501.9L349.3 489.0L359.9 490.2ZM359.9 490.2L349.3 489.0L338.0 475.2L349.4 476.5ZM309.9 345.5L295.4 344.0L295.8 326.4L310.2 327.9ZM292.7 411.5L278.9 410.0L273.7 393.1L287.7 394.6ZM287.7 394.6L273.7 393.1L269.9 375.9L284.1 377.4ZM283.2 307.2L269.1 305.7L272.4 288.1L286.3 289.6ZM286.3 289.6L272.4 288.1L277.3 270.7L290.8 272.2ZM290.8 272.2L277.3 270.7L283.5 253.5L296.6 255.0ZM252.2 339.4L237.8 337.9L238.5 320.2L252.8 321.8ZM252.8 321.8L238.5 320.2L240.8 302.6L254.9 304.1ZM254.9 304.1L240.8 302.6L244.7 285.0L258.6 286.6ZM258.6 286.6L244.7 285.0L250.3 267.7L263.8 269.2ZM263.8 269.2L250.3 267.7L257.5 250.5L270.5 252.0Z"/>
<path fill="#004bff" d="M390.7 533.8L382.8 532.3L374.0 530.5L365.0 528.5L356.1 526.4L357.2 526.5L358.3 526.5L359.4 526.6L360.5 526.7L368.7 528.8L376.8 530.7L384.5 532.4ZM360.5 526.7L359.4 526.6L358.3 526.5L357.2 526.5L356.1 526.4L347.3 524.1L338.8 521.6L330.5 519.1L322.5 516.4L324.1 516.5L325.7 516.7L327.4 516.8L329.0 516.9L336.5 519.6L344.3 522.1L352.3 524.5ZM329.0 516.9L325.7 516.7L322.5 516.4L307.3 510.8L293.0 504.9L296.9 505.2L300.9 505.5L314.5 511.4ZM300.9 505.5L296.9 505.2L293.0 504.9L279.6 498.7L267.0 492.2L271.6 492.5L276.2 492.9L288.2 499.3ZM300.1 151.9L292.2 151.0L321.7 138.5L328.1 139.4ZM266.4 164.5L257.2 163.6L284.2 150.2L292.2 151.0ZM321.7 138.5L318.4 138.1L315.1 137.7L332.3 132.0L350.9 126.5L353.4 126.9L355.8 127.3L338.1 132.7ZM183.4 447.1L171.8 446.5L154.9 430.6L167.1 431.2ZM167.1 431.2L154.9 430.6L140.7 414.1L153.6 414.8ZM153.1 240.9L139.8 240.1L153.8 223.5L166.6 224.2ZM166.6 224.2L153.8 223.5L170.5 207.3L182.6 208.0ZM247.8 162.9L238.3 162.2L267.7 148.8L276.0 149.4ZM345.9 125.9L343.3 125.6L340.6 125.3L362.9 120.4L387.8 115.9L389.4 116.2L390.9 116.4L367.2 120.9ZM390.9 116.4L390.1 116.3L389.4 116.2L388.6 116.0L387.8 115.9L401.5 113.9L416.2 112.1L431.9 110.6L448.1 109.4L447.7 109.6L447.3 109.7L446.9 109.8L446.5 110.0L431.9 111.1L417.4 112.6L403.7 114.4ZM446.5 110.0L446.9 109.8L447.3 109.7L447.7 109.6L448.1 109.4L461.9 109.0L470.6 109.5L476.0 110.6L480.0 112.2L475.1 110.7L468.8 109.7L459.5 109.4ZM137.9 445.5L127.0 445.4L107.0 429.4L118.8 429.4ZM118.8 429.4L107.0 429.4L90.3 412.9L102.7 413.0ZM133.1 206.0L120.3 205.9L142.5 190.3L154.7 190.4ZM154.7 190.4L142.5 190.3L168.2 175.3L179.6 175.4ZM179.6 175.4L168.2 175.3L197.6 161.0L208.2 161.1ZM208.2 161.1L197.6 161.0L231.2 147.6L240.8 147.7ZM240.8 147.7L231.2 147.6L269.8 135.3L278.3 135.4ZM278.3 135.4L274.1 135.3L269.8 135.3L291.4 129.6L314.9 124.2L318.6 124.2L322.1 124.3L299.3 129.7ZM746.2 419.2L733.0 420.5L741.5 403.8L755.2 402.5ZM762.1 385.5L748.1 386.8L752.9 369.5L767.1 368.2ZM767.1 368.2L752.9 369.5L755.7 352.0L770.1 350.7ZM770.1 315.4L755.8 316.7L753.1 299.1L767.2 297.7ZM722.8 212.7L711.1 214.0L696.7 198.1L707.6 196.9ZM748.1 386.8L734.1 388.2L738.6 370.9L752.9 369.5ZM752.9 369.5L738.6 370.9L741.4 353.4L755.7 352.0ZM755.7 352.0L741.4 353.4L742.3 335.8L756.7 334.4ZM756.7 334.4L742.3 335.8L741.5 318.1L755.8 316.7ZM709.7 437.9L696.9 439.2L706.4 423.1L719.7 421.8ZM672.5 469.7L661.0 470.9L673.4 456.1L685.6 454.8ZM706.0 391.0L692.0 392.5L695.8 375.3L710.1 373.8ZM710.1 373.8L695.8 375.3L698.2 357.9L712.6 356.4ZM661.2 457.4L649.0 458.7L658.4 443.3L671.3 441.9ZM671.3 441.9L658.4 443.3L666.4 427.3L679.7 425.9ZM686.6 409.4L672.8 410.9L677.9 394.0L692.0 392.5ZM692.0 392.5L677.9 394.0L681.6 376.8L695.8 375.3ZM695.8 375.3L681.6 376.8L683.8 359.4L698.2 357.9ZM698.2 357.9L683.8 359.4L684.8 341.9L699.2 340.3ZM699.2 340.3L684.8 341.9L684.3 324.2L698.6 322.7ZM618.0 416.5L604.3 417.7L607.8 401.0L621.8 399.7ZM604.3 417.7L590.7 418.9L593.8 402.2L607.8 401.0ZM611.9 366.6L597.5 367.8L598.2 350.3L612.6 349.1ZM612.6 349.1L598.2 350.3L598.1 332.6L612.5 331.4ZM612.5 331.4L598.1 332.6L597.2 315.0L611.4 313.7ZM595.5 297.3L581.4 298.4L579.2 280.9L593.0 279.8ZM580.6 228.6L568.4 229.6L563.3 213.2L574.7 212.3ZM574.7 212.3L563.3 213.2L557.4 197.4L568.0 196.4ZM527.6 528.2L524.1 528.6L520.7 528.9L524.5 524.5L528.3 519.5L532.3 519.1L536.4 518.7L532.0 523.7ZM550.7 182.1L541.0 182.9L534.4 168.3L543.0 167.6ZM524.4 141.1L521.4 141.4L518.4 141.7L513.7 135.7L508.5 130.1L510.7 129.8L512.8 129.6L518.9 135.2ZM527.0 154.5L523.3 154.8L519.5 155.1L516.1 148.5L512.4 142.2L515.4 141.9L518.4 141.7L522.8 148.0ZM487.6 531.1L484.4 531.2L481.3 531.2L481.4 526.7L481.5 521.8L485.3 521.8L489.2 521.7L488.4 526.6ZM496.1 423.8L482.7 423.9L482.8 407.3L496.6 407.1ZM494.8 233.0L482.5 233.1L482.3 216.6L494.0 216.6ZM491.9 185.1L482.0 185.2L481.8 170.4L490.6 170.3ZM490.6 170.3L481.8 170.4L481.5 156.4L489.2 156.4ZM489.2 156.4L485.4 156.4L481.5 156.4L481.4 149.8L481.3 143.4L484.4 143.4L487.5 143.3L488.4 149.7ZM390.7 533.8L405.5 534.6L415.7 534.7L420.8 534.2L422.1 533.3L423.5 533.4L424.9 533.6L426.3 533.7L427.7 533.9L425.6 534.8L419.0 535.1L406.9 534.7ZM427.7 533.9L426.3 533.7L424.9 533.6L423.5 533.4L422.1 533.3L421.2 531.9L419.2 530.2L416.7 528.3L413.8 526.2L415.6 526.4L417.4 526.6L419.2 526.8L421.0 527.0L423.5 529.1L425.8 531.0L427.4 532.6ZM400.4 506.1L390.9 505.1L380.9 492.5L391.3 493.5ZM391.3 493.5L380.9 492.5L372.1 478.8L383.4 479.9ZM383.4 479.9L372.1 478.8L364.4 464.3L376.4 465.5ZM370.4 450.3L357.7 449.1L352.1 433.3L365.3 434.5ZM365.3 434.5L352.1 433.3L347.5 417.0L361.1 418.2ZM361.1 418.2L347.5 417.0L343.8 400.2L357.8 401.5ZM355.4 384.4L341.2 383.2L339.5 365.8L353.8 367.1ZM353.8 367.1L339.5 365.8L338.7 348.3L353.1 349.6ZM353.3 331.9L338.9 330.6L340.0 313.0L354.3 314.2ZM341.2 383.2L326.9 381.8L325.1 364.5L339.5 365.8ZM339.5 365.8L325.1 364.5L324.3 346.9L338.7 348.3ZM338.7 348.3L324.3 346.9L324.5 329.3L338.9 330.6ZM338.9 330.6L324.5 329.3L325.8 311.6L340.0 313.0ZM298.4 378.9L284.1 377.4L281.9 360.0L296.3 361.6ZM296.3 361.6L281.9 360.0L281.0 342.5L295.4 344.0Z"/>
<path fill="#0064ff" d="M276.2 492.9L267.0 492.2L244.2 478.4L254.4 479.2ZM167.0 348.7L152.7 347.6L151.6 329.9L166.0 331.0ZM166.0 331.0L151.6 329.9L152.7 312.2L167.0 313.4ZM170.2 295.7L156.0 294.6L161.6 277.1L175.5 278.2ZM175.5 278.2L161.6 277.1L169.4 259.7L182.9 260.9ZM182.9 260.9L169.4 259.7L179.4 242.7L192.5 243.8ZM192.5 243.8L179.4 242.7L191.8 226.0L204.3 227.1ZM204.3 227.1L191.8 226.0L206.6 209.7L218.4 210.8ZM253.8 179.9L243.7 178.9L266.4 164.5L275.4 165.5ZM360.5 128.1L358.2 127.7L355.8 127.3L375.0 122.3L396.1 117.8L397.4 118.1L398.6 118.5L378.7 123.0ZM398.6 118.5L398.0 118.3L397.4 118.1L396.8 117.9L396.1 117.8L407.5 115.7L419.4 113.9L431.8 112.3L444.3 111.1L444.1 111.3L443.9 111.4L443.8 111.6L443.7 111.7L432.0 113.0L420.4 114.6L409.3 116.5ZM443.7 111.7L443.8 111.6L443.9 111.4L444.1 111.3L444.3 111.1L456.0 110.4L465.9 110.4L473.7 111.0L480.0 112.2L473.0 111.2L464.8 110.7L454.9 110.9ZM233.4 178.0L223.0 177.2L247.8 162.9L257.2 163.6ZM390.7 533.8L378.4 532.0L366.5 530.0L355.0 527.9L344.0 525.6L345.0 525.6L345.9 525.7L346.9 525.7L347.9 525.8L358.2 528.0L368.9 530.2L379.8 532.1ZM347.9 525.8L346.9 525.7L345.9 525.7L345.0 525.6L344.0 525.6L333.5 523.1L323.4 520.6L313.7 517.9L304.4 515.2L305.8 515.3L307.3 515.4L308.7 515.4L310.2 515.5L319.1 518.3L328.3 520.9L337.9 523.4ZM310.2 515.5L307.3 515.4L304.4 515.2L286.7 509.5L270.2 503.4L273.9 503.6L277.6 503.8L293.4 509.8ZM249.1 490.9L240.4 490.5L214.3 476.6L224.1 477.1ZM224.1 477.1L214.3 476.6L191.6 461.9L202.3 462.5ZM202.3 462.5L191.6 461.9L171.8 446.5L183.4 447.1ZM153.6 414.8L140.7 414.1L129.2 397.2L142.5 397.9ZM142.5 397.9L129.2 397.2L120.2 380.1L134.0 380.8ZM134.0 380.8L120.2 380.1L113.8 362.6L127.9 363.3ZM124.2 345.8L110.0 345.0L108.7 327.4L123.0 328.1ZM123.0 328.1L108.7 327.4L109.8 309.6L124.1 310.4ZM124.1 310.4L109.8 309.6L113.5 292.0L127.7 292.7ZM133.7 275.2L119.7 274.5L128.5 257.2L142.2 257.9ZM142.2 257.9L128.5 257.2L139.8 240.1L153.1 240.9ZM201.4 192.3L190.0 191.6L212.5 176.5L223.0 177.2ZM276.0 149.4L267.7 148.8L301.4 136.4L308.4 137.0ZM308.4 137.0L304.9 136.7L301.4 136.4L320.2 130.7L340.6 125.3L343.3 125.6L345.9 125.9L326.4 131.3ZM390.7 533.8L374.1 531.9L358.7 529.8L344.4 527.5L330.9 525.1L331.6 525.1L332.4 525.1L333.1 525.2L333.9 525.2L346.7 527.5L360.4 529.8L375.0 531.9ZM333.9 525.2L333.1 525.2L332.4 525.1L331.6 525.1L330.9 525.1L318.2 522.6L306.0 520.0L294.4 517.3L283.3 514.6L284.5 514.6L285.7 514.6L286.9 514.6L288.2 514.6L298.8 517.4L310.0 520.1L321.6 522.7ZM288.2 514.6L285.7 514.6L283.3 514.6L262.3 508.7L242.8 502.6L246.0 502.6L249.3 502.7L268.0 508.8ZM249.3 502.7L246.0 502.6L242.8 502.6L224.7 496.2L207.7 489.6L211.6 489.6L215.6 489.6L231.9 496.3ZM215.6 489.6L207.7 489.6L177.1 475.6L186.1 475.7ZM186.1 475.7L177.1 475.6L150.3 460.8L160.3 460.9ZM160.3 460.9L150.3 460.8L127.0 445.4L137.9 445.5ZM102.7 413.0L90.3 412.9L76.6 396.0L89.6 396.1ZM879.7 361.5L865.7 361.9L869.9 344.3L884.1 343.9ZM884.1 343.9L869.9 344.3L871.4 326.6L885.7 326.2ZM841.5 345.5L827.2 346.3L828.4 328.6L842.8 327.8ZM795.4 365.8L781.3 366.9L784.4 349.4L798.7 348.2ZM798.7 348.2L784.4 349.4L785.4 331.8L799.8 330.6ZM799.8 330.6L785.4 331.8L784.4 314.1L798.7 312.9ZM795.5 295.3L781.3 296.4L776.2 278.9L790.1 277.7ZM769.0 261.6L755.5 262.8L746.7 245.8L759.7 244.5ZM759.7 244.5L746.7 245.8L735.8 229.0L748.2 227.8ZM748.2 227.8L735.8 229.0L722.8 212.7L734.5 211.5ZM734.5 211.5L722.8 212.7L707.6 196.9L718.6 195.7ZM655.3 152.5L647.5 153.5L621.7 140.9L628.0 139.9ZM628.0 139.9L624.9 140.4L621.7 140.9L607.4 135.0L592.1 129.5L594.4 129.1L596.7 128.6L612.9 134.1ZM735.2 435.5L722.5 436.7L733.0 420.5L746.2 419.2ZM767.2 297.7L753.1 299.1L748.5 281.5L762.4 280.2ZM735.8 229.0L723.4 230.3L711.1 214.0L722.8 212.7ZM647.5 153.5L639.8 154.6L615.4 141.9L621.7 140.9ZM621.7 140.9L618.6 141.4L615.4 141.9L601.9 136.0L587.4 130.5L589.8 130.0L592.1 129.5L607.4 135.0ZM659.4 495.1L649.9 496.1L668.0 482.8L678.6 481.7ZM722.5 436.7L709.7 437.9L719.7 421.8L733.0 420.5ZM733.0 420.5L719.7 421.8L727.8 405.1L741.5 403.8ZM755.8 316.7L741.5 318.1L739.0 300.5L753.1 299.1ZM753.1 299.1L739.0 300.5L734.7 283.0L748.5 281.5ZM748.5 281.5L734.7 283.0L728.6 265.6L742.1 264.2ZM696.7 198.1L685.8 199.4L670.2 184.1L680.1 182.9ZM680.1 182.9L670.2 184.1L652.3 169.5L661.3 168.3ZM661.3 168.3L652.3 169.5L632.1 155.8L639.8 154.6ZM615.4 141.9L612.3 142.5L609.1 143.0L596.4 137.1L582.8 131.4L585.1 131.0L587.4 130.5L601.9 136.0ZM697.8 453.6L685.6 454.8L696.9 439.2L709.7 437.9ZM741.5 318.1L727.2 319.6L724.9 302.0L739.0 300.5ZM711.0 231.7L698.5 233.1L687.6 216.7L699.3 215.3ZM657.4 483.9L646.8 485.0L661.0 470.9L672.5 469.7ZM707.7 249.9L694.7 251.4L686.1 234.5L698.5 233.1ZM687.6 216.7L675.9 218.1L663.9 202.1L674.9 200.8ZM674.9 200.8L663.9 202.1L650.2 186.7L660.2 185.4ZM660.2 185.4L650.2 186.7L634.4 172.0L643.4 170.8ZM712.9 321.2L698.6 322.7L696.6 305.0L710.7 303.5ZM710.7 303.5L696.6 305.0L693.1 287.5L707.0 286.0ZM707.0 286.0L693.1 287.5L688.1 270.1L701.6 268.6ZM701.6 268.6L688.1 270.1L681.7 252.9L694.7 251.4ZM649.0 458.7L636.8 460.1L645.6 444.7L658.4 443.3ZM682.4 306.6L668.3 308.1L665.3 290.5L679.2 289.0ZM613.2 432.8L600.0 434.0L604.3 417.7L618.0 416.5ZM607.8 401.0L593.8 402.2L596.1 385.1L610.3 383.9ZM610.3 383.9L596.1 385.1L597.5 367.8L611.9 366.6ZM611.4 313.7L597.2 315.0L595.5 297.3L609.5 296.1ZM562.4 494.1L552.2 495.0L558.7 481.5L569.9 480.5ZM569.9 480.5L558.7 481.5L564.5 467.1L576.4 466.1ZM576.4 466.1L564.5 467.1L569.5 452.0L582.0 451.0ZM582.0 451.0L569.5 452.0L573.7 436.3L586.8 435.2ZM586.8 435.2L573.7 436.3L577.1 420.0L590.7 418.9ZM590.7 418.9L577.1 420.0L579.8 403.3L593.8 402.2ZM593.8 402.2L579.8 403.3L581.9 386.3L596.1 385.1ZM596.1 385.1L581.9 386.3L583.2 368.9L597.5 367.8ZM598.2 350.3L583.8 351.4L583.7 333.8L598.1 332.6ZM598.1 332.6L583.7 333.8L582.9 316.1L597.2 315.0ZM593.0 279.8L579.2 280.9L576.4 263.5L589.6 262.4ZM589.6 262.4L576.4 263.5L572.8 246.4L585.5 245.3ZM551.6 166.8L543.0 167.6L534.3 153.8L541.6 153.1ZM541.6 153.1L538.0 153.5L534.3 153.8L529.6 147.3L524.4 141.1L527.4 140.8L530.3 140.5L536.2 146.7ZM530.3 140.5L527.4 140.8L524.4 141.1L518.9 135.2L512.8 129.6L515.0 129.3L517.1 129.1L524.0 134.6ZM517.1 129.1L516.1 129.2L515.0 129.3L513.9 129.5L512.8 129.6L509.6 126.9L506.2 124.4L502.6 121.9L498.8 119.6L499.4 119.5L500.0 119.5L500.6 119.4L501.2 119.3L505.5 121.5L509.6 123.9L513.4 126.4ZM557.4 197.4L546.8 198.2L541.0 182.9L550.7 182.1ZM518.4 141.7L515.4 141.9L512.4 142.2L508.4 136.2L504.0 130.5L506.3 130.3L508.5 130.1L513.7 135.7ZM496.4 119.9L495.8 120.0L495.2 120.1L494.5 120.2L493.9 120.2L490.9 118.0L487.7 115.8L484.1 113.9L480.0 112.2L484.8 113.8L489.0 115.7L492.9 117.7ZM536.6 483.1L525.6 483.8L529.0 469.5L540.8 468.8ZM540.8 468.8L529.0 469.5L532.0 454.4L544.4 453.7ZM544.4 453.7L532.0 454.4L534.5 438.7L547.5 438.0ZM547.5 438.0L534.5 438.7L536.5 422.5L550.0 421.8ZM550.0 421.8L536.5 422.5L538.1 405.9L552.0 405.1ZM552.0 405.1L538.1 405.9L539.3 388.8L553.5 388.1ZM553.5 388.1L539.3 388.8L540.1 371.5L554.5 370.8ZM554.5 370.8L540.1 371.5L540.5 354.0L554.9 353.3ZM554.9 353.3L540.5 354.0L540.5 336.4L554.9 335.6ZM554.9 335.6L540.5 336.4L540.1 318.6L554.4 317.9ZM551.8 282.7L538.0 283.4L536.3 265.9L549.7 265.2ZM526.1 354.6L511.7 355.0L511.7 337.4L526.1 336.9ZM569.3 533.8L549.5 535.6L526.7 537.1L499.2 538.1L487.4 537.8L489.0 537.7L490.5 537.7L492.1 537.6L493.6 537.5L503.3 537.8L526.4 537.0L549.0 535.5ZM493.6 537.5L492.1 537.6L490.5 537.7L489.0 537.7L487.4 537.8L486.8 536.5L486.9 534.9L487.2 533.1L487.6 531.1L489.2 531.1L490.8 531.0L492.4 531.0L494.0 530.9L493.3 532.9L492.8 534.7L492.5 536.3ZM494.0 216.6L482.3 216.6L482.2 200.6L493.0 200.5ZM493.0 200.5L482.2 200.6L482.0 185.2L491.9 185.1ZM487.5 143.3L484.4 143.4L481.3 143.4L481.1 137.3L480.9 131.4L483.3 131.4L485.6 131.4L486.6 137.2ZM485.6 131.4L484.4 131.4L483.3 131.4L482.1 131.4L480.9 131.4L480.8 128.7L480.8 126.0L480.7 123.4L480.5 120.9L481.2 120.9L481.9 120.9L482.6 120.8L483.3 120.8L483.9 123.3L484.5 125.9L485.1 128.6ZM482.9 372.9L468.6 372.9L468.5 355.4L482.9 355.4ZM482.9 355.4L468.5 355.4L468.5 337.7L482.9 337.8ZM482.9 337.8L468.5 337.7L468.6 320.0L482.9 320.0ZM376.4 465.5L364.4 464.3L357.7 449.1L370.4 450.3ZM357.8 401.5L343.8 400.2L341.2 383.2L355.4 384.4ZM354.3 314.2L340.0 313.0L342.1 295.3L356.1 296.6ZM356.1 296.6L342.1 295.3L345.2 277.8L358.8 279.1ZM358.8 279.1L345.2 277.8L349.2 260.5L362.4 261.7ZM362.4 261.7L349.2 260.5L354.1 243.5L366.8 244.7ZM366.8 244.7L354.1 243.5L360.1 226.8L372.2 227.9ZM378.5 211.6L367.1 210.5L375.2 194.8L385.7 195.8ZM385.7 195.8L375.2 194.8L384.5 179.7L394.0 180.7ZM394.0 180.7L384.5 179.7L395.0 165.3L403.4 166.2ZM403.4 166.2L395.0 165.3L406.9 151.8L414.0 152.6ZM390.7 533.8L404.0 534.4L412.4 534.3L416.1 533.7L416.5 532.6L417.9 532.8L419.3 532.9L420.7 533.1L422.1 533.3L420.8 534.2L415.7 534.7L405.5 534.6ZM422.1 533.3L420.7 533.1L419.3 532.9L417.9 532.8L416.5 532.6L415.1 531.2L412.7 529.5L409.8 527.5L406.6 525.4L408.4 525.6L410.2 525.8L412.0 526.0L413.8 526.2L416.7 528.3L419.2 530.2L421.2 531.9ZM413.8 526.2L410.2 525.8L406.6 525.4L400.1 520.7L393.6 515.5L397.8 516.0L402.0 516.5L407.9 521.6ZM402.0 516.5L397.8 516.0L393.6 515.5L387.4 510.0L381.4 504.1L386.2 504.6L390.9 505.1L396.4 511.0ZM390.9 505.1L381.4 504.1L370.5 491.4L380.9 492.5ZM380.9 492.5L370.5 491.4L360.8 477.7L372.1 478.8ZM372.1 478.8L360.8 477.7L352.3 463.1L364.4 464.3ZM364.4 464.3L352.3 463.1L345.0 447.9L357.7 449.1ZM357.7 449.1L345.0 447.9L338.9 432.0L352.1 433.3ZM352.1 433.3L338.9 432.0L333.8 415.7L347.5 417.0ZM347.5 417.0L333.8 415.7L329.8 398.9L343.8 400.2ZM343.8 400.2L329.8 398.9L326.9 381.8L341.2 383.2ZM340.0 313.0L325.8 311.6L328.1 294.0L342.1 295.3ZM342.1 295.3L328.1 294.0L331.5 276.5L345.2 277.8ZM345.2 277.8L331.5 276.5L336.0 259.2L349.2 260.5ZM349.2 260.5L336.0 259.2L341.5 242.2L354.1 243.5ZM354.1 243.5L341.5 242.2L348.1 225.5L360.1 226.8ZM360.1 226.8L348.1 225.5L355.9 209.3L367.1 210.5ZM367.1 210.5L355.9 209.3L364.8 193.6L375.2 194.8ZM375.2 194.8L364.8 193.6L375.0 178.6L384.5 179.7ZM384.5 179.7L375.0 178.6L386.7 164.3L395.0 165.3ZM352.3 463.1L340.2 461.9L332.3 446.6L345.0 447.9ZM326.9 381.8L312.7 380.4L310.7 363.0L325.1 364.5ZM325.1 364.5L310.7 363.0L309.9 345.5L324.3 346.9ZM324.3 346.9L309.9 345.5L310.2 327.9L324.5 329.3ZM324.5 329.3L310.2 327.9L311.6 310.2L325.8 311.6ZM348.1 225.5L336.2 224.2L344.7 208.1L355.9 209.3ZM355.9 209.3L344.7 208.1L354.5 192.4L364.8 193.6ZM328.0 460.6L315.9 459.3L306.7 443.9L319.5 445.2ZM319.5 445.2L306.7 443.9L299.0 427.9L312.3 429.3ZM312.3 429.3L299.0 427.9L292.7 411.5L306.4 412.9ZM306.4 412.9L292.7 411.5L287.7 394.6L301.8 396.1ZM301.8 396.1L287.7 394.6L284.1 377.4L298.4 378.9ZM297.4 308.7L283.2 307.2L286.3 289.6L300.2 291.1ZM300.2 291.1L286.3 289.6L290.8 272.2L304.3 273.7ZM304.3 273.7L290.8 272.2L296.6 255.0L309.7 256.4ZM309.7 256.4L296.6 255.0L303.8 238.0L316.3 239.5ZM316.3 239.5L303.8 238.0L312.4 221.5L324.2 222.9ZM324.2 222.9L312.4 221.5L322.5 205.4L333.5 206.8ZM284.1 377.4L269.9 375.9L267.5 358.5L281.9 360.0ZM281.9 360.0L267.5 358.5L266.6 341.0L281.0 342.5ZM281.0 342.5L266.6 341.0L267.1 323.3L281.5 324.8ZM281.5 324.8L267.1 323.3L269.1 305.7L283.2 307.2Z"/>
<path fill="#0032ff" d="M390.7 533.8L381.3 532.2L371.4 530.3L361.5 528.3L351.9 526.1L352.9 526.1L354.0 526.2L355.0 526.3L356.1 526.4L365.0 528.5L374.0 530.5L382.8 532.3ZM356.1 526.4L355.0 526.3L354.0 526.2L352.9 526.1L351.9 526.1L342.5 523.7L333.5 521.2L324.7 518.6L316.3 515.9L317.8 516.1L319.4 516.2L321.0 516.3L322.5 516.4L330.5 519.1L338.8 521.6L347.3 524.1ZM322.5 516.4L319.4 516.2L316.3 515.9L300.2 510.3L285.2 504.3L289.1 504.6L293.0 504.9L307.3 510.8ZM293.0 504.9L289.1 504.6L285.2 504.3L271.2 498.0L258.0 491.5L262.5 491.8L267.0 492.2L279.6 498.7ZM267.0 492.2L258.0 491.5L234.1 477.7L244.2 478.4ZM224.2 463.9L213.2 463.1L195.0 447.8L206.8 448.6ZM206.8 448.6L195.0 447.8L179.5 431.9L192.0 432.8ZM192.0 432.8L179.5 431.9L166.5 415.5L179.6 416.4ZM179.6 416.4L166.5 415.5L156.0 398.7L169.5 399.6ZM169.5 399.6L156.0 398.7L147.8 381.6L161.6 382.5ZM161.6 382.5L147.8 381.6L142.0 364.2L156.1 365.1ZM156.1 365.1L142.0 364.2L138.5 346.6L152.7 347.6ZM152.7 347.6L138.5 346.6L137.3 328.9L151.6 329.9ZM151.6 329.9L137.3 328.9L138.4 311.2L152.7 312.2ZM152.7 312.2L138.4 311.2L141.9 293.6L156.0 294.6ZM156.0 294.6L141.9 293.6L147.7 276.1L161.6 277.1ZM161.6 277.1L147.7 276.1L155.8 258.8L169.4 259.7ZM169.4 259.7L155.8 258.8L166.3 241.7L179.4 242.7ZM179.4 242.7L166.3 241.7L179.2 225.0L191.8 226.0ZM191.8 226.0L179.2 225.0L194.6 208.8L206.6 209.7ZM206.6 209.7L194.6 208.8L212.7 193.1L223.8 194.0ZM223.8 194.0L212.7 193.1L233.4 178.0L243.7 178.9ZM292.2 151.0L284.2 150.2L315.1 137.7L321.7 138.5ZM355.8 127.3L353.4 126.9L350.9 126.5L371.2 121.5L393.6 117.1L394.9 117.4L396.1 117.8L375.0 122.3ZM396.1 117.8L395.5 117.6L394.9 117.4L394.2 117.2L393.6 117.1L405.7 115.1L418.4 113.2L431.8 111.7L445.3 110.5L445.0 110.7L444.7 110.8L444.5 111.0L444.3 111.1L431.8 112.3L419.4 113.9L407.5 115.7ZM444.3 111.1L444.5 111.0L444.7 110.8L445.0 110.7L445.3 110.5L457.6 109.9L467.2 110.0L474.3 110.9L480.0 112.2L473.7 111.0L465.9 110.4L456.0 110.4ZM89.6 396.1L76.6 396.0L65.9 378.7L79.3 378.8ZM79.3 378.8L65.9 378.7L58.1 361.3L72.0 361.4ZM72.0 361.4L58.1 361.3L53.3 343.7L67.4 343.8ZM99.3 238.9L85.6 238.7L101.4 222.1L114.7 222.2ZM114.7 222.2L101.4 222.1L120.3 205.9L133.1 206.0ZM322.1 124.3L318.6 124.2L314.9 124.2L340.7 119.3L369.9 114.8L372.8 114.8L375.5 114.9L347.2 119.4ZM375.5 114.9L374.2 114.9L372.8 114.8L371.4 114.8L369.9 114.8L386.1 112.8L404.1 111.0L424.7 109.4L450.4 108.0L451.4 108.1L452.1 108.1L452.4 108.1L452.5 108.2L428.7 109.5L408.8 111.1L391.4 112.9ZM452.5 108.2L452.4 108.1L452.1 108.1L451.4 108.1L450.4 108.0L478.8 107.7L479.5 108.9L479.8 110.4L480.0 112.2L478.8 110.4L477.1 108.9L473.3 107.9ZM776.1 384.3L762.1 385.5L767.1 368.2L781.3 366.9ZM781.3 366.9L767.1 368.2L770.1 350.7L784.4 349.4ZM776.2 278.9L762.4 280.2L755.5 262.8L769.0 261.6ZM755.2 402.5L741.5 403.8L748.1 386.8L762.1 385.5ZM770.1 350.7L755.7 352.0L756.7 334.4L771.1 333.0ZM771.1 333.0L756.7 334.4L755.8 316.7L770.1 315.4ZM741.5 403.8L727.8 405.1L734.1 388.2L748.1 386.8ZM719.7 421.8L706.4 423.1L714.1 406.5L727.8 405.1ZM727.8 405.1L714.1 406.5L720.1 389.6L734.1 388.2ZM734.1 388.2L720.1 389.6L724.4 372.3L738.6 370.9ZM738.6 370.9L724.4 372.3L727.0 354.9L741.4 353.4ZM741.4 353.4L727.0 354.9L728.0 337.3L742.3 335.8ZM742.3 335.8L728.0 337.3L727.2 319.6L741.5 318.1ZM724.9 302.0L710.7 303.5L707.0 286.0L720.8 284.4ZM715.1 267.1L701.6 268.6L694.7 251.4L707.7 249.9ZM661.0 470.9L649.6 472.2L661.2 457.4L673.4 456.1ZM673.4 456.1L661.2 457.4L671.3 441.9L684.1 440.6ZM684.1 440.6L671.3 441.9L679.7 425.9L693.0 424.5ZM693.0 424.5L679.7 425.9L686.6 409.4L700.3 408.0ZM700.3 408.0L686.6 409.4L692.0 392.5L706.0 391.0ZM712.6 356.4L698.2 357.9L699.2 340.3L713.6 338.8ZM713.6 338.8L699.2 340.3L698.6 322.7L712.9 321.2ZM679.7 425.9L666.4 427.3L672.8 410.9L686.6 409.4ZM658.4 443.3L645.6 444.7L653.0 428.8L666.4 427.3ZM666.4 427.3L653.0 428.8L659.1 412.3L672.8 410.9ZM672.8 410.9L659.1 412.3L663.8 395.5L677.9 394.0ZM677.9 394.0L663.8 395.5L667.3 378.3L681.6 376.8ZM681.6 376.8L667.3 378.3L669.5 361.0L683.8 359.4ZM683.8 359.4L669.5 361.0L670.3 343.4L684.8 341.9ZM684.8 341.9L670.3 343.4L669.9 325.8L684.3 324.2ZM684.3 324.2L669.9 325.8L668.3 308.1L682.4 306.6ZM621.8 399.7L607.8 401.0L610.3 383.9L624.5 382.6ZM624.5 382.6L610.3 383.9L611.9 366.6L626.3 365.3ZM585.5 245.3L572.8 246.4L568.4 229.6L580.6 228.6ZM536.4 518.7L532.3 519.1L528.3 519.5L532.0 514.0L535.5 508.3L540.1 507.9L544.7 507.5L540.7 513.3ZM558.7 481.5L547.6 482.4L552.6 468.0L564.5 467.1ZM577.1 420.0L563.5 421.0L565.9 404.3L579.8 403.3ZM579.8 403.3L565.9 404.3L567.7 387.2L581.9 386.3ZM581.9 386.3L567.7 387.2L568.8 369.9L583.2 368.9ZM583.2 368.9L568.8 369.9L569.4 352.4L583.8 351.4ZM576.4 263.5L563.0 264.4L559.9 247.3L572.8 246.4ZM534.3 153.8L530.7 154.2L527.0 154.5L522.8 148.0L518.4 141.7L521.4 141.4L524.4 141.1L529.6 147.3ZM546.8 198.2L536.1 198.9L531.3 183.5L541.0 182.9ZM541.0 182.9L531.3 183.5L525.8 168.9L534.4 168.3ZM534.4 168.3L525.8 168.9L519.5 155.1L527.0 154.5ZM508.5 130.1L507.4 130.2L506.3 130.3L505.1 130.4L504.0 130.5L501.7 127.7L499.3 125.1L496.7 122.6L493.9 120.2L494.5 120.2L495.2 120.1L495.8 120.0L496.4 119.9L499.7 122.3L502.8 124.8L505.7 127.4ZM526.4 509.0L517.3 509.6L521.7 497.2L531.8 496.6ZM531.8 496.6L521.7 497.2L525.6 483.8L536.6 483.1ZM489.2 521.7L485.3 521.8L481.5 521.8L481.6 516.4L481.8 510.7L486.2 510.7L490.6 510.6L489.9 516.3ZM493.0 484.9L482.2 485.0L482.3 470.7L494.0 470.6ZM494.0 470.6L482.3 470.7L482.5 455.7L494.8 455.6ZM494.8 455.6L482.5 455.7L482.6 440.1L495.5 440.0ZM495.5 440.0L482.6 440.1L482.7 423.9L496.1 423.8ZM496.6 407.1L482.8 407.3L482.8 390.2L496.9 390.1ZM496.9 390.1L482.8 390.2L482.9 372.9L497.2 372.8ZM497.2 372.8L482.9 372.9L482.9 355.4L497.3 355.3ZM497.3 355.3L482.9 355.4L482.9 337.8L497.3 337.6ZM497.3 337.6L482.9 337.8L482.9 320.0L497.2 319.9ZM497.2 319.9L482.9 320.0L482.8 302.3L496.9 302.2ZM496.9 302.2L482.8 302.3L482.8 284.7L496.6 284.6ZM496.6 284.6L482.8 284.7L482.7 267.3L496.1 267.2ZM496.1 267.2L482.7 267.3L482.6 250.0L495.5 249.9ZM495.5 249.9L482.6 250.0L482.5 233.1L494.8 233.0ZM353.1 349.6L338.7 348.3L338.9 330.6L353.3 331.9ZM295.4 344.0L281.0 342.5L281.5 324.8L295.8 326.4ZM295.8 326.4L281.5 324.8L283.2 307.2L297.4 308.7Z"/>
<path fill="#0019ff" d="M244.2 478.4L234.1 477.7L213.2 463.1L224.2 463.9ZM243.7 178.9L233.4 178.0L257.2 163.6L266.4 164.5ZM179.2 225.0L166.6 224.2L182.6 208.0L194.6 208.8ZM284.2 150.2L276.0 149.4L308.4 137.0L315.1 137.7ZM315.1 137.7L311.8 137.4L308.4 137.0L326.4 131.3L345.9 125.9L348.5 126.2L350.9 126.5L332.3 132.0ZM350.9 126.5L348.5 126.2L345.9 125.9L367.2 120.9L390.9 116.4L392.3 116.7L393.6 117.1L371.2 121.5ZM393.6 117.1L392.9 116.9L392.3 116.7L391.6 116.6L390.9 116.4L403.7 114.4L417.4 112.6L431.9 111.1L446.5 110.0L446.2 110.1L445.8 110.3L445.5 110.4L445.3 110.5L431.8 111.7L418.4 113.2L405.7 115.1ZM445.3 110.5L445.5 110.4L445.8 110.3L446.2 110.1L446.5 110.0L459.5 109.4L468.8 109.7L475.1 110.7L480.0 112.2L474.3 110.9L467.2 110.0L457.6 109.9ZM67.4 343.8L53.3 343.7L51.4 326.0L65.7 326.1ZM65.7 326.1L51.4 326.0L52.4 308.2L66.8 308.4ZM66.8 308.4L52.4 308.2L56.3 290.6L70.7 290.7ZM70.7 290.7L56.3 290.6L63.1 273.1L77.4 273.2ZM77.4 273.2L63.1 273.1L72.9 255.8L86.9 255.9ZM86.9 255.9L72.9 255.8L85.6 238.7L99.3 238.9ZM759.4 418.1L746.2 419.2L755.2 402.5L768.8 401.3ZM768.8 401.3L755.2 402.5L762.1 385.5L776.1 384.3ZM784.4 349.4L770.1 350.7L771.1 333.0L785.4 331.8ZM785.4 331.8L771.1 333.0L770.1 315.4L784.4 314.1ZM784.4 314.1L770.1 315.4L767.2 297.7L781.3 296.4ZM781.3 296.4L767.2 297.7L762.4 280.2L776.2 278.9ZM685.6 454.8L673.4 456.1L684.1 440.6L696.9 439.2ZM720.1 389.6L706.0 391.0L710.1 373.8L724.4 372.3ZM724.4 372.3L710.1 373.8L712.6 356.4L727.0 354.9ZM727.0 354.9L712.6 356.4L713.6 338.8L728.0 337.3ZM728.0 337.3L713.6 338.8L712.9 321.2L727.2 319.6ZM727.2 319.6L712.9 321.2L710.7 303.5L724.9 302.0ZM720.8 284.4L707.0 286.0L701.6 268.6L715.1 267.1ZM626.3 365.3L611.9 366.6L612.6 349.1L627.1 347.7ZM627.1 347.7L612.6 349.1L612.5 331.4L626.9 330.1ZM626.9 330.1L612.5 331.4L611.4 313.7L625.7 312.4ZM544.7 507.5L535.5 508.3L541.9 495.8L552.2 495.0ZM552.2 495.0L541.9 495.8L547.6 482.4L558.7 481.5ZM564.5 467.1L552.6 468.0L556.9 452.9L569.5 452.0ZM569.5 452.0L556.9 452.9L560.6 437.2L573.7 436.3ZM573.7 436.3L560.6 437.2L563.5 421.0L577.1 420.0ZM583.8 351.4L569.4 352.4L569.3 334.8L583.7 333.8ZM583.7 333.8L569.3 334.8L568.6 317.1L582.9 316.1ZM582.9 316.1L568.6 317.1L567.4 299.4L581.4 298.4ZM581.4 298.4L567.4 299.4L565.5 281.8L579.2 280.9ZM579.2 280.9L565.5 281.8L563.0 264.4L576.4 263.5ZM568.4 229.6L556.2 230.5L551.9 214.1L563.3 213.2ZM563.3 213.2L551.9 214.1L546.8 198.2L557.4 197.4ZM543.0 167.6L534.4 168.3L527.0 154.5L534.3 153.8ZM512.8 129.6L511.8 129.7L510.7 129.8L509.6 129.9L508.5 130.1L505.7 127.4L502.8 124.8L499.7 122.3L496.4 119.9L497.0 119.9L497.6 119.8L498.2 119.7L498.8 119.6L502.6 121.9L506.2 124.4L509.6 126.9ZM520.7 528.9L517.2 529.3L513.8 529.6L517.1 525.1L520.3 520.1L524.3 519.8L528.3 519.5L524.5 524.5ZM528.3 519.5L524.3 519.8L520.3 520.1L523.4 514.7L526.4 509.0L530.9 508.6L535.5 508.3L532.0 514.0Z"/>
<path fill="#0000ff" d="M390.7 533.8L379.8 532.1L368.9 530.2L358.2 528.0L347.9 525.8L348.8 525.8L349.8 525.9L350.9 526.0L351.9 526.1L361.5 528.3L371.4 530.3L381.3 532.2ZM351.9 526.1L350.9 526.0L349.8 525.9L348.8 525.8L347.9 525.8L337.9 523.4L328.3 520.9L319.1 518.3L310.2 515.5L311.7 515.6L313.2 515.7L314.7 515.8L316.3 515.9L324.7 518.6L333.5 521.2L342.5 523.7ZM316.3 515.9L313.2 515.7L310.2 515.5L293.4 509.8L277.6 503.8L281.4 504.1L285.2 504.3L300.2 510.3ZM285.2 504.3L281.4 504.1L277.6 503.8L262.9 497.5L249.1 490.9L253.5 491.2L258.0 491.5L271.2 498.0ZM258.0 491.5L249.1 490.9L224.1 477.1L234.1 477.7ZM234.1 477.7L224.1 477.1L202.3 462.5L213.2 463.1ZM213.2 463.1L202.3 462.5L183.4 447.1L195.0 447.8ZM195.0 447.8L183.4 447.1L167.1 431.2L179.5 431.9ZM179.5 431.9L167.1 431.2L153.6 414.8L166.5 415.5ZM166.5 415.5L153.6 414.8L142.5 397.9L156.0 398.7ZM156.0 398.7L142.5 397.9L134.0 380.8L147.8 381.6ZM147.8 381.6L134.0 380.8L127.9 363.3L142.0 364.2ZM142.0 364.2L127.9 363.3L124.2 345.8L138.5 346.6ZM138.5 346.6L124.2 345.8L123.0 328.1L137.3 328.9ZM137.3 328.9L123.0 328.1L124.1 310.4L138.4 311.2ZM138.4 311.2L124.1 310.4L127.7 292.7L141.9 293.6ZM141.9 293.6L127.7 292.7L133.7 275.2L147.7 276.1ZM147.7 276.1L133.7 275.2L142.2 257.9L155.8 258.8ZM155.8 258.8L142.2 257.9L153.1 240.9L166.3 241.7ZM166.3 241.7L153.1 240.9L166.6 224.2L179.2 225.0ZM194.6 208.8L182.6 208.0L201.4 192.3L212.7 193.1ZM212.7 193.1L201.4 192.3L223.0 177.2L233.4 178.0ZM257.2 163.6L247.8 162.9L276.0 149.4L284.2 150.2ZM696.9 439.2L684.1 440.6L693.0 424.5L706.4 423.1ZM706.4 423.1L693.0 424.5L700.3 408.0L714.1 406.5ZM714.1 406.5L700.3 408.0L706.0 391.0L720.1 389.6ZM572.8 246.4L559.9 247.3L556.2 230.5L568.4 229.6ZM535.5 508.3L526.4 509.0L531.8 496.6L541.9 495.8ZM541.9 495.8L531.8 496.6L536.6 483.1L547.6 482.4ZM547.6 482.4L536.6 483.1L540.8 468.8L552.6 468.0ZM552.6 468.0L540.8 468.8L544.4 453.7L556.9 452.9ZM556.9 452.9L544.4 453.7L547.5 438.0L560.6 437.2ZM560.6 437.2L547.5 438.0L550.0 421.8L563.5 421.0ZM563.5 421.0L550.0 421.8L552.0 405.1L565.9 404.3ZM565.9 404.3L552.0 405.1L553.5 388.1L567.7 387.2ZM567.7 387.2L553.5 388.1L554.5 370.8L568.8 369.9ZM568.8 369.9L554.5 370.8L554.9 353.3L569.4 352.4ZM569.4 352.4L554.9 353.3L554.9 335.6L569.3 334.8ZM569.3 334.8L554.9 335.6L554.4 317.9L568.6 317.1ZM568.6 317.1L554.4 317.9L553.3 300.2L567.4 299.4ZM567.4 299.4L553.3 300.2L551.8 282.7L565.5 281.8ZM565.5 281.8L551.8 282.7L549.7 265.2L563.0 264.4ZM563.0 264.4L549.7 265.2L547.1 248.1L559.9 247.3ZM559.9 247.3L547.1 248.1L544.0 231.2L556.2 230.5ZM556.2 230.5L544.0 231.2L540.3 214.8L551.9 214.1ZM551.9 214.1L540.3 214.8L536.1 198.9L546.8 198.2Z"/>
<path fill="#aaff00" d="M505.5 118.5L505.0 118.6L504.5 118.7L503.9 118.8L503.4 118.9L498.2 116.9L492.7 115.0L486.6 113.4L480.0 112.2L487.1 113.3L493.7 114.7L499.8 116.5ZM475.1 120.8L474.4 120.8L473.7 120.7L473.1 120.7L472.4 120.7L474.0 118.3L475.8 116.1L477.7 114.0L480.0 112.2L478.5 114.1L477.3 116.2L476.1 118.4ZM390.7 533.8L411.0 535.4L432.0 536.6L449.3 537.2L456.6 536.8L458.1 536.9L459.6 537.0L461.2 537.1L462.7 537.2L454.0 537.6L433.3 536.8L411.1 535.5ZM472.4 120.7L471.7 120.6L471.1 120.6L470.4 120.6L469.7 120.5L471.9 118.2L474.3 116.0L477.0 114.0L480.0 112.2L477.7 114.0L475.8 116.1L474.0 118.3ZM390.7 533.8L410.7 535.3L430.1 536.4L444.6 536.7L450.7 536.2L452.2 536.4L453.6 536.5L455.1 536.6L456.6 536.8L449.3 537.2L432.0 536.6L411.0 535.4ZM469.7 120.5L469.1 120.5L468.4 120.4L467.8 120.4L467.1 120.3L469.9 118.0L472.9 115.9L476.2 113.9L480.0 112.2L477.0 114.0L474.3 116.0L471.9 118.2ZM390.7 533.8L410.1 535.2L427.7 536.1L439.8 536.3L444.9 535.7L446.3 535.8L447.8 536.0L449.2 536.1L450.7 536.2L444.6 536.7L430.1 536.4L410.7 535.3Z"/>
<path fill="#ffaa00" d="M503.4 118.9L502.9 119.0L502.3 119.1L501.7 119.2L501.2 119.3L496.5 117.2L491.5 115.3L486.1 113.6L480.0 112.2L486.6 113.4L492.7 115.0L498.2 116.9ZM498.8 119.6L498.2 119.7L497.6 119.8L497.0 119.9L496.4 119.9L492.9 117.7L489.0 115.7L484.8 113.8L480.0 112.2L485.5 113.7L490.3 115.5L494.8 117.5Z"/>
<path fill="#ff5500" d="M501.2 119.3L500.6 119.4L500.0 119.5L499.4 119.5L498.8 119.6L494.8 117.5L490.3 115.5L485.5 113.7L480.0 112.2L486.1 113.6L491.5 115.3L496.5 117.2Z"/>
<rect x="479" y="108" width="3" height="1" fill="#00ff96"/>
<rect x="480" y="109" width="1" height="1" fill="#00ff96"/>
<rect x="480" y="110" width="1" height="1" fill="#00ff96"/>
<rect x="397" y="534" width="1" height="1" fill="#00ff64"/>
<rect x="408" y="535" width="1" height="1" fill="#00ff64"/>
<rect x="421" y="536" width="2" height="1" fill="#00ff64"/>
<rect x="538" y="536" width="1" height="1" fill="#00ff64"/>
<rect x="438" y="537" width="3" height="1" fill="#00ff64"/>
<rect x="521" y="537" width="1" height="1" fill="#00ff64"/>
</g>
<g fill="none" stroke="#108040" stroke-width="1.2" stroke-dasharray="1 3" clip-path="url(#el)">
<path d="M306.8 484.3L305.9 484.2L305.0 484.1L304.2 484.0L303.3 484.0L302.4 483.9L301.5 483.8L300.6 483.7L299.7 483.6L298.9 483.5L298.0 483.4L297.1 483.3L296.2 483.2L295.3 483.1L294.4 483.0L293.6 482.9L292.7 482.8L291.8 482.8L290.9 482.7L290.0 482.6L289.2 482.5L288.3 482.4L287.4 482.3L286.5 482.2L285.7 482.1L284.8 482.0L283.9 482.0L283.0 481.9L282.1 481.8L281.3 481.7L280.4 481.6L279.5 481.5L278.6 481.4L277.8 481.3L276.9 481.3L276.0 481.2L275.1 481.1L274.3 481.0L273.4 480.9L272.5 480.9L271.7 480.8L270.8 480.7L269.9 480.6L269.1 480.5L268.2 480.4L267.3 480.4L266.5 480.3L265.6 480.2L264.7 480.1L263.9 480.1L263.0 480.0L262.1 479.9L261.3 479.8L260.4 479.8L259.5 479.7L258.7 479.6L257.8 479.5L257.0 479.5L256.1 479.4L255.3 479.3L254.4 479.2L253.5 479.2L252.7 479.1L251.8 479.0L251.0 479.0L250.1 478.9L249.3 478.8L248.4 478.8L247.6 478.7L246.7 478.6L245.9 478.6L245.0 478.5L244.2 478.4L243.3 478.4L242.5 478.3L241.6 478.3L240.8 478.2L240.0 478.1L239.1 478.1L238.3 478.0L237.4 478.0L236.6 477.9L235.8 477.8L234.9 477.8L234.1 477.7L233.3 477.7L232.4 477.6L231.6 477.6L230.8 477.5L229.9 477.5L229.1 477.4L228.3 477.3L227.4 477.3L226.6 477.2L225.8 477.2L225.0 477.1L224.1 477.1L223.3 477.1L222.5 477.0L221.7 477.0L220.9 476.9L220.0 476.9L219.2 476.8L218.4 476.8L217.6 476.7L216.8 476.7L216.0 476.7L215.2 476.6L214.3 476.6L213.5 476.5L212.7 476.5L211.9 476.5L211.1 476.4L210.3 476.4L209.5 476.4L208.7 476.3L207.9 476.3L207.1 476.3L206.3 476.2L205.5 476.2L204.7 476.2L203.9 476.1L203.1 476.1L202.4 476.1L201.6 476.1L200.8 476.0L200.0 476.0L199.2 476.0L198.4 475.9L197.6 475.9L196.9 475.9L196.1 475.9L195.3 475.9L194.5 475.8L193.7 475.8L193.0 475.8L192.2 475.8L191.4 475.8L190.7 475.7L189.9 475.7L189.1 475.7L188.4 475.7L187.6 475.7L186.8 475.7L186.1 475.7L185.3 475.7L184.6 475.6L183.8 475.6L183.0 475.6L182.3 475.6L181.5 475.6L180.8 475.6L180.0 475.6L179.3 475.6L178.5 475.6L177.8 475.6L177.1 475.6L176.3 475.6L175.6 475.6M784.3 475.6L783.5 475.6L782.8 475.6L782.0 475.6L781.3 475.6L780.6 475.6L779.8 475.6L779.1 475.6L778.3 475.6L777.6 475.6L776.8 475.6L776.0 475.6L775.3 475.6L774.5 475.7L773.8 475.7L773.0 475.7L772.2 475.7L771.5 475.7L770.7 475.7L770.0 475.7L769.2 475.8L768.4 475.8L767.6 475.8L766.9 475.8L766.1 475.8L765.3 475.8L764.5 475.9L763.8 475.9L763.0 475.9L762.2 475.9L761.4 476.0L760.6 476.0L759.9 476.0L759.1 476.0L758.3 476.1L757.5 476.1L756.7 476.1L755.9 476.1L755.1 476.2L754.3 476.2L753.5 476.2L752.7 476.3L751.9 476.3L751.1 476.3L750.3 476.4L749.5 476.4L748.7 476.4L747.9 476.5L747.1 476.5L746.3 476.5L745.5 476.6L744.7 476.6L743.9 476.7L743.1 476.7L742.2 476.8L741.4 476.8L740.6 476.8L739.8 476.9L739.0 476.9L738.2 477.0L737.3 477.0L736.5 477.1L735.7 477.1L734.9 477.2L734.0 477.2L733.2 477.3L732.4 477.3L731.6 477.4L730.7 477.4L729.9 477.5L729.1 477.5L728.2 477.6L727.4 477.6L726.6 477.7L725.7 477.7L724.9 477.8L724.1 477.8L723.2 477.9L722.4 478.0L721.6 478.0L720.7 478.1L719.9 478.1L719.0 478.2L718.2 478.3L717.3 478.3L716.5 478.4L715.7 478.5L714.8 478.5L714.0 478.6L713.1 478.6L712.3 478.7L711.4 478.8L710.6 478.8L709.7 478.9L708.9 479.0L708.0 479.1L707.1 479.1L706.3 479.2L705.4 479.3L704.6 479.3L703.7 479.4L702.9 479.5L702.0 479.6L701.1 479.6L700.3 479.7L699.4 479.8L698.6 479.8L697.7 479.9L696.8 480.0L696.0 480.1L695.1 480.2L694.2 480.2L693.4 480.3L692.5 480.4L691.6 480.5L690.8 480.5L689.9 480.6L689.0 480.7L688.2 480.8L687.3 480.9L686.4 481.0L685.5 481.0L684.7 481.1L683.8 481.2L682.9 481.3L682.1 481.4L681.2 481.5L680.3 481.5L679.4 481.6L678.6 481.7L677.7 481.8L676.8 481.9L675.9 482.0L675.1 482.1L674.2 482.1L673.3 482.2L672.4 482.3L671.5 482.4L670.7 482.5L669.8 482.6L668.9 482.7L668.0 482.8L667.1 482.9L666.3 483.0L665.4 483.0L664.5 483.1L663.6 483.2L662.7 483.3L661.8 483.4L661.0 483.5L660.1 483.6L659.2 483.7L658.3 483.8L657.4 483.9L656.5 484.0L655.7 484.1L654.8 484.2L653.9 484.3L653.0 484.4L652.1 484.4L651.2 484.5L650.3 484.6L649.5 484.7L648.6 484.8L647.7 484.9L646.8 485.0L645.9 485.1L645.0 485.2L644.1 485.3L643.3 485.4L642.4 485.5L641.5 485.6L640.6 485.7L639.7 485.8L638.8 485.9L637.9 486.0L637.1 486.1L636.2 486.2L635.3 486.3L634.4 486.4L633.5 486.5L632.6 486.6L631.7 486.7L630.8 486.8L630.0 486.9L629.1 487.0L628.2 487.1L627.3 487.2L626.4 487.3L625.5 487.4L624.6 487.5L623.8 487.6L622.9 487.7L622.0 487.8L621.1 487.9L620.2 488.0L619.3 488.1L618.4 488.2L617.6 488.3L616.7 488.4L615.8 488.5L614.9 488.6L614.0 488.7L613.1 488.8L612.2 488.9L611.4 489.0L610.5 489.1L609.6 489.2L608.7 489.3L607.8 489.4L606.9 489.5L606.1 489.6L605.2 489.7L604.3 489.8L603.4 489.8L602.5 489.9L601.7 490.0L600.8 490.1L599.9 490.2L599.0 490.3L598.1 490.4L597.3 490.5L596.4 490.6L595.5 490.7L594.6 490.8L593.7 490.9L592.9 491.0L592.0 491.1L591.1 491.2L590.2 491.3L589.4 491.4L588.5 491.5L587.6 491.6L586.7 491.7L585.9 491.7L585.0 491.8L584.1 491.9L583.2 492.0L582.4 492.1L581.5 492.2L580.6 492.3L579.8 492.4L578.9 492.5L578.0 492.6L577.1 492.6L576.3 492.7L575.4 492.8L574.5 492.9L573.7 493.0L572.8 493.1L571.9 493.2L571.1 493.3L570.2 493.3L569.3 493.4L568.5 493.5L567.6 493.6L566.8 493.7L565.9 493.8L565.0 493.8L564.2 493.9L563.3 494.0L562.4 494.1L561.6 494.2L560.7 494.2L559.9 494.3L559.0 494.4L558.1 494.5L557.3 494.6L556.4 494.6L555.6 494.7L554.7 494.8L553.9 494.9L553.0 494.9L552.2 495.0L551.3 495.1L550.4 495.1L549.6 495.2L548.7 495.3L547.9 495.4L547.0 495.4L546.2 495.5L545.3 495.6L544.5 495.6L543.6 495.7L542.8 495.8L541.9 495.8L541.1 495.9L540.2 496.0L539.4 496.0L538.6 496.1L537.7 496.1L536.9 496.2L536.0 496.3L535.2 496.3L534.3 496.4L533.5 496.4L532.6 496.5L531.8 496.6L531.0 496.6L530.1 496.7L529.3 496.7L528.4 496.8L527.6 496.8L526.8 496.9L525.9 496.9L525.1 497.0L524.2 497.0L523.4 497.1L522.6 497.1L521.7 497.2L520.9 497.2L520.1 497.3L519.2 497.3L518.4 497.4L517.6 497.4L516.7 497.4L515.9 497.5L515.1 497.5L514.2 497.6L513.4 497.6L512.6 497.6L511.7 497.7L510.9 497.7L510.1 497.7L509.2 497.8L508.4 497.8L507.6 497.8L506.8 497.9L505.9 497.9L505.1 497.9L504.3 498.0L503.4 498.0L502.6 498.0L501.8 498.0L501.0 498.1L500.1 498.1L499.3 498.1L498.5 498.1L497.7 498.2L496.8 498.2L496.0 498.2L495.2 498.2L494.3 498.2L493.5 498.2L492.7 498.3L491.9 498.3L491.0 498.3L490.2 498.3L489.4 498.3L488.6 498.3L487.7 498.3L486.9 498.3L486.1 498.4L485.3 498.4L484.5 498.4L483.6 498.4L482.8 498.4L482.0 498.4L481.2 498.4L480.3 498.4L479.5 498.4L478.7 498.4L477.9 498.4L477.0 498.4L476.2 498.4L475.4 498.4L474.6 498.4L473.7 498.4L472.9 498.3L472.1 498.3L471.3 498.3L470.4 498.3L469.6 498.3L468.8 498.3L468.0 498.3L467.1 498.3L466.3 498.2L465.5 498.2L464.7 498.2L463.8 498.2L463.0 498.2L462.2 498.2L461.4 498.1L460.5 498.1L459.7 498.1L458.9 498.1L458.0 498.0L457.2 498.0L456.4 498.0L455.6 498.0L454.7 497.9L453.9 497.9L453.1 497.9L452.2 497.8L451.4 497.8L450.6 497.8L449.8 497.7L448.9 497.7L448.1 497.7L447.3 497.6L446.4 497.6L445.6 497.6L444.8 497.5L443.9 497.5L443.1 497.4L442.3 497.4L441.4 497.3L440.6 497.3L439.8 497.3L438.9 497.2L438.1 497.2L437.3 497.1L436.4 497.1L435.6 497.0L434.7 497.0L433.9 496.9L433.1 496.9L432.2 496.8L431.4 496.8L430.6 496.7L429.7 496.7L428.9 496.6L428.0 496.6L427.2 496.5L426.3 496.4L425.5 496.4L424.7 496.3L423.8 496.3L423.0 496.2L422.1 496.1L421.3 496.1L420.4 496.0L419.6 495.9L418.7 495.9L417.9 495.8L417.0 495.8L416.2 495.7L415.3 495.6L414.5 495.6L413.6 495.5L412.8 495.4L411.9 495.3L411.1 495.3L410.2 495.2L409.4 495.1L408.5 495.1L407.7 495.0L406.8 494.9L406.0 494.8L405.1 494.8L404.3 494.7L403.4 494.6L402.5 494.5L401.7 494.5L400.8 494.4L400.0 494.3L399.1 494.2L398.2 494.1L397.4 494.1L396.5 494.0L395.7 493.9L394.8 493.8L393.9 493.7L393.1 493.7L392.2 493.6L391.3 493.5L390.5 493.4L389.6 493.3L388.8 493.2L387.9 493.2L387.0 493.1L386.2 493.0L385.3 492.9L384.4 492.8L383.5 492.7L382.7 492.6L381.8 492.5L380.9 492.5L380.1 492.4L379.2 492.3L378.3 492.2L377.5 492.1L376.6 492.0L375.7 491.9L374.8 491.8L374.0 491.7L373.1 491.6L372.2 491.5L371.3 491.4L370.5 491.4L369.6 491.3L368.7 491.2L367.8 491.1L367.0 491.0L366.1 490.9L365.2 490.8L364.3 490.7L363.4 490.6L362.6 490.5L361.7 490.4L360.8 490.3L359.9 490.2L359.0 490.1L358.2 490.0L357.3 489.9L356.4 489.8L355.5 489.7L354.6 489.6L353.8 489.5L352.9 489.4L352.0 489.3L351.1 489.2L350.2 489.1L349.3 489.0L348.5 488.9L347.6 488.9L346.7 488.8L345.8 488.7L344.9 488.6L344.0 488.5L343.2 488.4L342.3 488.3L341.4 488.2L340.5 488.1L339.6 488.0L338.7 487.9L337.8 487.8L337.0 487.7L336.1 487.6L335.2 487.5L334.3 487.4L333.4 487.3L332.5 487.2L331.6 487.1L330.8 487.0L329.9 486.9L329.0 486.8L328.1 486.7L327.2 486.6L326.3 486.5L325.4 486.4L324.5 486.3L323.7 486.2L322.8 486.1L321.9 486.0L321.0 485.9L320.1 485.8L319.2 485.7L318.3 485.6L317.4 485.5L316.6 485.4L315.7 485.3L314.8 485.2L313.9 485.1L313.0 485.0L312.1 484.9L311.2 484.8L310.4 484.7L309.5 484.6L308.6 484.5L307.7 484.4L306.8 484.3"/><path d="M251.4 407.1L250.3 407.0L249.1 406.9L248.0 406.7L246.8 406.6L245.7 406.5L244.6 406.4L243.4 406.3L242.3 406.2L241.1 406.0L240.0 405.9L238.8 405.8L237.7 405.7L236.5 405.6L235.4 405.5L234.3 405.3L233.1 405.2L232.0 405.1L230.8 405.0L229.7 404.9L228.5 404.8L227.4 404.7L226.3 404.6L225.1 404.4L224.0 404.3L222.8 404.2L221.7 404.1L220.5 404.0L219.4 403.9L218.3 403.8L217.1 403.7L216.0 403.6L214.8 403.5L213.7 403.3L212.6 403.2L211.4 403.1L210.3 403.0L209.1 402.9L208.0 402.8L206.9 402.7L205.7 402.6L204.6 402.5L203.5 402.4L202.3 402.3L201.2 402.2L200.0 402.1L198.9 402.0L197.8 401.9L196.6 401.8L195.5 401.7L194.4 401.6L193.2 401.5L192.1 401.4L191.0 401.3L189.8 401.2L188.7 401.1L187.6 401.0L186.4 400.9L185.3 400.9L184.2 400.8L183.0 400.7L181.9 400.6L180.8 400.5L179.6 400.4L178.5 400.3L177.4 400.2L176.2 400.1L175.1 400.1L174.0 400.0L172.8 399.9L171.7 399.8L170.6 399.7L169.5 399.6L168.3 399.6L167.2 399.5L166.1 399.4L165.0 399.3L163.8 399.2L162.7 399.2L161.6 399.1L160.5 399.0L159.3 398.9L158.2 398.9L157.1 398.8L156.0 398.7L154.8 398.6L153.7 398.6L152.6 398.5L151.5 398.4L150.4 398.4L149.2 398.3L148.1 398.2L147.0 398.2L145.9 398.1L144.8 398.0L143.6 398.0L142.5 397.9L141.4 397.9L140.3 397.8L139.2 397.7L138.1 397.7L136.9 397.6L135.8 397.6L134.7 397.5L133.6 397.5L132.5 397.4L131.4 397.3L130.3 397.3L129.2 397.2L128.0 397.2L126.9 397.1L125.8 397.1L124.7 397.0L123.6 397.0L122.5 397.0L121.4 396.9L120.3 396.9L119.2 396.8L118.1 396.8L117.0 396.7L115.9 396.7L114.8 396.7L113.7 396.6L112.6 396.6L111.5 396.6L110.4 396.5L109.3 396.5L108.2 396.5L107.1 396.4L106.0 396.4L104.9 396.4L103.8 396.3L102.7 396.3L101.6 396.3L100.5 396.3L99.4 396.2L98.3 396.2L97.2 396.2L96.1 396.2L95.0 396.1L93.9 396.1L92.8 396.1L91.7 396.1L90.7 396.1L89.6 396.1L88.5 396.0L87.4 396.0L86.3 396.0L85.2 396.0L84.1 396.0L83.1 396.0L82.0 396.0L80.9 396.0L79.8 396.0L78.7 396.0L77.6 396.0L76.6 396.0L75.5 395.9L74.4 395.9M885.4 395.9L884.3 395.9L883.2 396.0L882.1 396.0L881.1 396.0L880.0 396.0L878.9 396.0L877.8 396.0L876.7 396.0L875.6 396.0L874.6 396.0L873.5 396.0L872.4 396.0L871.3 396.0L870.2 396.1L869.1 396.1L868.0 396.1L866.9 396.1L865.9 396.1L864.8 396.1L863.7 396.2L862.6 396.2L861.5 396.2L860.4 396.2L859.3 396.3L858.2 396.3L857.1 396.3L856.0 396.3L854.9 396.4L853.8 396.4L852.7 396.4L851.6 396.5L850.5 396.5L849.4 396.5L848.3 396.6L847.2 396.6L846.1 396.6L845.0 396.7L843.9 396.7L842.8 396.8L841.7 396.8L840.6 396.8L839.5 396.9L838.4 396.9L837.3 397.0L836.2 397.0L835.1 397.1L833.9 397.1L832.8 397.2L831.7 397.2L830.6 397.3L829.5 397.3L828.4 397.4L827.3 397.4L826.2 397.5L825.1 397.5L823.9 397.6L822.8 397.6L821.7 397.7L820.6 397.7L819.5 397.8L818.4 397.9L817.3 397.9L816.1 398.0L815.0 398.1L813.9 398.1L812.8 398.2L811.7 398.2L810.5 398.3L809.4 398.4L808.3 398.4L807.2 398.5L806.1 398.6L804.9 398.7L803.8 398.7L802.7 398.8L801.6 398.9L800.4 399.0L799.3 399.0L798.2 399.1L797.1 399.2L795.9 399.3L794.8 399.3L793.7 399.4L792.6 399.5L791.4 399.6L790.3 399.7L789.2 399.7L788.1 399.8L786.9 399.9L785.8 400.0L784.7 400.1L783.5 400.2L782.4 400.2L781.3 400.3L780.1 400.4L779.0 400.5L777.9 400.6L776.8 400.7L775.6 400.8L774.5 400.9L773.4 401.0L772.2 401.1L771.1 401.2L770.0 401.2L768.8 401.3L767.7 401.4L766.5 401.5L765.4 401.6L764.3 401.7L763.1 401.8L762.0 401.9L760.9 402.0L759.7 402.1L758.6 402.2L757.5 402.3L756.3 402.4L755.2 402.5L754.0 402.6L752.9 402.7L751.8 402.8L750.6 402.9L749.5 403.1L748.3 403.2L747.2 403.3L746.1 403.4L744.9 403.5L743.8 403.6L742.6 403.7L741.5 403.8L740.4 403.9L739.2 404.0L738.1 404.1L736.9 404.2L735.8 404.4L734.7 404.5L733.5 404.6L732.4 404.7L731.2 404.8L730.1 404.9L728.9 405.0L727.8 405.1L726.7 405.3L725.5 405.4L724.4 405.5L723.2 405.6L722.1 405.7L720.9 405.8L719.8 405.9L718.7 406.1L717.5 406.2L716.4 406.3L715.2 406.4L714.1 406.5L712.9 406.6L711.8 406.8L710.6 406.9L709.5 407.0L708.4 407.1L707.2 407.2L706.1 407.4L704.9 407.5L703.8 407.6L702.6 407.7L701.5 407.8L700.3 408.0L699.2 408.1L698.0 408.2L696.9 408.3L695.8 408.4L694.6 408.6L693.5 408.7L692.3 408.8L691.2 408.9L690.0 409.0L688.9 409.2L687.7 409.3L686.6 409.4L685.4 409.5L684.3 409.7L683.2 409.8L682.0 409.9L680.9 410.0L679.7 410.1L678.6 410.3L677.4 410.4L676.3 410.5L675.1 410.6L674.0 410.8L672.8 410.9L671.7 411.0L670.6 411.1L669.4 411.2L668.3 411.4L667.1 411.5L666.0 411.6L664.8 411.7L663.7 411.8L662.5 412.0L661.4 412.1L660.2 412.2L659.1 412.3L658.0 412.4L656.8 412.6L655.7 412.7L654.5 412.8L653.4 412.9L652.2 413.0L651.1 413.2L649.9 413.3L648.8 413.4L647.7 413.5L646.5 413.6L645.4 413.8L644.2 413.9L643.1 414.0L641.9 414.1L640.8 414.2L639.7 414.3L638.5 414.5L637.4 414.6L636.2 414.7L635.1 414.8L634.0 414.9L632.8 415.0L631.7 415.1L630.5 415.3L629.4 415.4L628.2 415.5L627.1 415.6L626.0 415.7L624.8 415.8L623.7 415.9L622.5 416.0L621.4 416.2L620.3 416.3L619.1 416.4L618.0 416.5L616.8 416.6L615.7 416.7L614.6 416.8L613.4 416.9L612.3 417.0L611.2 417.1L610.0 417.2L608.9 417.3L607.7 417.4L606.6 417.5L605.5 417.6L604.3 417.7L603.2 417.8L602.1 417.9L600.9 418.0L599.8 418.1L598.6 418.2L597.5 418.3L596.4 418.4L595.2 418.5L594.1 418.6L593.0 418.7L591.8 418.8L590.7 418.9L589.6 419.0L588.4 419.1L587.3 419.2L586.2 419.3L585.0 419.4L583.9 419.5L582.8 419.6L581.6 419.7L580.5 419.7L579.4 419.8L578.2 419.9L577.1 420.0L576.0 420.1L574.8 420.2L573.7 420.3L572.6 420.3L571.5 420.4L570.3 420.5L569.2 420.6L568.1 420.7L566.9 420.7L565.8 420.8L564.7 420.9L563.5 421.0L562.4 421.0L561.3 421.1L560.2 421.2L559.0 421.3L557.9 421.3L556.8 421.4L555.7 421.5L554.5 421.5L553.4 421.6L552.3 421.7L551.1 421.7L550.0 421.8L548.9 421.9L547.8 421.9L546.6 422.0L545.5 422.1L544.4 422.1L543.3 422.2L542.1 422.2L541.0 422.3L539.9 422.4L538.8 422.4L537.6 422.5L536.5 422.5L535.4 422.6L534.3 422.6L533.1 422.7L532.0 422.7L530.9 422.8L529.8 422.8L528.6 422.9L527.5 422.9L526.4 423.0L525.3 423.0L524.2 423.1L523.0 423.1L521.9 423.1L520.8 423.2L519.7 423.2L518.5 423.3L517.4 423.3L516.3 423.3L515.2 423.4L514.1 423.4L512.9 423.4L511.8 423.5L510.7 423.5L509.6 423.5L508.5 423.5L507.3 423.6L506.2 423.6L505.1 423.6L504.0 423.6L502.8 423.7L501.7 423.7L500.6 423.7L499.5 423.7L498.4 423.8L497.2 423.8L496.1 423.8L495.0 423.8L493.9 423.8L492.8 423.8L491.6 423.8L490.5 423.8L489.4 423.9L488.3 423.9L487.2 423.9L486.0 423.9L484.9 423.9L483.8 423.9L482.7 423.9L481.6 423.9L480.4 423.9L479.3 423.9L478.2 423.9L477.1 423.9L476.0 423.9L474.8 423.9L473.7 423.9L472.6 423.9L471.5 423.9L470.4 423.9L469.3 423.8L468.1 423.8L467.0 423.8L465.9 423.8L464.8 423.8L463.7 423.8L462.5 423.8L461.4 423.7L460.3 423.7L459.2 423.7L458.0 423.7L456.9 423.7L455.8 423.6L454.7 423.6L453.6 423.6L452.4 423.6L451.3 423.5L450.2 423.5L449.1 423.5L448.0 423.5L446.8 423.4L445.7 423.4L444.6 423.4L443.5 423.3L442.4 423.3L441.2 423.2L440.1 423.2L439.0 423.2L437.9 423.1L436.7 423.1L435.6 423.0L434.5 423.0L433.4 423.0L432.3 422.9L431.1 422.9L430.0 422.8L428.9 422.8L427.8 422.7L426.6 422.7L425.5 422.6L424.4 422.6L423.3 422.5L422.1 422.5L421.0 422.4L419.9 422.3L418.8 422.3L417.6 422.2L416.5 422.2L415.4 422.1L414.3 422.1L413.1 422.0L412.0 421.9L410.9 421.9L409.8 421.8L408.6 421.7L407.5 421.7L406.4 421.6L405.3 421.5L404.1 421.5L403.0 421.4L401.9 421.3L400.7 421.2L399.6 421.2L398.5 421.1L397.4 421.0L396.2 421.0L395.1 420.9L394.0 420.8L392.8 420.7L391.7 420.6L390.6 420.6L389.4 420.5L388.3 420.4L387.2 420.3L386.1 420.2L384.9 420.2L383.8 420.1L382.7 420.0L381.5 419.9L380.4 419.8L379.3 419.7L378.1 419.6L377.0 419.5L375.9 419.5L374.7 419.4L373.6 419.3L372.5 419.2L371.3 419.1L370.2 419.0L369.1 418.9L367.9 418.8L366.8 418.7L365.7 418.6L364.5 418.5L363.4 418.4L362.3 418.3L361.1 418.2L360.0 418.1L358.9 418.0L357.7 417.9L356.6 417.8L355.4 417.7L354.3 417.6L353.2 417.5L352.0 417.4L350.9 417.3L349.8 417.2L348.6 417.1L347.5 417.0L346.3 416.9L345.2 416.8L344.1 416.7L342.9 416.6L341.8 416.5L340.6 416.3L339.5 416.2L338.4 416.1L337.2 416.0L336.1 415.9L334.9 415.8L333.8 415.7L332.7 415.6L331.5 415.5L330.4 415.3L329.2 415.2L328.1 415.1L327.0 415.0L325.8 414.9L324.7 414.8L323.5 414.7L322.4 414.5L321.3 414.4L320.1 414.3L319.0 414.2L317.8 414.1L316.7 414.0L315.5 413.9L314.4 413.7L313.3 413.6L312.1 413.5L311.0 413.4L309.8 413.3L308.7 413.1L307.5 413.0L306.4 412.9L305.2 412.8L304.1 412.7L303.0 412.5L301.8 412.4L300.7 412.3L299.5 412.2L298.4 412.1L297.2 411.9L296.1 411.8L294.9 411.7L293.8 411.6L292.7 411.5L291.5 411.3L290.4 411.2L289.2 411.1L288.1 411.0L286.9 410.8L285.8 410.7L284.6 410.6L283.5 410.5L282.3 410.4L281.2 410.2L280.1 410.1L278.9 410.0L277.8 409.9L276.6 409.8L275.5 409.6L274.3 409.5L273.2 409.4L272.0 409.3L270.9 409.1L269.7 409.0L268.6 408.9L267.5 408.8L266.3 408.7L265.2 408.5L264.0 408.4L262.9 408.3L261.7 408.2L260.6 408.1L259.4 407.9L258.3 407.8L257.1 407.7L256.0 407.6L254.9 407.5L253.7 407.3L252.6 407.2L251.4 407.1"/><path d="M238.5 320.2L237.3 320.1L236.1 320.0L234.9 319.9L233.7 319.7L232.5 319.6L231.3 319.5L230.1 319.4L228.9 319.2L227.7 319.1L226.6 319.0L225.4 318.9L224.2 318.7L223.0 318.6L221.8 318.5L220.6 318.4L219.4 318.2L218.2 318.1L217.0 318.0L215.8 317.9L214.6 317.8L213.4 317.6L212.3 317.5L211.1 317.4L209.9 317.3L208.7 317.2L207.5 317.0L206.3 316.9L205.1 316.8L203.9 316.7L202.7 316.6L201.5 316.5L200.3 316.3L199.2 316.2L198.0 316.1L196.8 316.0L195.6 315.9L194.4 315.8L193.2 315.7L192.0 315.6L190.8 315.4L189.6 315.3L188.4 315.2L187.3 315.1L186.1 315.0L184.9 314.9L183.7 314.8L182.5 314.7L181.3 314.6L180.1 314.5L178.9 314.4L177.7 314.3L176.5 314.2L175.3 314.1L174.2 314.0L173.0 313.9L171.8 313.8L170.6 313.7L169.4 313.6L168.2 313.5L167.0 313.4L165.8 313.3L164.6 313.2L163.4 313.1L162.3 313.0L161.1 312.9L159.9 312.8L158.7 312.7L157.5 312.6L156.3 312.5L155.1 312.4L153.9 312.3L152.7 312.2L151.5 312.2L150.3 312.1L149.2 312.0L148.0 311.9L146.8 311.8L145.6 311.7L144.4 311.6L143.2 311.6L142.0 311.5L140.8 311.4L139.6 311.3L138.4 311.2L137.2 311.2L136.1 311.1L134.9 311.0L133.7 310.9L132.5 310.9L131.3 310.8L130.1 310.7L128.9 310.6L127.7 310.6L126.5 310.5L125.3 310.4L124.1 310.4L122.9 310.3L121.8 310.2L120.6 310.2L119.4 310.1L118.2 310.1L117.0 310.0L115.8 309.9L114.6 309.9L113.4 309.8L112.2 309.8L111.0 309.7L109.8 309.6L108.6 309.6L107.4 309.5L106.2 309.5L105.1 309.4L103.9 309.4L102.7 309.3L101.5 309.3L100.3 309.2L99.1 309.2L97.9 309.1L96.7 309.1L95.5 309.1L94.3 309.0L93.1 309.0L91.9 308.9L90.7 308.9L89.5 308.9L88.3 308.8L87.1 308.8L85.9 308.8L84.7 308.7L83.5 308.7L82.3 308.7L81.1 308.6L80.0 308.6L78.8 308.6L77.6 308.5L76.4 308.5L75.2 308.5L74.0 308.5L72.8 308.4L71.6 308.4L70.4 308.4L69.2 308.4L68.0 308.4L66.8 308.4L65.6 308.3L64.4 308.3L63.2 308.3L62.0 308.3L60.8 308.3L59.6 308.3L58.4 308.3L57.2 308.3L56.0 308.3L54.8 308.2L53.6 308.2L52.4 308.2L51.2 308.2L50.0 308.2M909.8 308.2L908.6 308.2L907.4 308.2L906.2 308.2L905.0 308.2L903.8 308.3L902.6 308.3L901.4 308.3L900.2 308.3L899.0 308.3L897.8 308.3L896.6 308.3L895.4 308.3L894.2 308.3L893.0 308.4L891.8 308.4L890.6 308.4L889.4 308.4L888.2 308.4L887.0 308.5L885.8 308.5L884.6 308.5L883.4 308.5L882.2 308.5L881.0 308.6L879.8 308.6L878.6 308.6L877.4 308.7L876.2 308.7L875.0 308.7L873.8 308.8L872.6 308.8L871.4 308.8L870.2 308.9L869.0 308.9L867.8 308.9L866.7 309.0L865.5 309.0L864.3 309.1L863.1 309.1L861.9 309.2L860.7 309.2L859.5 309.2L858.3 309.3L857.1 309.3L855.9 309.4L854.7 309.4L853.5 309.5L852.3 309.5L851.1 309.6L849.9 309.7L848.7 309.7L847.5 309.8L846.4 309.8L845.2 309.9L844.0 309.9L842.8 310.0L841.6 310.1L840.4 310.1L839.2 310.2L838.0 310.3L836.8 310.3L835.6 310.4L834.4 310.5L833.2 310.5L832.0 310.6L830.9 310.7L829.7 310.7L828.5 310.8L827.3 310.9L826.1 311.0L824.9 311.0L823.7 311.1L822.5 311.2L821.3 311.3L820.1 311.3L818.9 311.4L817.7 311.5L816.6 311.6L815.4 311.7L814.2 311.7L813.0 311.8L811.8 311.9L810.6 312.0L809.4 312.1L808.2 312.2L807.0 312.3L805.8 312.3L804.7 312.4L803.5 312.5L802.3 312.6L801.1 312.7L799.9 312.8L798.7 312.9L797.5 313.0L796.3 313.1L795.1 313.2L793.9 313.3L792.7 313.4L791.6 313.5L790.4 313.6L789.2 313.7L788.0 313.8L786.8 313.9L785.6 314.0L784.4 314.1L783.2 314.2L782.0 314.3L780.8 314.4L779.7 314.5L778.5 314.6L777.3 314.7L776.1 314.8L774.9 314.9L773.7 315.0L772.5 315.1L771.3 315.2L770.1 315.4L768.9 315.5L767.7 315.6L766.6 315.7L765.4 315.8L764.2 315.9L763.0 316.0L761.8 316.1L760.6 316.3L759.4 316.4L758.2 316.5L757.0 316.6L755.8 316.7L754.7 316.8L753.5 317.0L752.3 317.1L751.1 317.2L749.9 317.3L748.7 317.4L747.5 317.5L746.3 317.7L745.1 317.8L743.9 317.9L742.7 318.0L741.5 318.1L740.4 318.3L739.2 318.4L738.0 318.5L736.8 318.6L735.6 318.8L734.4 318.9L733.2 319.0L732.0 319.1L730.8 319.3L729.6 319.4L728.4 319.5L727.2 319.6L726.1 319.8L724.9 319.9L723.7 320.0L722.5 320.1L721.3 320.3L720.1 320.4L718.9 320.5L717.7 320.6L716.5 320.8L715.3 320.9L714.1 321.0L712.9 321.2L711.7 321.3L710.6 321.4L709.4 321.5L708.2 321.7L707.0 321.8L705.8 321.9L704.6 322.0L703.4 322.2L702.2 322.3L701.0 322.4L699.8 322.6L698.6 322.7L697.4 322.8L696.2 322.9L695.0 323.1L693.8 323.2L692.6 323.3L691.5 323.5L690.3 323.6L689.1 323.7L687.9 323.8L686.7 324.0L685.5 324.1L684.3 324.2L683.1 324.4L681.9 324.5L680.7 324.6L679.5 324.7L678.3 324.9L677.1 325.0L675.9 325.1L674.7 325.3L673.5 325.4L672.3 325.5L671.1 325.6L669.9 325.8L668.7 325.9L667.5 326.0L666.4 326.1L665.2 326.3L664.0 326.4L662.8 326.5L661.6 326.6L660.4 326.8L659.2 326.9L658.0 327.0L656.8 327.1L655.6 327.3L654.4 327.4L653.2 327.5L652.0 327.6L650.8 327.8L649.6 327.9L648.4 328.0L647.2 328.1L646.0 328.2L644.8 328.4L643.6 328.5L642.4 328.6L641.2 328.7L640.0 328.8L638.8 329.0L637.6 329.1L636.4 329.2L635.2 329.3L634.0 329.4L632.8 329.5L631.6 329.7L630.4 329.8L629.2 329.9L628.0 330.0L626.9 330.1L625.7 330.2L624.5 330.3L623.3 330.4L622.1 330.6L620.9 330.7L619.7 330.8L618.5 330.9L617.3 331.0L616.1 331.1L614.9 331.2L613.7 331.3L612.5 331.4L611.3 331.5L610.1 331.6L608.9 331.7L607.7 331.8L606.5 331.9L605.3 332.0L604.1 332.1L602.9 332.2L601.7 332.3L600.5 332.4L599.3 332.5L598.1 332.6L596.9 332.7L595.7 332.8L594.5 332.9L593.3 333.0L592.1 333.1L590.9 333.2L589.7 333.3L588.5 333.4L587.3 333.5L586.1 333.6L584.9 333.7L583.7 333.8L582.5 333.8L581.3 333.9L580.1 334.0L578.9 334.1L577.7 334.2L576.5 334.3L575.3 334.4L574.1 334.4L572.9 334.5L571.7 334.6L570.5 334.7L569.3 334.8L568.1 334.8L566.9 334.9L565.7 335.0L564.5 335.1L563.3 335.1L562.1 335.2L560.9 335.3L559.7 335.4L558.5 335.4L557.3 335.5L556.1 335.6L554.9 335.6L553.7 335.7L552.5 335.8L551.3 335.8L550.1 335.9L548.9 335.9L547.7 336.0L546.5 336.1L545.3 336.1L544.1 336.2L542.9 336.2L541.7 336.3L540.5 336.4L539.3 336.4L538.1 336.5L536.9 336.5L535.7 336.6L534.5 336.6L533.3 336.7L532.1 336.7L530.9 336.8L529.7 336.8L528.5 336.9L527.3 336.9L526.1 336.9L524.9 337.0L523.7 337.0L522.5 337.1L521.3 337.1L520.1 337.1L518.9 337.2L517.7 337.2L516.5 337.2L515.3 337.3L514.1 337.3L512.9 337.3L511.7 337.4L510.5 337.4L509.3 337.4L508.1 337.5L506.9 337.5L505.7 337.5L504.5 337.5L503.3 337.6L502.1 337.6L500.9 337.6L499.7 337.6L498.5 337.6L497.3 337.6L496.1 337.7L494.9 337.7L493.7 337.7L492.5 337.7L491.3 337.7L490.1 337.7L488.9 337.7L487.7 337.7L486.5 337.7L485.3 337.8L484.1 337.8L482.9 337.8L481.7 337.8L480.5 337.8L479.3 337.8L478.1 337.8L476.9 337.8L475.7 337.8L474.5 337.8L473.3 337.7L472.1 337.7L470.9 337.7L469.7 337.7L468.5 337.7L467.3 337.7L466.1 337.7L464.9 337.7L463.7 337.7L462.5 337.6L461.3 337.6L460.1 337.6L458.9 337.6L457.7 337.6L456.5 337.5L455.3 337.5L454.1 337.5L452.9 337.5L451.7 337.5L450.5 337.4L449.3 337.4L448.1 337.4L446.9 337.3L445.7 337.3L444.5 337.3L443.3 337.2L442.1 337.2L440.9 337.2L439.7 337.1L438.5 337.1L437.3 337.1L436.1 337.0L434.9 337.0L433.7 336.9L432.5 336.9L431.3 336.8L430.1 336.8L428.9 336.8L427.7 336.7L426.5 336.7L425.3 336.6L424.1 336.6L422.9 336.5L421.7 336.5L420.5 336.4L419.3 336.3L418.1 336.3L416.9 336.2L415.7 336.2L414.5 336.1L413.3 336.1L412.1 336.0L410.9 335.9L409.7 335.9L408.5 335.8L407.3 335.7L406.1 335.7L404.9 335.6L403.7 335.5L402.5 335.5L401.3 335.4L400.1 335.3L398.9 335.3L397.7 335.2L396.5 335.1L395.3 335.0L394.1 335.0L392.9 334.9L391.7 334.8L390.5 334.7L389.3 334.7L388.1 334.6L386.9 334.5L385.7 334.4L384.5 334.3L383.3 334.3L382.1 334.2L380.9 334.1L379.7 334.0L378.5 333.9L377.3 333.8L376.1 333.7L374.9 333.7L373.7 333.6L372.5 333.5L371.3 333.4L370.1 333.3L368.9 333.2L367.7 333.1L366.5 333.0L365.3 332.9L364.1 332.8L362.9 332.7L361.7 332.6L360.5 332.5L359.3 332.4L358.1 332.3L356.9 332.2L355.7 332.1L354.5 332.0L353.3 331.9L352.1 331.8L350.9 331.7L349.7 331.6L348.5 331.5L347.3 331.4L346.1 331.3L344.9 331.2L343.7 331.1L342.5 331.0L341.3 330.9L340.1 330.8L338.9 330.6L337.7 330.5L336.5 330.4L335.3 330.3L334.1 330.2L332.9 330.1L331.7 330.0L330.5 329.9L329.3 329.7L328.1 329.6L326.9 329.5L325.7 329.4L324.5 329.3L323.3 329.2L322.1 329.0L320.9 328.9L319.7 328.8L318.5 328.7L317.3 328.6L316.1 328.5L314.9 328.3L313.7 328.2L312.6 328.1L311.4 328.0L310.2 327.9L309.0 327.7L307.8 327.6L306.6 327.5L305.4 327.4L304.2 327.2L303.0 327.1L301.8 327.0L300.6 326.9L299.4 326.7L298.2 326.6L297.0 326.5L295.8 326.4L294.6 326.2L293.4 326.1L292.2 326.0L291.0 325.9L289.8 325.7L288.6 325.6L287.4 325.5L286.2 325.4L285.0 325.2L283.8 325.1L282.6 325.0L281.5 324.8L280.3 324.7L279.1 324.6L277.9 324.5L276.7 324.3L275.5 324.2L274.3 324.1L273.1 324.0L271.9 323.8L270.7 323.7L269.5 323.6L268.3 323.4L267.1 323.3L265.9 323.2L264.7 323.1L263.5 322.9L262.3 322.8L261.1 322.7L260.0 322.5L258.8 322.4L257.6 322.3L256.4 322.2L255.2 322.0L254.0 321.9L252.8 321.8L251.6 321.6L250.4 321.5L249.2 321.4L248.0 321.3L246.8 321.1L245.6 321.0L244.4 320.9L243.2 320.7L242.1 320.6L240.9 320.5L239.7 320.4L238.5 320.2"/><path d="M266.4 233.7L265.4 233.6L264.3 233.4L263.3 233.3L262.3 233.2L261.2 233.1L260.2 233.0L259.2 232.8L258.1 232.7L257.1 232.6L256.1 232.5L255.0 232.4L254.0 232.2L253.0 232.1L251.9 232.0L250.9 231.9L249.9 231.8L248.8 231.7L247.8 231.5L246.8 231.4L245.7 231.3L244.7 231.2L243.7 231.1L242.6 231.0L241.6 230.9L240.6 230.7L239.5 230.6L238.5 230.5L237.5 230.4L236.4 230.3L235.4 230.2L234.4 230.1L233.3 230.0L232.3 229.8L231.3 229.7L230.2 229.6L229.2 229.5L228.2 229.4L227.1 229.3L226.1 229.2L225.1 229.1L224.0 229.0L223.0 228.9L221.9 228.8L220.9 228.7L219.9 228.6L218.8 228.5L217.8 228.4L216.8 228.3L215.7 228.2L214.7 228.1L213.7 228.0L212.6 227.9L211.6 227.8L210.5 227.7L209.5 227.6L208.5 227.5L207.4 227.4L206.4 227.3L205.3 227.2L204.3 227.1L203.3 227.0L202.2 226.9L201.2 226.8L200.1 226.7L199.1 226.6L198.1 226.5L197.0 226.4L196.0 226.3L194.9 226.3L193.9 226.2L192.8 226.1L191.8 226.0L190.7 225.9L189.7 225.8L188.7 225.7L187.6 225.7L186.6 225.6L185.5 225.5L184.5 225.4L183.4 225.3L182.4 225.3L181.3 225.2L180.3 225.1L179.2 225.0L178.2 225.0L177.1 224.9L176.1 224.8L175.0 224.7L173.9 224.7L172.9 224.6L171.8 224.5L170.8 224.5L169.7 224.4L168.7 224.3L167.6 224.3L166.6 224.2L165.5 224.1L164.4 224.1L163.4 224.0L162.3 223.9L161.2 223.9L160.2 223.8L159.1 223.8L158.1 223.7L157.0 223.6L155.9 223.6L154.9 223.5L153.8 223.5L152.7 223.4L151.6 223.4L150.6 223.3L149.5 223.3L148.4 223.2L147.4 223.2L146.3 223.1L145.2 223.1L144.1 223.0L143.1 223.0L142.0 222.9L140.9 222.9L139.8 222.9L138.7 222.8L137.7 222.8L136.6 222.7L135.5 222.7L134.4 222.7L133.3 222.6L132.2 222.6L131.2 222.6L130.1 222.5L129.0 222.5L127.9 222.5L126.8 222.5L125.7 222.4L124.6 222.4L123.5 222.4L122.4 222.4L121.3 222.3L120.2 222.3L119.1 222.3L118.0 222.3L116.9 222.2L115.8 222.2L114.7 222.2L113.6 222.2L112.5 222.2L111.4 222.2L110.3 222.2L109.2 222.2L108.1 222.1L107.0 222.1L105.9 222.1L104.7 222.1L103.6 222.1L102.5 222.1L101.4 222.1L100.3 222.1L99.2 222.1M860.6 222.1L859.5 222.1L858.4 222.1L857.3 222.1L856.1 222.1L855.0 222.1L853.9 222.1L852.8 222.1L851.7 222.1L850.6 222.2L849.5 222.2L848.4 222.2L847.3 222.2L846.2 222.2L845.1 222.2L844.0 222.2L842.9 222.3L841.8 222.3L840.7 222.3L839.6 222.3L838.5 222.3L837.4 222.4L836.3 222.4L835.2 222.4L834.1 222.4L833.0 222.5L831.9 222.5L830.8 222.5L829.7 222.5L828.6 222.6L827.5 222.6L826.5 222.6L825.4 222.7L824.3 222.7L823.2 222.8L822.1 222.8L821.0 222.8L820.0 222.9L818.9 222.9L817.8 223.0L816.7 223.0L815.6 223.0L814.6 223.1L813.5 223.1L812.4 223.2L811.4 223.2L810.3 223.3L809.2 223.3L808.1 223.4L807.1 223.4L806.0 223.5L804.9 223.5L803.9 223.6L802.8 223.7L801.7 223.7L800.7 223.8L799.6 223.8L798.5 223.9L797.5 223.9L796.4 224.0L795.4 224.1L794.3 224.1L793.2 224.2L792.2 224.3L791.1 224.3L790.1 224.4L789.0 224.5L787.9 224.5L786.9 224.6L785.8 224.7L784.8 224.8L783.7 224.8L782.7 224.9L781.6 225.0L780.6 225.0L779.5 225.1L778.5 225.2L777.4 225.3L776.4 225.4L775.3 225.4L774.3 225.5L773.2 225.6L772.2 225.7L771.1 225.8L770.1 225.8L769.0 225.9L768.0 226.0L767.0 226.1L765.9 226.2L764.9 226.3L763.8 226.4L762.8 226.5L761.7 226.5L760.7 226.6L759.6 226.7L758.6 226.8L757.6 226.9L756.5 227.0L755.5 227.1L754.4 227.2L753.4 227.3L752.4 227.4L751.3 227.5L750.3 227.6L749.2 227.7L748.2 227.8L747.2 227.9L746.1 228.0L745.1 228.1L744.1 228.2L743.0 228.3L742.0 228.4L741.0 228.5L739.9 228.6L738.9 228.7L737.8 228.8L736.8 228.9L735.8 229.0L734.7 229.1L733.7 229.2L732.7 229.3L731.6 229.4L730.6 229.5L729.6 229.7L728.5 229.8L727.5 229.9L726.5 230.0L725.4 230.1L724.4 230.2L723.4 230.3L722.3 230.4L721.3 230.5L720.3 230.7L719.2 230.8L718.2 230.9L717.2 231.0L716.1 231.1L715.1 231.2L714.1 231.3L713.0 231.5L712.0 231.6L711.0 231.7L709.9 231.8L708.9 231.9L707.9 232.0L706.8 232.1L705.8 232.3L704.8 232.4L703.7 232.5L702.7 232.6L701.7 232.7L700.6 232.9L699.6 233.0L698.5 233.1L697.5 233.2L696.5 233.3L695.4 233.5L694.4 233.6L693.4 233.7L692.3 233.8L691.3 233.9L690.3 234.1L689.2 234.2L688.2 234.3L687.2 234.4L686.1 234.5L685.1 234.7L684.1 234.8L683.0 234.9L682.0 235.0L680.9 235.2L679.9 235.3L678.9 235.4L677.8 235.5L676.8 235.6L675.8 235.8L674.7 235.9L673.7 236.0L672.6 236.1L671.6 236.2L670.6 236.4L669.5 236.5L668.5 236.6L667.5 236.7L666.4 236.9L665.4 237.0L664.3 237.1L663.3 237.2L662.3 237.3L661.2 237.5L660.2 237.6L659.1 237.7L658.1 237.8L657.0 237.9L656.0 238.1L655.0 238.2L653.9 238.3L652.9 238.4L651.8 238.5L650.8 238.7L649.7 238.8L648.7 238.9L647.7 239.0L646.6 239.1L645.6 239.3L644.5 239.4L643.5 239.5L642.4 239.6L641.4 239.7L640.3 239.8L639.3 240.0L638.3 240.1L637.2 240.2L636.2 240.3L635.1 240.4L634.1 240.5L633.0 240.7L632.0 240.8L630.9 240.9L629.9 241.0L628.8 241.1L627.8 241.2L626.7 241.3L625.7 241.4L624.6 241.6L623.6 241.7L622.5 241.8L621.5 241.9L620.4 242.0L619.4 242.1L618.3 242.2L617.3 242.3L616.2 242.4L615.1 242.5L614.1 242.7L613.0 242.8L612.0 242.9L610.9 243.0L609.9 243.1L608.8 243.2L607.8 243.3L606.7 243.4L605.6 243.5L604.6 243.6L603.5 243.7L602.5 243.8L601.4 243.9L600.4 244.0L599.3 244.1L598.2 244.2L597.2 244.3L596.1 244.4L595.1 244.5L594.0 244.6L592.9 244.7L591.9 244.8L590.8 244.9L589.8 245.0L588.7 245.1L587.6 245.1L586.6 245.2L585.5 245.3L584.5 245.4L583.4 245.5L582.3 245.6L581.3 245.7L580.2 245.8L579.1 245.9L578.1 245.9L577.0 246.0L575.9 246.1L574.9 246.2L573.8 246.3L572.8 246.4L571.7 246.4L570.6 246.5L569.6 246.6L568.5 246.7L567.4 246.8L566.4 246.8L565.3 246.9L564.2 247.0L563.2 247.1L562.1 247.1L561.0 247.2L559.9 247.3L558.9 247.4L557.8 247.4L556.7 247.5L555.7 247.6L554.6 247.6L553.5 247.7L552.5 247.8L551.4 247.8L550.3 247.9L549.3 248.0L548.2 248.0L547.1 248.1L546.0 248.1L545.0 248.2L543.9 248.3L542.8 248.3L541.8 248.4L540.7 248.4L539.6 248.5L538.5 248.5L537.5 248.6L536.4 248.7L535.3 248.7L534.2 248.8L533.2 248.8L532.1 248.9L531.0 248.9L529.9 249.0L528.9 249.0L527.8 249.0L526.7 249.1L525.7 249.1L524.6 249.2L523.5 249.2L522.4 249.3L521.4 249.3L520.3 249.3L519.2 249.4L518.1 249.4L517.1 249.4L516.0 249.5L514.9 249.5L513.8 249.5L512.7 249.6L511.7 249.6L510.6 249.6L509.5 249.7L508.4 249.7L507.4 249.7L506.3 249.7L505.2 249.8L504.1 249.8L503.1 249.8L502.0 249.8L500.9 249.9L499.8 249.9L498.7 249.9L497.7 249.9L496.6 249.9L495.5 249.9L494.4 250.0L493.4 250.0L492.3 250.0L491.2 250.0L490.1 250.0L489.1 250.0L488.0 250.0L486.9 250.0L485.8 250.0L484.7 250.0L483.7 250.0L482.6 250.0L481.5 250.1L480.4 250.1L479.4 250.1L478.3 250.1L477.2 250.0L476.1 250.0L475.0 250.0L474.0 250.0L472.9 250.0L471.8 250.0L470.7 250.0L469.7 250.0L468.6 250.0L467.5 250.0L466.4 250.0L465.3 250.0L464.3 249.9L463.2 249.9L462.1 249.9L461.0 249.9L460.0 249.9L458.9 249.9L457.8 249.8L456.7 249.8L455.7 249.8L454.6 249.8L453.5 249.7L452.4 249.7L451.3 249.7L450.3 249.7L449.2 249.6L448.1 249.6L447.0 249.6L446.0 249.5L444.9 249.5L443.8 249.5L442.7 249.4L441.7 249.4L440.6 249.4L439.5 249.3L438.4 249.3L437.4 249.2L436.3 249.2L435.2 249.2L434.1 249.1L433.1 249.1L432.0 249.0L430.9 249.0L429.8 248.9L428.8 248.9L427.7 248.8L426.6 248.8L425.5 248.7L424.5 248.7L423.4 248.6L422.3 248.6L421.3 248.5L420.2 248.5L419.1 248.4L418.0 248.4L417.0 248.3L415.9 248.3L414.8 248.2L413.7 248.1L412.7 248.1L411.6 248.0L410.5 247.9L409.5 247.9L408.4 247.8L407.3 247.8L406.3 247.7L405.2 247.6L404.1 247.6L403.0 247.5L402.0 247.4L400.9 247.3L399.8 247.3L398.8 247.2L397.7 247.1L396.6 247.0L395.6 247.0L394.5 246.9L393.4 246.8L392.4 246.7L391.3 246.7L390.2 246.6L389.2 246.5L388.1 246.4L387.0 246.3L386.0 246.3L384.9 246.2L383.8 246.1L382.8 246.0L381.7 245.9L380.6 245.8L379.6 245.8L378.5 245.7L377.5 245.6L376.4 245.5L375.3 245.4L374.3 245.3L373.2 245.2L372.1 245.1L371.1 245.0L370.0 244.9L369.0 244.8L367.9 244.8L366.8 244.7L365.8 244.6L364.7 244.5L363.7 244.4L362.6 244.3L361.5 244.2L360.5 244.1L359.4 244.0L358.4 243.9L357.3 243.8L356.3 243.7L355.2 243.6L354.1 243.5L353.1 243.4L352.0 243.3L351.0 243.2L349.9 243.1L348.9 242.9L347.8 242.8L346.8 242.7L345.7 242.6L344.6 242.5L343.6 242.4L342.5 242.3L341.5 242.2L340.4 242.1L339.4 242.0L338.3 241.9L337.3 241.8L336.2 241.6L335.2 241.5L334.1 241.4L333.1 241.3L332.0 241.2L331.0 241.1L329.9 241.0L328.9 240.9L327.8 240.7L326.8 240.6L325.7 240.5L324.7 240.4L323.6 240.3L322.6 240.2L321.5 240.1L320.5 239.9L319.4 239.8L318.4 239.7L317.4 239.6L316.3 239.5L315.3 239.4L314.2 239.2L313.2 239.1L312.1 239.0L311.1 238.9L310.0 238.8L309.0 238.6L308.0 238.5L306.9 238.4L305.9 238.3L304.8 238.2L303.8 238.0L302.7 237.9L301.7 237.8L300.7 237.7L299.6 237.6L298.6 237.4L297.5 237.3L296.5 237.2L295.5 237.1L294.4 237.0L293.4 236.8L292.3 236.7L291.3 236.6L290.3 236.5L289.2 236.3L288.2 236.2L287.1 236.1L286.1 236.0L285.1 235.9L284.0 235.7L283.0 235.6L282.0 235.5L280.9 235.4L279.9 235.2L278.8 235.1L277.8 235.0L276.8 234.9L275.7 234.8L274.7 234.6L273.7 234.5L272.6 234.4L271.6 234.3L270.6 234.2L269.5 234.0L268.5 233.9L267.5 233.8L266.4 233.7"/><path d="M338.7 157.4L338.1 157.3L337.4 157.2L336.8 157.1L336.1 157.0L335.5 156.9L334.8 156.8L334.2 156.7L333.5 156.6L332.9 156.5L332.3 156.4L331.6 156.3L331.0 156.2L330.3 156.2L329.7 156.1L329.0 156.0L328.4 155.9L327.8 155.8L327.1 155.7L326.5 155.6L325.8 155.5L325.2 155.4L324.5 155.3L323.9 155.2L323.3 155.1L322.6 155.0L322.0 154.9L321.3 154.8L320.7 154.7L320.1 154.6L319.4 154.5L318.8 154.4L318.1 154.3L317.5 154.3L316.8 154.2L316.2 154.1L315.6 154.0L314.9 153.9L314.3 153.8L313.6 153.7L313.0 153.6L312.3 153.5L311.7 153.4L311.1 153.4L310.4 153.3L309.8 153.2L309.1 153.1L308.5 153.0L307.8 152.9L307.2 152.8L306.5 152.7L305.9 152.7L305.2 152.6L304.6 152.5L304.0 152.4L303.3 152.3L302.7 152.2L302.0 152.2L301.4 152.1L300.7 152.0L300.1 151.9L299.4 151.8L298.8 151.8L298.1 151.7L297.4 151.6L296.8 151.5L296.1 151.4L295.5 151.4L294.8 151.3L294.2 151.2L293.5 151.1L292.9 151.1L292.2 151.0L291.5 150.9L290.9 150.9L290.2 150.8L289.5 150.7L288.9 150.6L288.2 150.6L287.5 150.5L286.9 150.4L286.2 150.4L285.5 150.3L284.9 150.2L284.2 150.2L283.5 150.1L282.9 150.0L282.2 150.0L281.5 149.9L280.8 149.9L280.1 149.8L279.5 149.7L278.8 149.7L278.1 149.6L277.4 149.6L276.7 149.5L276.0 149.4L275.3 149.4L274.7 149.3L274.0 149.3L273.3 149.2L272.6 149.2L271.9 149.1L271.2 149.1L270.5 149.0L269.8 149.0L269.1 148.9L268.4 148.9L267.7 148.8L266.9 148.8L266.2 148.7L265.5 148.7L264.8 148.6L264.1 148.6L263.4 148.6L262.7 148.5L261.9 148.5L261.2 148.4L260.5 148.4L259.8 148.4L259.0 148.3L258.3 148.3L257.6 148.3L256.8 148.2L256.1 148.2L255.3 148.2L254.6 148.1L253.9 148.1L253.1 148.1L252.4 148.0L251.6 148.0L250.9 148.0L250.1 148.0L249.3 147.9L248.6 147.9L247.8 147.9L247.1 147.9L246.3 147.8L245.5 147.8L244.7 147.8L244.0 147.8L243.2 147.8L242.4 147.8L241.6 147.7L240.8 147.7L240.1 147.7L239.3 147.7L238.5 147.7L237.7 147.7L236.9 147.7L236.1 147.7L235.3 147.6L234.5 147.6L233.7 147.6L232.9 147.6L232.0 147.6L231.2 147.6L230.4 147.6L229.6 147.6M730.3 147.6L729.4 147.6L728.6 147.6L727.8 147.6L727.0 147.6L726.2 147.6L725.4 147.6L724.6 147.6L723.8 147.7L723.0 147.7L722.2 147.7L721.4 147.7L720.6 147.7L719.8 147.7L719.0 147.7L718.2 147.7L717.4 147.8L716.7 147.8L715.9 147.8L715.1 147.8L714.3 147.8L713.6 147.8L712.8 147.9L712.0 147.9L711.3 147.9L710.5 147.9L709.7 148.0L709.0 148.0L708.2 148.0L707.5 148.0L706.7 148.1L706.0 148.1L705.2 148.1L704.5 148.2L703.8 148.2L703.0 148.2L702.3 148.3L701.6 148.3L700.8 148.3L700.1 148.4L699.4 148.4L698.6 148.4L697.9 148.5L697.2 148.5L696.5 148.6L695.8 148.6L695.0 148.7L694.3 148.7L693.6 148.7L692.9 148.8L692.2 148.8L691.5 148.9L690.8 148.9L690.1 149.0L689.4 149.0L688.7 149.1L688.0 149.1L687.3 149.2L686.6 149.2L685.9 149.3L685.2 149.3L684.5 149.4L683.8 149.4L683.1 149.5L682.5 149.6L681.8 149.6L681.1 149.7L680.4 149.7L679.7 149.8L679.0 149.9L678.4 149.9L677.7 150.0L677.0 150.1L676.3 150.1L675.7 150.2L675.0 150.2L674.3 150.3L673.7 150.4L673.0 150.4L672.3 150.5L671.7 150.6L671.0 150.7L670.3 150.7L669.7 150.8L669.0 150.9L668.3 150.9L667.7 151.0L667.0 151.1L666.4 151.2L665.7 151.2L665.0 151.3L664.4 151.4L663.7 151.5L663.1 151.5L662.4 151.6L661.8 151.7L661.1 151.8L660.5 151.9L659.8 151.9L659.2 152.0L658.5 152.1L657.9 152.2L657.2 152.3L656.6 152.3L655.9 152.4L655.3 152.5L654.6 152.6L654.0 152.7L653.3 152.8L652.7 152.8L652.0 152.9L651.4 153.0L650.7 153.1L650.1 153.2L649.5 153.3L648.8 153.4L648.2 153.5L647.5 153.5L646.9 153.6L646.2 153.7L645.6 153.8L645.0 153.9L644.3 154.0L643.7 154.1L643.0 154.2L642.4 154.3L641.7 154.4L641.1 154.5L640.5 154.6L639.8 154.6L639.2 154.7L638.5 154.8L637.9 154.9L637.3 155.0L636.6 155.1L636.0 155.2L635.3 155.3L634.7 155.4L634.0 155.5L633.4 155.6L632.8 155.7L632.1 155.8L631.5 155.9L630.8 156.0L630.2 156.1L629.5 156.2L628.9 156.3L628.3 156.4L627.6 156.5L627.0 156.6L626.3 156.7L625.7 156.8L625.0 156.9L624.4 157.0L623.7 157.1L623.1 157.1L622.5 157.2L621.8 157.3L621.2 157.4L620.5 157.5L619.9 157.6L619.2 157.7L618.6 157.8L617.9 157.9L617.3 158.0L616.6 158.1L616.0 158.2L615.3 158.3L614.7 158.4L614.0 158.5L613.4 158.6L612.7 158.7L612.1 158.8L611.4 158.9L610.7 159.0L610.1 159.1L609.4 159.2L608.8 159.3L608.1 159.4L607.5 159.5L606.8 159.6L606.2 159.7L605.5 159.8L604.8 159.9L604.2 160.0L603.5 160.1L602.9 160.2L602.2 160.3L601.5 160.4L600.9 160.5L600.2 160.6L599.6 160.7L598.9 160.8L598.2 160.9L597.6 161.0L596.9 161.1L596.2 161.2L595.6 161.3L594.9 161.4L594.2 161.5L593.6 161.6L592.9 161.7L592.2 161.8L591.5 161.9L590.9 162.0L590.2 162.0L589.5 162.1L588.9 162.2L588.2 162.3L587.5 162.4L586.8 162.5L586.2 162.6L585.5 162.7L584.8 162.8L584.1 162.9L583.5 163.0L582.8 163.1L582.1 163.2L581.4 163.2L580.7 163.3L580.1 163.4L579.4 163.5L578.7 163.6L578.0 163.7L577.3 163.8L576.6 163.9L576.0 164.0L575.3 164.0L574.6 164.1L573.9 164.2L573.2 164.3L572.5 164.4L571.8 164.5L571.1 164.6L570.4 164.7L569.8 164.7L569.1 164.8L568.4 164.9L567.7 165.0L567.0 165.1L566.3 165.1L565.6 165.2L564.9 165.3L564.2 165.4L563.5 165.5L562.8 165.6L562.1 165.6L561.4 165.7L560.7 165.8L560.0 165.9L559.3 165.9L558.6 166.0L557.9 166.1L557.2 166.2L556.5 166.2L555.8 166.3L555.1 166.4L554.4 166.5L553.7 166.5L553.0 166.6L552.3 166.7L551.6 166.8L550.9 166.8L550.2 166.9L549.4 167.0L548.7 167.0L548.0 167.1L547.3 167.2L546.6 167.2L545.9 167.3L545.2 167.4L544.5 167.4L543.8 167.5L543.0 167.6L542.3 167.6L541.6 167.7L540.9 167.7L540.2 167.8L539.5 167.9L538.8 167.9L538.0 168.0L537.3 168.0L536.6 168.1L535.9 168.2L535.2 168.2L534.4 168.3L533.7 168.3L533.0 168.4L532.3 168.4L531.6 168.5L530.8 168.5L530.1 168.6L529.4 168.7L528.7 168.7L527.9 168.8L527.2 168.8L526.5 168.9L525.8 168.9L525.0 168.9L524.3 169.0L523.6 169.0L522.9 169.1L522.1 169.1L521.4 169.2L520.7 169.2L520.0 169.3L519.2 169.3L518.5 169.3L517.8 169.4L517.0 169.4L516.3 169.5L515.6 169.5L514.9 169.5L514.1 169.6L513.4 169.6L512.7 169.6L511.9 169.7L511.2 169.7L510.5 169.7L509.7 169.8L509.0 169.8L508.3 169.8L507.5 169.9L506.8 169.9L506.1 169.9L505.3 169.9L504.6 170.0L503.9 170.0L503.1 170.0L502.4 170.1L501.7 170.1L500.9 170.1L500.2 170.1L499.5 170.1L498.7 170.2L498.0 170.2L497.3 170.2L496.5 170.2L495.8 170.2L495.0 170.3L494.3 170.3L493.6 170.3L492.8 170.3L492.1 170.3L491.4 170.3L490.6 170.3L489.9 170.3L489.1 170.4L488.4 170.4L487.7 170.4L486.9 170.4L486.2 170.4L485.5 170.4L484.7 170.4L484.0 170.4L483.2 170.4L482.5 170.4L481.8 170.4L481.0 170.4L480.3 170.4L479.6 170.4L478.8 170.4L478.1 170.4L477.3 170.4L476.6 170.4L475.9 170.4L475.1 170.4L474.4 170.4L473.7 170.4L472.9 170.4L472.2 170.4L471.4 170.4L470.7 170.4L470.0 170.3L469.2 170.3L468.5 170.3L467.8 170.3L467.0 170.3L466.3 170.3L465.5 170.3L464.8 170.2L464.1 170.2L463.3 170.2L462.6 170.2L461.9 170.2L461.1 170.2L460.4 170.1L459.7 170.1L458.9 170.1L458.2 170.1L457.5 170.0L456.7 170.0L456.0 170.0L455.3 170.0L454.5 169.9L453.8 169.9L453.1 169.9L452.3 169.9L451.6 169.8L450.9 169.8L450.1 169.8L449.4 169.7L448.7 169.7L447.9 169.7L447.2 169.6L446.5 169.6L445.7 169.6L445.0 169.5L444.3 169.5L443.5 169.5L442.8 169.4L442.1 169.4L441.4 169.3L440.6 169.3L439.9 169.2L439.2 169.2L438.4 169.2L437.7 169.1L437.0 169.1L436.3 169.0L435.5 169.0L434.8 168.9L434.1 168.9L433.4 168.8L432.6 168.8L431.9 168.7L431.2 168.7L430.5 168.6L429.7 168.6L429.0 168.5L428.3 168.5L427.6 168.4L426.9 168.4L426.1 168.3L425.4 168.3L424.7 168.2L424.0 168.2L423.3 168.1L422.5 168.0L421.8 168.0L421.1 167.9L420.4 167.9L419.7 167.8L419.0 167.7L418.2 167.7L417.5 167.6L416.8 167.5L416.1 167.5L415.4 167.4L414.7 167.4L414.0 167.3L413.3 167.2L412.5 167.2L411.8 167.1L411.1 167.0L410.4 166.9L409.7 166.9L409.0 166.8L408.3 166.7L407.6 166.7L406.9 166.6L406.2 166.5L405.5 166.4L404.8 166.4L404.1 166.3L403.4 166.2L402.7 166.2L401.9 166.1L401.2 166.0L400.5 165.9L399.8 165.8L399.1 165.8L398.4 165.7L397.7 165.6L397.1 165.5L396.4 165.5L395.7 165.4L395.0 165.3L394.3 165.2L393.6 165.1L392.9 165.0L392.2 165.0L391.5 164.9L390.8 164.8L390.1 164.7L389.4 164.6L388.7 164.5L388.0 164.5L387.3 164.4L386.7 164.3L386.0 164.2L385.3 164.1L384.6 164.0L383.9 163.9L383.2 163.9L382.5 163.8L381.9 163.7L381.2 163.6L380.5 163.5L379.8 163.4L379.1 163.3L378.4 163.2L377.8 163.1L377.1 163.0L376.4 163.0L375.7 162.9L375.1 162.8L374.4 162.7L373.7 162.6L373.0 162.5L372.4 162.4L371.7 162.3L371.0 162.2L370.3 162.1L369.7 162.0L369.0 161.9L368.3 161.8L367.6 161.7L367.0 161.6L366.3 161.6L365.6 161.5L365.0 161.4L364.3 161.3L363.6 161.2L363.0 161.1L362.3 161.0L361.6 160.9L361.0 160.8L360.3 160.7L359.7 160.6L359.0 160.5L358.3 160.4L357.7 160.3L357.0 160.2L356.3 160.1L355.7 160.0L355.0 159.9L354.4 159.8L353.7 159.7L353.1 159.6L352.4 159.5L351.7 159.4L351.1 159.3L350.4 159.2L349.8 159.1L349.1 159.0L348.5 158.9L347.8 158.8L347.2 158.7L346.5 158.6L345.9 158.5L345.2 158.4L344.6 158.3L343.9 158.2L343.3 158.1L342.6 158.0L342.0 157.9L341.3 157.8L340.7 157.7L340.0 157.6L339.4 157.5L338.7 157.4"/><path d="M392.1 533.7L393.0 533.5L393.4 533.2L393.3 532.9L393.0 532.6L392.3 532.2L391.4 531.7L390.3 531.3L389.0 530.8L387.6 530.2L386.1 529.6L384.5 529.1L382.9 528.4L381.2 527.8L379.5 527.1L377.7 526.5L376.0 525.8L374.2 525.0L372.4 524.3L370.6 523.6L368.7 522.8L366.9 522.0L365.1 521.2L363.3 520.4L361.5 519.6L359.8 518.7L358.0 517.9L356.2 517.0L354.5 516.2L352.7 515.3L351.0 514.4L349.3 513.5L347.6 512.6L345.9 511.6L344.2 510.7L342.5 509.7L340.9 508.8L339.3 507.8L337.6 506.8L336.0 505.9L334.5 504.9L332.9 503.9L331.3 502.9L329.8 501.8L328.3 500.8L326.7 499.8L325.2 498.7L323.7 497.7L322.3 496.6L320.8 495.6L319.4 494.5L317.9 493.4L316.5 492.3L315.1 491.2L313.7 490.1L312.4 489.0L311.0 487.9L309.7 486.8L308.3 485.7L307.0 484.5L305.7 483.4L304.4 482.2L303.2 481.1L301.9 479.9L300.7 478.8L299.4 477.6L298.2 476.4L297.0 475.2L295.8 474.0L294.6 472.9L293.5 471.7L292.3 470.4L291.2 469.2L290.0 468.0L288.9 466.8L287.8 465.6L286.7 464.4L285.7 463.1L284.6 461.9L283.5 460.6L282.5 459.4L281.5 458.1L280.5 456.9L279.5 455.6L278.5 454.3L277.5 453.1L276.6 451.8L275.6 450.5L274.7 449.2L273.7 447.9L272.8 446.6L271.9 445.3L271.0 444.0L270.2 442.7L269.3 441.4L268.5 440.1L267.6 438.8L266.8 437.5L266.0 436.1L265.2 434.8L264.4 433.5L263.6 432.2L262.8 430.8L262.1 429.5L261.3 428.1L260.6 426.8L259.9 425.4L259.2 424.1L258.5 422.7L257.8 421.3L257.1 420.0L256.5 418.6L255.8 417.2L255.2 415.9L254.6 414.5L253.9 413.1L253.3 411.7L252.7 410.3L252.2 409.0L251.6 407.6L251.0 406.2L250.5 404.8L250.0 403.4L249.5 402.0L248.9 400.6L248.4 399.2L248.0 397.8L247.5 396.3L247.0 394.9L246.6 393.5L246.1 392.1L245.7 390.7L245.3 389.3L244.9 387.8L244.5 386.4L244.1 385.0L243.7 383.6L243.4 382.1L243.0 380.7L242.7 379.3L242.4 377.8L242.0 376.4L241.7 374.9L241.4 373.5L241.2 372.1L240.9 370.6L240.6 369.2L240.4 367.7L240.2 366.3L239.9 364.8L239.7 363.4L239.5 361.9L239.3 360.5L239.1 359.0L239.0 357.6L238.8 356.1L238.7 354.6L238.5 353.2L238.4 351.7L238.3 350.3L238.2 348.8L238.1 347.4L238.0 345.9L238.0 344.4L237.9 343.0L237.9 341.5L237.8 340.0L237.8 338.6L237.8 337.1L237.8 335.6L237.8 334.2L237.8 332.7L237.9 331.2L237.9 329.8L238.0 328.3L238.0 326.8L238.1 325.4L238.2 323.9L238.3 322.4L238.4 321.0L238.5 319.5L238.7 318.0L238.8 316.6L239.0 315.1L239.1 313.6L239.3 312.2L239.5 310.7L239.7 309.2L239.9 307.8L240.2 306.3L240.4 304.8L240.6 303.4L240.9 301.9L241.2 300.5L241.4 299.0L241.7 297.5L242.0 296.1L242.4 294.6L242.7 293.1L243.0 291.7L243.4 290.2L243.7 288.8L244.1 287.3L244.5 285.9L244.9 284.4L245.3 283.0L245.7 281.5L246.1 280.1L246.6 278.6L247.0 277.2L247.5 275.7L247.9 274.3L248.4 272.8L248.9 271.4L249.4 270.0L250.0 268.5L250.5 267.1L251.0 265.6L251.6 264.2L252.1 262.8L252.7 261.4L253.3 259.9L253.9 258.5L254.5 257.1L255.1 255.7L255.8 254.2L256.4 252.8L257.1 251.4L257.7 250.0L258.4 248.6L259.1 247.2L259.8 245.8L260.5 244.4L261.3 243.0L262.0 241.6L262.8 240.2L263.5 238.8L264.3 237.4L265.1 236.0L265.9 234.6L266.7 233.2L267.5 231.8L268.3 230.5L269.2 229.1L270.0 227.7L270.9 226.3L271.8 225.0L272.7 223.6L273.6 222.2L274.5 220.9L275.5 219.5L276.4 218.2L277.4 216.8L278.3 215.5L279.3 214.2L280.3 212.8L281.3 211.5L282.3 210.2L283.4 208.8L284.4 207.5L285.5 206.2L286.5 204.9L287.6 203.6L288.7 202.3L289.8 201.0L290.9 199.7L292.1 198.4L293.2 197.1L294.4 195.8L295.5 194.5L296.7 193.2L297.9 192.0L299.1 190.7L300.4 189.4L301.6 188.2L302.9 186.9L304.1 185.7L305.4 184.4L306.7 183.2L308.0 181.9L309.3 180.7L310.7 179.5L312.0 178.3L313.4 177.0L314.8 175.8L316.2 174.6L317.6 173.4L319.0 172.2L320.5 171.0L321.9 169.9L323.4 168.7L324.9 167.5L326.4 166.3L327.9 165.2L329.4 164.0L331.0 162.9L332.5 161.7L334.1 160.6L335.7 159.5L337.3 158.4L339.0 157.2L340.6 156.1L342.3 155.0L344.0 153.9L345.7 152.8L347.4 151.8L349.2 150.7L350.9 149.6L352.7 148.6L354.5 147.5L356.3 146.5L358.2 145.4L360.0 144.4L361.9 143.4L363.8 142.4L365.7 141.4L367.7 140.4L369.6 139.4L371.6 138.4L373.6 137.4L375.7 136.5L377.7 135.5L379.8 134.6L381.9 133.7L384.1 132.7L386.2 131.8L388.4 130.9L390.6 130.0L392.9 129.2L395.2 128.3L397.5 127.5L399.8 126.6L402.2 125.8L404.6 125.0L407.0 124.2L409.5 123.4L412.0 122.6L414.5 121.9L417.1 121.1L419.7 120.4L422.3 119.7L425.0 119.0L427.7 118.3L430.5 117.7L433.3 117.1L436.1 116.5L439.0 115.9L441.9 115.4L444.8 114.9L447.7 114.4L450.7 113.9L453.7 113.5L456.7 113.2L459.7 112.8L462.7 112.6L465.6 112.3L468.6 112.2L471.5 112.1L474.3 112.1L477.2 112.1"/><path d="M388.9 533.4L386.8 532.9L384.5 532.4L382.0 531.9L379.5 531.3L376.9 530.8L374.2 530.1L371.5 529.5L368.8 528.8L366.0 528.2L363.3 527.5L360.5 526.7L357.8 526.0L355.1 525.3L352.4 524.5L349.7 523.7L347.1 522.9L344.5 522.1L341.8 521.3L339.3 520.5L336.7 519.6L334.1 518.7L331.6 517.9L329.1 517.0L326.7 516.1L324.2 515.2L321.8 514.3L319.4 513.4L317.1 512.4L314.7 511.5L312.4 510.5L310.1 509.6L307.8 508.6L305.6 507.6L303.3 506.6L301.1 505.6L299.0 504.6L296.8 503.6L294.7 502.6L292.6 501.6L290.5 500.5L288.4 499.5L286.4 498.4L284.3 497.4L282.3 496.3L280.3 495.2L278.4 494.1L276.4 493.0L274.5 491.9L272.6 490.8L270.7 489.7L268.9 488.6L267.0 487.5L265.2 486.4L263.4 485.2L261.6 484.1L259.9 482.9L258.1 481.8L256.4 480.6L254.7 479.4L253.0 478.3L251.3 477.1L249.7 475.9L248.0 474.7L246.4 473.5L244.8 472.3L243.2 471.1L241.7 469.9L240.1 468.7L238.6 467.5L237.1 466.2L235.6 465.0L234.1 463.8L232.7 462.5L231.2 461.3L229.8 460.0L228.4 458.8L227.0 457.5L225.7 456.2L224.3 455.0L223.0 453.7L221.6 452.4L220.3 451.1L219.0 449.9L217.8 448.6L216.5 447.3L215.3 446.0L214.1 444.7L212.8 443.4L211.7 442.0L210.5 440.7L209.3 439.4L208.2 438.1L207.1 436.8L205.9 435.4L204.9 434.1L203.8 432.8L202.7 431.4L201.7 430.1L200.6 428.7L199.6 427.4L198.6 426.0L197.6 424.7L196.7 423.3L195.7 421.9L194.8 420.6L193.9 419.2L192.9 417.8L192.1 416.5L191.2 415.1L190.3 413.7L189.5 412.3L188.6 410.9L187.8 409.5L187.0 408.1L186.2 406.7L185.5 405.3L184.7 403.9L184.0 402.5L183.3 401.1L182.6 399.7L181.9 398.3L181.2 396.9L180.5 395.5L179.9 394.1L179.2 392.7L178.6 391.2L178.0 389.8L177.4 388.4L176.8 387.0L176.3 385.5L175.7 384.1L175.2 382.7L174.7 381.2L174.2 379.8L173.7 378.4L173.2 376.9L172.8 375.5L172.4 374.0L171.9 372.6L171.5 371.2L171.1 369.7L170.7 368.3L170.4 366.8L170.0 365.4L169.7 363.9L169.4 362.5L169.1 361.0L168.8 359.5L168.5 358.1L168.2 356.6L168.0 355.2L167.7 353.7L167.5 352.2L167.3 350.8L167.1 349.3L166.9 347.9L166.8 346.4L166.6 344.9L166.5 343.5L166.4 342.0L166.3 340.5L166.2 339.1L166.1 337.6L166.1 336.1L166.0 334.7L166.0 333.2L166.0 331.7L166.0 330.3L166.0 328.8L166.0 327.3L166.1 325.8L166.1 324.4L166.2 322.9L166.3 321.4L166.4 320.0L166.5 318.5L166.6 317.0L166.8 315.6L166.9 314.1L167.1 312.6L167.3 311.2L167.5 309.7L167.7 308.2L168.0 306.8L168.2 305.3L168.5 303.8L168.7 302.4L169.0 300.9L169.3 299.4L169.7 298.0L170.0 296.5L170.3 295.0L170.7 293.6L171.1 292.1L171.5 290.7L171.9 289.2L172.3 287.7L172.8 286.3L173.2 284.8L173.7 283.4L174.2 281.9L174.7 280.5L175.2 279.0L175.7 277.6L176.2 276.1L176.8 274.7L177.4 273.2L177.9 271.8L178.6 270.3L179.2 268.9L179.8 267.5L180.4 266.0L181.1 264.6L181.8 263.1L182.5 261.7L183.2 260.3L183.9 258.9L184.6 257.4L185.4 256.0L186.1 254.6L186.9 253.2L187.7 251.7L188.5 250.3L189.4 248.9L190.2 247.5L191.1 246.1L191.9 244.7L192.8 243.3L193.7 241.9L194.6 240.5L195.6 239.1L196.5 237.7L197.5 236.3L198.5 234.9L199.5 233.5L200.5 232.1L201.5 230.7L202.5 229.4L203.6 228.0L204.7 226.6L205.8 225.3L206.9 223.9L208.0 222.5L209.1 221.2L210.3 219.8L211.4 218.5L212.6 217.1L213.8 215.8L215.0 214.4L216.3 213.1L217.5 211.7L218.8 210.4L220.1 209.1L221.4 207.7L222.7 206.4L224.0 205.1L225.3 203.8L226.7 202.5L228.1 201.2L229.5 199.9L230.9 198.6L232.3 197.3L233.8 196.0L235.2 194.7L236.7 193.4L238.2 192.1L239.7 190.9L241.3 189.6L242.8 188.3L244.4 187.1L246.0 185.8L247.6 184.6L249.2 183.3L250.8 182.1L252.5 180.8L254.2 179.6L255.9 178.4L257.6 177.2L259.3 175.9L261.1 174.7L262.9 173.5L264.7 172.3L266.5 171.1L268.3 169.9L270.1 168.8L272.0 167.6L273.9 166.4L275.8 165.2L277.7 164.1L279.7 162.9L281.7 161.8L283.7 160.6L285.7 159.5L287.7 158.4L289.8 157.3L291.9 156.1L294.0 155.0L296.1 153.9L298.2 152.8L300.4 151.7L302.6 150.7L304.8 149.6L307.1 148.5L309.4 147.5L311.7 146.4L314.0 145.4L316.3 144.3L318.7 143.3L321.1 142.3L323.5 141.3L326.0 140.2L328.5 139.2L331.0 138.3L333.5 137.3L336.1 136.3L338.7 135.4L341.4 134.4L344.0 133.5L346.7 132.5L349.5 131.6L352.3 130.7L355.1 129.8L357.9 128.9L360.8 128.0L363.7 127.1L366.7 126.3L369.7 125.4L372.7 124.6L375.8 123.8L379.0 123.0L382.2 122.2L385.4 121.4L388.7 120.6L392.0 119.9L395.4 119.2L398.8 118.5L402.3 117.8L405.9 117.1L409.5 116.4L413.1 115.8L416.8 115.2L420.6 114.6L424.4 114.0L428.2 113.5L432.1 113.0L436.0 112.5L439.9 112.1L443.8 111.7L447.6 111.4L451.3 111.1L455.0 110.9L458.4 110.8L461.7 110.7L464.8 110.7L467.8 110.8L470.5 111.0L473.1 111.2L475.5 111.4L477.8 111.8"/><path d="M386.1 533.2L381.6 532.6L377.2 532.0L372.8 531.3L368.5 530.6L364.3 529.9L360.2 529.2L356.1 528.5L352.1 527.7L348.2 527.0L344.3 526.2L340.5 525.4L336.8 524.6L333.1 523.8L329.5 523.0L325.9 522.1L322.3 521.3L318.9 520.4L315.4 519.5L312.0 518.6L308.7 517.7L305.4 516.8L302.1 515.9L298.9 515.0L295.7 514.1L292.6 513.1L289.5 512.2L286.5 511.2L283.4 510.2L280.5 509.2L277.5 508.3L274.6 507.3L271.7 506.2L268.9 505.2L266.1 504.2L263.3 503.2L260.5 502.1L257.8 501.1L255.1 500.0L252.5 499.0L249.8 497.9L247.2 496.8L244.7 495.8L242.1 494.7L239.6 493.6L237.1 492.5L234.7 491.4L232.3 490.2L229.8 489.1L227.5 488.0L225.1 486.9L222.8 485.7L220.5 484.6L218.2 483.4L216.0 482.2L213.7 481.1L211.5 479.9L209.4 478.7L207.2 477.6L205.1 476.4L203.0 475.2L200.9 474.0L198.8 472.8L196.8 471.6L194.8 470.3L192.8 469.1L190.8 467.9L188.9 466.7L187.0 465.4L185.1 464.2L183.2 462.9L181.3 461.7L179.5 460.4L177.7 459.2L175.9 457.9L174.1 456.6L172.4 455.4L170.6 454.1L168.9 452.8L167.3 451.5L165.6 450.2L163.9 448.9L162.3 447.6L160.7 446.3L159.1 445.0L157.6 443.7L156.0 442.4L154.5 441.1L153.0 439.8L151.5 438.4L150.1 437.1L148.6 435.8L147.2 434.4L145.8 433.1L144.4 431.8L143.1 430.4L141.7 429.1L140.4 427.7L139.1 426.3L137.8 425.0L136.6 423.6L135.3 422.3L134.1 420.9L132.9 419.5L131.7 418.1L130.5 416.8L129.4 415.4L128.2 414.0L127.1 412.6L126.0 411.2L125.0 409.8L123.9 408.4L122.9 407.0L121.9 405.6L120.9 404.2L119.9 402.8L118.9 401.4L118.0 400.0L117.1 398.6L116.2 397.2L115.3 395.8L114.4 394.3L113.6 392.9L112.7 391.5L111.9 390.1L111.1 388.6L110.4 387.2L109.6 385.8L108.9 384.3L108.2 382.9L107.5 381.5L106.8 380.0L106.1 378.6L105.5 377.2L104.8 375.7L104.2 374.3L103.6 372.8L103.1 371.4L102.5 369.9L102.0 368.5L101.5 367.0L101.0 365.6L100.5 364.1L100.0 362.7L99.6 361.2L99.2 359.7L98.7 358.3L98.4 356.8L98.0 355.4L97.6 353.9L97.3 352.4L97.0 351.0L96.7 349.5L96.4 348.0L96.1 346.6L95.9 345.1L95.7 343.6L95.4 342.2L95.3 340.7L95.1 339.2L94.9 337.8L94.8 336.3L94.7 334.8L94.6 333.3L94.5 331.9L94.4 330.4L94.4 328.9L94.3 327.5L94.3 326.0L94.3 324.5L94.4 323.0L94.4 321.6L94.5 320.1L94.5 318.6L94.6 317.2L94.8 315.7L94.9 314.2L95.0 312.7L95.2 311.3L95.4 309.8L95.6 308.3L95.8 306.9L96.1 305.4L96.3 303.9L96.6 302.4L96.9 301.0L97.2 299.5L97.5 298.0L97.9 296.6L98.3 295.1L98.6 293.7L99.0 292.2L99.5 290.7L99.9 289.3L100.4 287.8L100.8 286.3L101.3 284.9L101.8 283.4L102.4 282.0L102.9 280.5L103.5 279.1L104.1 277.6L104.7 276.2L105.3 274.7L105.9 273.3L106.6 271.8L107.3 270.4L108.0 268.9L108.7 267.5L109.4 266.0L110.2 264.6L110.9 263.2L111.7 261.7L112.5 260.3L113.3 258.9L114.2 257.4L115.1 256.0L115.9 254.6L116.8 253.2L117.7 251.7L118.7 250.3L119.6 248.9L120.6 247.5L121.6 246.1L122.6 244.7L123.6 243.3L124.7 241.9L125.7 240.4L126.8 239.0L127.9 237.6L129.1 236.3L130.2 234.9L131.4 233.5L132.5 232.1L133.7 230.7L135.0 229.3L136.2 227.9L137.5 226.6L138.7 225.2L140.0 223.8L141.3 222.5L142.7 221.1L144.0 219.7L145.4 218.4L146.8 217.0L148.2 215.7L149.6 214.3L151.1 213.0L152.6 211.6L154.1 210.3L155.6 209.0L157.1 207.6L158.7 206.3L160.2 205.0L161.8 203.7L163.4 202.4L165.1 201.0L166.7 199.7L168.4 198.4L170.1 197.1L171.8 195.8L173.6 194.5L175.3 193.3L177.1 192.0L178.9 190.7L180.7 189.4L182.6 188.2L184.4 186.9L186.3 185.6L188.2 184.4L190.2 183.1L192.1 181.9L194.1 180.6L196.1 179.4L198.1 178.2L200.2 176.9L202.3 175.7L204.4 174.5L206.5 173.3L208.6 172.1L210.8 170.9L213.0 169.7L215.2 168.5L217.4 167.3L219.7 166.2L222.0 165.0L224.3 163.8L226.6 162.7L229.0 161.5L231.4 160.4L233.8 159.2L236.2 158.1L238.7 156.9L241.2 155.8L243.7 154.7L246.3 153.6L248.9 152.5L251.5 151.4L254.1 150.3L256.8 149.2L259.5 148.1L262.2 147.1L265.0 146.0L267.8 145.0L270.6 143.9L273.5 142.9L276.3 141.8L279.3 140.8L282.2 139.8L285.2 138.8L288.3 137.8L291.3 136.8L294.5 135.8L297.6 134.9L300.8 133.9L304.0 132.9L307.3 132.0L310.6 131.1L314.0 130.1L317.4 129.2L320.9 128.3L324.4 127.4L327.9 126.5L331.6 125.6L335.2 124.8L339.0 123.9L342.7 123.1L346.6 122.3L350.5 121.4L354.5 120.6L358.6 119.8L362.7 119.1L366.9 118.3L371.2 117.6L375.6 116.8L380.1 116.1L384.7 115.4L389.4 114.7L394.2 114.1L399.1 113.4L404.2 112.8L409.4 112.2L414.8 111.6L420.3 111.1L426.0 110.6L431.9 110.1L437.9 109.6L444.0 109.3L450.0 108.9L455.8 108.7L460.9 108.6L465.0 108.6L468.2 108.7L470.7 108.9L472.6 109.2L474.2 109.6L475.6 110.1L476.9 110.5L478.0 111.0L479.0 111.6"/><path d="M574.4 533.2L579.5 532.6L584.4 531.9L589.2 531.2L593.9 530.5L598.5 529.8L603.0 529.1L607.4 528.4L611.7 527.6L615.9 526.8L620.1 526.0L624.2 525.2L628.2 524.4L632.1 523.6L636.0 522.8L639.8 521.9L643.6 521.1L647.3 520.2L651.0 519.3L654.6 518.4L658.2 517.5L661.7 516.6L665.1 515.7L668.6 514.7L671.9 513.8L675.3 512.8L678.5 511.9L681.8 510.9L685.0 509.9L688.2 509.0L691.3 508.0L694.4 507.0L697.4 505.9L700.5 504.9L703.4 503.9L706.4 502.9L709.3 501.8L712.2 500.8L715.0 499.7L717.9 498.6L720.6 497.6L723.4 496.5L726.1 495.4L728.8 494.3L731.5 493.2L734.1 492.1L736.7 491.0L739.3 489.9L741.8 488.8L744.3 487.6L746.8 486.5L749.3 485.3L751.7 484.2L754.1 483.0L756.5 481.9L758.9 480.7L761.2 479.5L763.5 478.3L765.8 477.2L768.0 476.0L770.3 474.8L772.5 473.6L774.7 472.4L776.8 471.1L778.9 469.9L781.0 468.7L783.1 467.5L785.2 466.2L787.2 465.0L789.2 463.8L791.2 462.5L793.2 461.3L795.1 460.0L797.1 458.7L798.9 457.5L800.8 456.2L802.7 454.9L804.5 453.7L806.3 452.4L808.1 451.1L809.9 449.8L811.6 448.5L813.3 447.2L815.0 445.9L816.7 444.6L818.3 443.3L820.0 441.9L821.6 440.6L823.2 439.3L824.7 438.0L826.3 436.6L827.8 435.3L829.3 434.0L830.8 432.6L832.3 431.3L833.7 429.9L835.1 428.6L836.5 427.2L837.9 425.9L839.3 424.5L840.6 423.1L841.9 421.8L843.2 420.4L844.5 419.0L845.8 417.6L847.0 416.3L848.2 414.9L849.4 413.5L850.6 412.1L851.8 410.7L852.9 409.3L854.0 407.9L855.1 406.5L856.2 405.1L857.3 403.7L858.3 402.3L859.3 400.9L860.3 399.5L861.3 398.1L862.3 396.7L863.2 395.2L864.1 393.8L865.0 392.4L865.9 391.0L866.8 389.5L867.6 388.1L868.4 386.7L869.2 385.3L870.0 383.8L870.8 382.4L871.5 380.9L872.3 379.5L873.0 378.1L873.7 376.6L874.3 375.2L875.0 373.7L875.6 372.3L876.2 370.8L876.8 369.4L877.4 367.9L877.9 366.5L878.5 365.0L879.0 363.6L879.5 362.1L880.0 360.7L880.4 359.2L880.9 357.7L881.3 356.3L881.7 354.8L882.1 353.3L882.4 351.9L882.8 350.4L883.1 349.0L883.4 347.5L883.7 346.0L884.0 344.6L884.2 343.1L884.4 341.6L884.6 340.1L884.8 338.7L885.0 337.2L885.2 335.7L885.3 334.3L885.4 332.8L885.5 331.3L885.6 329.8L885.7 328.4L885.7 326.9L885.7 325.4L885.7 324.0L885.7 322.5L885.7 321.0L885.6 319.5L885.5 318.1L885.4 316.6L885.3 315.1L885.2 313.6L885.1 312.2L884.9 310.7L884.7 309.2L884.5 307.8L884.3 306.3L884.0 304.8L883.8 303.4L883.5 301.9L883.2 300.4L882.9 299.0L882.5 297.5L882.2 296.0L881.8 294.6L881.4 293.1L881.0 291.6L880.5 290.2L880.1 288.7L879.6 287.2L879.1 285.8L878.6 284.3L878.1 282.9L877.5 281.4L877.0 280.0L876.4 278.5L875.8 277.0L875.1 275.6L874.5 274.1L873.8 272.7L873.1 271.3L872.4 269.8L871.7 268.4L871.0 266.9L870.2 265.5L869.4 264.0L868.6 262.6L867.8 261.2L867.0 259.7L866.1 258.3L865.2 256.9L864.4 255.5L863.4 254.0L862.5 252.6L861.5 251.2L860.6 249.8L859.6 248.3L858.6 246.9L857.5 245.5L856.5 244.1L855.4 242.7L854.3 241.3L853.2 239.9L852.1 238.5L850.9 237.1L849.7 235.7L848.5 234.3L847.3 232.9L846.1 231.5L844.8 230.1L843.6 228.8L842.3 227.4L841.0 226.0L839.6 224.6L838.3 223.3L836.9 221.9L835.5 220.5L834.1 219.2L832.7 217.8L831.2 216.5L829.7 215.1L828.2 213.8L826.7 212.4L825.2 211.1L823.6 209.8L822.0 208.4L820.4 207.1L818.8 205.8L817.1 204.4L815.5 203.1L813.8 201.8L812.1 200.5L810.3 199.2L808.6 197.9L806.8 196.6L805.0 195.3L803.2 194.0L801.3 192.7L799.5 191.5L797.6 190.2L795.7 188.9L793.7 187.6L791.8 186.4L789.8 185.1L787.8 183.9L785.8 182.6L783.7 181.4L781.6 180.1L779.5 178.9L777.4 177.7L775.3 176.4L773.1 175.2L770.9 174.0L768.7 172.8L766.5 171.6L764.2 170.4L761.9 169.2L759.6 168.0L757.2 166.8L754.9 165.7L752.5 164.5L750.0 163.3L747.6 162.2L745.1 161.0L742.6 159.9L740.1 158.7L737.5 157.6L734.9 156.5L732.3 155.3L729.6 154.2L726.9 153.1L724.2 152.0L721.5 150.9L718.7 149.8L715.9 148.7L713.1 147.7L710.2 146.6L707.3 145.5L704.4 144.5L701.4 143.4L698.4 142.4L695.4 141.4L692.3 140.4L689.2 139.3L686.0 138.3L682.9 137.3L679.6 136.4L676.4 135.4L673.0 134.4L669.7 133.4L666.3 132.5L662.8 131.5L659.4 130.6L655.8 129.7L652.2 128.8L648.6 127.9L644.9 127.0L641.2 126.1L637.3 125.2L633.5 124.3L629.6 123.5L625.6 122.6L621.5 121.8L617.4 121.0L613.2 120.2L608.9 119.4L604.5 118.6L600.0 117.9L595.5 117.1L590.8 116.4L586.1 115.7L581.2 115.0L576.2 114.3L571.0 113.6L565.7 113.0L560.3 112.3L554.6 111.7L548.7 111.2L542.6 110.6L536.3 110.1L529.6 109.6L522.6 109.1L515.2 108.7L507.6 108.4L500.1 108.1L493.7 108.0L489.5 108.1L487.1 108.3L485.5 108.6L484.3 109.0L483.3 109.4L482.5 109.9L481.8 110.4L481.1 111.0L480.6 111.6"/><path d="M572.0 533.3L574.8 532.8L577.8 532.3L580.8 531.7L583.9 531.1L587.0 530.5L590.1 529.8L593.2 529.1L596.3 528.4L599.4 527.7L602.5 527.0L605.5 526.3L608.5 525.5L611.5 524.7L614.5 523.9L617.4 523.1L620.3 522.3L623.2 521.5L626.1 520.7L628.9 519.8L631.6 518.9L634.4 518.1L637.1 517.2L639.8 516.3L642.5 515.4L645.1 514.4L647.7 513.5L650.3 512.6L652.8 511.6L655.4 510.7L657.8 509.7L660.3 508.7L662.7 507.8L665.2 506.8L667.5 505.8L669.9 504.7L672.2 503.7L674.6 502.7L676.8 501.7L679.1 500.6L681.3 499.6L683.6 498.5L685.7 497.5L687.9 496.4L690.1 495.3L692.2 494.2L694.3 493.1L696.3 492.0L698.4 490.9L700.4 489.8L702.4 488.7L704.4 487.6L706.4 486.4L708.3 485.3L710.3 484.2L712.2 483.0L714.1 481.8L715.9 480.7L717.8 479.5L719.6 478.3L721.4 477.2L723.2 476.0L724.9 474.8L726.7 473.6L728.4 472.4L730.1 471.2L731.8 470.0L733.4 468.7L735.1 467.5L736.7 466.3L738.3 465.1L739.9 463.8L741.5 462.6L743.0 461.3L744.6 460.1L746.1 458.8L747.6 457.6L749.1 456.3L750.5 455.0L752.0 453.7L753.4 452.5L754.8 451.2L756.2 449.9L757.6 448.6L758.9 447.3L760.3 446.0L761.6 444.7L762.9 443.4L764.2 442.1L765.4 440.8L766.7 439.4L767.9 438.1L769.1 436.8L770.3 435.5L771.5 434.1L772.7 432.8L773.8 431.4L775.0 430.1L776.1 428.7L777.2 427.4L778.3 426.0L779.3 424.7L780.4 423.3L781.4 422.0L782.4 420.6L783.4 419.2L784.4 417.8L785.4 416.5L786.3 415.1L787.3 413.7L788.2 412.3L789.1 410.9L790.0 409.5L790.8 408.1L791.7 406.7L792.5 405.3L793.3 403.9L794.1 402.5L794.9 401.1L795.7 399.7L796.4 398.3L797.2 396.9L797.9 395.5L798.6 394.1L799.3 392.6L800.0 391.2L800.6 389.8L801.3 388.4L801.9 386.9L802.5 385.5L803.1 384.1L803.7 382.7L804.3 381.2L804.8 379.8L805.3 378.3L805.9 376.9L806.4 375.5L806.8 374.0L807.3 372.6L807.8 371.1L808.2 369.7L808.6 368.2L809.0 366.8L809.4 365.3L809.8 363.9L810.2 362.4L810.5 361.0L810.8 359.5L811.1 358.0L811.4 356.6L811.7 355.1L812.0 353.7L812.2 352.2L812.5 350.7L812.7 349.3L812.9 347.8L813.1 346.4L813.2 344.9L813.4 343.4L813.5 342.0L813.7 340.5L813.8 339.0L813.9 337.6L813.9 336.1L814.0 334.6L814.1 333.1L814.1 331.7L814.1 330.2L814.1 328.7L814.1 327.3L814.1 325.8L814.0 324.3L813.9 322.9L813.9 321.4L813.8 319.9L813.7 318.4L813.5 317.0L813.4 315.5L813.2 314.0L813.1 312.6L812.9 311.1L812.7 309.6L812.5 308.2L812.2 306.7L812.0 305.2L811.7 303.8L811.4 302.3L811.2 300.8L810.8 299.4L810.5 297.9L810.2 296.4L809.8 295.0L809.4 293.5L809.1 292.0L808.6 290.6L808.2 289.1L807.8 287.7L807.3 286.2L806.9 284.7L806.4 283.3L805.9 281.8L805.4 280.4L804.8 278.9L804.3 277.5L803.7 276.0L803.2 274.6L802.6 273.1L802.0 271.7L801.3 270.3L800.7 268.8L800.0 267.4L799.4 265.9L798.7 264.5L798.0 263.1L797.2 261.6L796.5 260.2L795.8 258.8L795.0 257.3L794.2 255.9L793.4 254.5L792.6 253.1L791.8 251.7L790.9 250.2L790.0 248.8L789.2 247.4L788.3 246.0L787.4 244.6L786.4 243.2L785.5 241.8L784.5 240.4L783.5 239.0L782.5 237.6L781.5 236.2L780.5 234.8L779.5 233.4L778.4 232.0L777.3 230.6L776.2 229.3L775.1 227.9L774.0 226.5L772.8 225.1L771.7 223.8L770.5 222.4L769.3 221.1L768.1 219.7L766.9 218.3L765.6 217.0L764.4 215.6L763.1 214.3L761.8 213.0L760.5 211.6L759.1 210.3L757.8 208.9L756.4 207.6L755.0 206.3L753.6 205.0L752.2 203.7L750.8 202.4L749.3 201.0L747.9 199.7L746.4 198.4L744.9 197.1L743.3 195.9L741.8 194.6L740.2 193.3L738.6 192.0L737.0 190.7L735.4 189.5L733.8 188.2L732.1 186.9L730.5 185.7L728.8 184.4L727.1 183.2L725.3 181.9L723.6 180.7L721.8 179.5L720.0 178.2L718.2 177.0L716.4 175.8L714.5 174.6L712.6 173.4L710.7 172.2L708.8 171.0L706.9 169.8L704.9 168.6L703.0 167.4L701.0 166.3L698.9 165.1L696.9 163.9L694.8 162.8L692.8 161.6L690.6 160.5L688.5 159.3L686.4 158.2L684.2 157.1L682.0 156.0L679.8 154.9L677.5 153.8L675.2 152.7L672.9 151.6L670.6 150.5L668.3 149.4L665.9 148.3L663.5 147.3L661.0 146.2L658.6 145.2L656.1 144.1L653.6 143.1L651.0 142.1L648.5 141.1L645.9 140.0L643.2 139.0L640.6 138.1L637.9 137.1L635.1 136.1L632.4 135.1L629.6 134.2L626.7 133.2L623.9 132.3L620.9 131.4L618.0 130.5L615.0 129.5L612.0 128.7L608.9 127.8L605.8 126.9L602.7 126.0L599.5 125.2L596.2 124.3L592.9 123.5L589.6 122.7L586.2 121.9L582.7 121.1L579.2 120.3L575.7 119.6L572.1 118.9L568.4 118.1L564.6 117.4L560.8 116.7L556.9 116.1L553.0 115.4L549.0 114.8L544.9 114.2L540.8 113.6L536.6 113.1L532.3 112.6L528.1 112.1L523.8 111.6L519.5 111.2L515.2 110.9L511.1 110.6L507.1 110.4L503.3 110.2L499.8 110.1L496.5 110.2L493.6 110.2L490.9 110.4L488.4 110.6L486.1 110.9L483.9 111.3L481.9 111.7"/><path d="M568.8 533.6L568.8 533.3L569.2 533.0L569.9 532.6L571.0 532.2L572.2 531.7L573.7 531.2L575.3 530.7L577.0 530.1L578.7 529.6L580.6 529.0L582.5 528.3L584.4 527.7L586.4 527.0L588.4 526.3L590.4 525.6L592.4 524.9L594.5 524.1L596.5 523.4L598.5 522.6L600.5 521.8L602.5 521.0L604.5 520.2L606.5 519.3L608.5 518.5L610.5 517.6L612.4 516.8L614.4 515.9L616.3 515.0L618.2 514.1L620.1 513.2L621.9 512.3L623.8 511.3L625.6 510.4L627.5 509.4L629.3 508.5L631.1 507.5L632.8 506.5L634.6 505.5L636.3 504.5L638.1 503.5L639.8 502.5L641.5 501.5L643.1 500.5L644.8 499.4L646.5 498.4L648.1 497.3L649.7 496.2L651.3 495.2L652.9 494.1L654.4 493.0L656.0 491.9L657.5 490.8L659.0 489.7L660.5 488.6L662.0 487.5L663.5 486.4L664.9 485.2L666.4 484.1L667.8 483.0L669.2 481.8L670.6 480.7L672.0 479.5L673.3 478.3L674.7 477.1L676.0 476.0L677.3 474.8L678.6 473.6L679.9 472.4L681.2 471.2L682.5 470.0L683.7 468.8L684.9 467.6L686.2 466.3L687.4 465.1L688.5 463.9L689.7 462.6L690.9 461.4L692.0 460.2L693.2 458.9L694.3 457.6L695.4 456.4L696.5 455.1L697.6 453.8L698.6 452.6L699.7 451.3L700.7 450.0L701.7 448.7L702.8 447.4L703.7 446.1L704.7 444.8L705.7 443.5L706.7 442.2L707.6 440.9L708.5 439.6L709.5 438.3L710.4 437.0L711.3 435.6L712.1 434.3L713.0 433.0L713.8 431.6L714.7 430.3L715.5 428.9L716.3 427.6L717.1 426.2L717.9 424.9L718.7 423.5L719.5 422.2L720.2 420.8L720.9 419.4L721.7 418.1L722.4 416.7L723.1 415.3L723.8 413.9L724.4 412.6L725.1 411.2L725.7 409.8L726.4 408.4L727.0 407.0L727.6 405.6L728.2 404.2L728.8 402.8L729.4 401.4L729.9 400.0L730.5 398.6L731.0 397.2L731.5 395.8L732.0 394.4L732.5 392.9L733.0 391.5L733.5 390.1L733.9 388.7L734.4 387.3L734.8 385.8L735.3 384.4L735.7 383.0L736.1 381.5L736.4 380.1L736.8 378.7L737.2 377.2L737.5 375.8L737.9 374.3L738.2 372.9L738.5 371.5L738.8 370.0L739.1 368.6L739.4 367.1L739.6 365.7L739.9 364.2L740.1 362.8L740.3 361.3L740.6 359.9L740.8 358.4L741.0 357.0L741.1 355.5L741.3 354.0L741.4 352.6L741.6 351.1L741.7 349.7L741.8 348.2L741.9 346.7L742.0 345.3L742.1 343.8L742.2 342.4L742.2 340.9L742.3 339.4L742.3 338.0L742.3 336.5L742.3 335.0L742.3 333.6L742.3 332.1L742.3 330.6L742.2 329.2L742.2 327.7L742.1 326.2L742.0 324.8L742.0 323.3L741.9 321.8L741.7 320.3L741.6 318.9L741.5 317.4L741.3 315.9L741.2 314.5L741.0 313.0L740.8 311.5L740.6 310.1L740.4 308.6L740.2 307.1L739.9 305.7L739.7 304.2L739.4 302.8L739.1 301.3L738.9 299.8L738.6 298.4L738.3 296.9L737.9 295.4L737.6 294.0L737.3 292.5L736.9 291.1L736.5 289.6L736.1 288.2L735.8 286.7L735.3 285.2L734.9 283.8L734.5 282.3L734.1 280.9L733.6 279.4L733.1 278.0L732.6 276.5L732.2 275.1L731.6 273.7L731.1 272.2L730.6 270.8L730.1 269.3L729.5 267.9L728.9 266.5L728.4 265.0L727.8 263.6L727.2 262.2L726.5 260.7L725.9 259.3L725.3 257.9L724.6 256.5L723.9 255.0L723.3 253.6L722.6 252.2L721.9 250.8L721.1 249.4L720.4 248.0L719.7 246.6L718.9 245.1L718.2 243.7L717.4 242.3L716.6 240.9L715.8 239.5L714.9 238.2L714.1 236.8L713.3 235.4L712.4 234.0L711.5 232.6L710.7 231.2L709.8 229.8L708.9 228.5L707.9 227.1L707.0 225.7L706.0 224.4L705.1 223.0L704.1 221.6L703.1 220.3L702.1 218.9L701.1 217.6L700.1 216.2L699.0 214.9L698.0 213.6L696.9 212.2L695.8 210.9L694.7 209.6L693.6 208.2L692.5 206.9L691.3 205.6L690.2 204.3L689.0 203.0L687.9 201.7L686.7 200.4L685.5 199.1L684.2 197.8L683.0 196.5L681.7 195.2L680.5 193.9L679.2 192.7L677.9 191.4L676.6 190.1L675.3 188.8L673.9 187.6L672.6 186.3L671.2 185.1L669.8 183.8L668.4 182.6L667.0 181.4L665.6 180.1L664.2 178.9L662.7 177.7L661.2 176.5L659.7 175.3L658.2 174.1L656.7 172.9L655.2 171.7L653.6 170.5L652.0 169.3L650.4 168.1L648.8 167.0L647.2 165.8L645.6 164.6L643.9 163.5L642.2 162.3L640.6 161.2L638.8 160.1L637.1 158.9L635.4 157.8L633.6 156.7L631.8 155.6L630.0 154.5L628.2 153.4L626.4 152.3L624.5 151.2L622.6 150.2L620.7 149.1L618.8 148.0L616.8 147.0L614.9 146.0L612.9 144.9L610.9 143.9L608.9 142.9L606.8 141.9L604.7 140.9L602.6 139.9L600.5 138.9L598.3 137.9L596.2 136.9L594.0 136.0L591.7 135.0L589.5 134.1L587.2 133.2L584.9 132.3L582.6 131.4L580.2 130.5L577.8 129.6L575.4 128.7L572.9 127.8L570.4 127.0L567.9 126.2L565.3 125.3L562.7 124.5L560.1 123.7L557.4 122.9L554.7 122.2L552.0 121.4L549.2 120.7L546.4 120.0L543.5 119.3L540.6 118.6L537.7 117.9L534.7 117.3L531.7 116.7L528.7 116.1L525.6 115.5L522.5 115.0L519.3 114.5L516.2 114.0L513.0 113.6L509.8 113.2L506.6 112.8L503.5 112.5L500.3 112.2L497.2 112.0L494.2 111.9L491.2 111.8L488.3 111.8L485.5 111.9L482.7 112.0"/><path d="M565.6 533.9L562.6 533.9L560.0 533.9L558.1 533.8L556.6 533.7L555.7 533.4L555.1 533.2L554.9 532.8L555.0 532.5L555.3 532.1L555.8 531.6L556.6 531.1L557.4 530.6L558.4 530.1L559.4 529.5L560.5 528.9L561.7 528.3L562.9 527.7L564.2 527.0L565.4 526.3L566.7 525.6L568.1 524.9L569.4 524.1L570.7 523.4L572.1 522.6L573.4 521.8L574.8 521.0L576.1 520.2L577.5 519.4L578.8 518.5L580.2 517.7L581.5 516.8L582.8 516.0L584.1 515.1L585.4 514.2L586.7 513.3L588.0 512.3L589.3 511.4L590.5 510.5L591.8 509.5L593.1 508.6L594.3 507.6L595.5 506.6L596.7 505.6L597.9 504.6L599.1 503.6L600.3 502.6L601.5 501.6L602.7 500.6L603.8 499.5L604.9 498.5L606.1 497.4L607.2 496.4L608.3 495.3L609.4 494.2L610.5 493.2L611.6 492.1L612.6 491.0L613.7 489.9L614.7 488.8L615.8 487.6L616.8 486.5L617.8 485.4L618.8 484.3L619.8 483.1L620.8 482.0L621.7 480.8L622.7 479.7L623.6 478.5L624.6 477.3L625.5 476.1L626.4 475.0L627.3 473.8L628.2 472.6L629.1 471.4L630.0 470.2L630.9 469.0L631.7 467.7L632.6 466.5L633.4 465.3L634.2 464.1L635.0 462.8L635.8 461.6L636.6 460.3L637.4 459.1L638.2 457.8L639.0 456.6L639.7 455.3L640.5 454.0L641.2 452.8L641.9 451.5L642.7 450.2L643.4 448.9L644.1 447.6L644.8 446.3L645.4 445.0L646.1 443.7L646.8 442.4L647.4 441.1L648.1 439.8L648.7 438.5L649.3 437.2L649.9 435.8L650.5 434.5L651.1 433.2L651.7 431.8L652.3 430.5L652.9 429.2L653.4 427.8L654.0 426.5L654.5 425.1L655.0 423.8L655.6 422.4L656.1 421.0L656.6 419.7L657.1 418.3L657.6 416.9L658.0 415.5L658.5 414.2L659.0 412.8L659.4 411.4L659.8 410.0L660.3 408.6L660.7 407.2L661.1 405.8L661.5 404.4L661.9 403.0L662.3 401.6L662.7 400.2L663.0 398.8L663.4 397.4L663.7 396.0L664.1 394.6L664.4 393.2L664.7 391.8L665.0 390.3L665.3 388.9L665.6 387.5L665.9 386.1L666.2 384.6L666.5 383.2L666.7 381.8L667.0 380.4L667.2 378.9L667.4 377.5L667.7 376.0L667.9 374.6L668.1 373.2L668.3 371.7L668.5 370.3L668.6 368.8L668.8 367.4L669.0 365.9L669.1 364.5L669.3 363.0L669.4 361.6L669.5 360.1L669.6 358.7L669.8 357.2L669.8 355.8L669.9 354.3L670.0 352.9L670.1 351.4L670.2 349.9L670.2 348.5L670.3 347.0L670.3 345.5L670.3 344.1L670.3 342.6L670.4 341.2L670.4 339.7L670.4 338.2L670.3 336.8L670.3 335.3L670.3 333.8L670.2 332.4L670.2 330.9L670.1 329.4L670.1 328.0L670.0 326.5L669.9 325.0L669.8 323.6L669.7 322.1L669.6 320.6L669.5 319.2L669.3 317.7L669.2 316.2L669.0 314.8L668.9 313.3L668.7 311.8L668.6 310.4L668.4 308.9L668.2 307.4L668.0 306.0L667.8 304.5L667.6 303.0L667.3 301.6L667.1 300.1L666.8 298.6L666.6 297.2L666.3 295.7L666.1 294.3L665.8 292.8L665.5 291.4L665.2 289.9L664.9 288.4L664.6 287.0L664.2 285.5L663.9 284.1L663.6 282.6L663.2 281.2L662.9 279.7L662.5 278.3L662.1 276.8L661.7 275.4L661.3 273.9L660.9 272.5L660.5 271.1L660.1 269.6L659.7 268.2L659.2 266.7L658.8 265.3L658.3 263.9L657.8 262.4L657.4 261.0L656.9 259.6L656.4 258.2L655.9 256.7L655.4 255.3L654.8 253.9L654.3 252.5L653.8 251.1L653.2 249.7L652.7 248.2L652.1 246.8L651.5 245.4L650.9 244.0L650.3 242.6L649.7 241.2L649.1 239.8L648.5 238.4L647.9 237.0L647.2 235.7L646.6 234.3L645.9 232.9L645.2 231.5L644.6 230.1L643.9 228.8L643.2 227.4L642.5 226.0L641.7 224.7L641.0 223.3L640.3 221.9L639.5 220.6L638.8 219.2L638.0 217.9L637.2 216.5L636.4 215.2L635.7 213.8L634.8 212.5L634.0 211.2L633.2 209.9L632.4 208.5L631.5 207.2L630.7 205.9L629.8 204.6L628.9 203.3L628.0 202.0L627.2 200.7L626.2 199.4L625.3 198.1L624.4 196.8L623.5 195.5L622.5 194.2L621.6 192.9L620.6 191.7L619.6 190.4L618.6 189.1L617.6 187.9L616.6 186.6L615.6 185.4L614.5 184.1L613.5 182.9L612.4 181.6L611.4 180.4L610.3 179.2L609.2 178.0L608.1 176.8L607.0 175.6L605.9 174.3L604.7 173.1L603.6 172.0L602.4 170.8L601.2 169.6L600.1 168.4L598.9 167.2L597.7 166.1L596.4 164.9L595.2 163.8L593.9 162.6L592.7 161.5L591.4 160.3L590.1 159.2L588.8 158.1L587.5 157.0L586.2 155.9L584.8 154.8L583.5 153.7L582.1 152.6L580.7 151.5L579.3 150.4L577.9 149.4L576.4 148.3L575.0 147.3L573.5 146.2L572.0 145.2L570.5 144.2L569.0 143.1L567.5 142.1L565.9 141.1L564.4 140.1L562.8 139.2L561.2 138.2L559.5 137.2L557.9 136.3L556.2 135.3L554.6 134.4L552.8 133.4L551.1 132.5L549.4 131.6L547.6 130.7L545.8 129.8L544.0 129.0L542.1 128.1L540.2 127.3L538.3 126.4L536.4 125.6L534.5 124.8L532.5 124.0L530.5 123.2L528.4 122.4L526.4 121.7L524.2 121.0L522.1 120.2L519.9 119.5L517.7 118.9L515.5 118.2L513.2 117.6L510.9 116.9L508.5 116.4L506.1 115.8L503.7 115.2L501.2 114.7L498.7 114.3L496.1 113.8L493.5 113.4L490.9 113.1L488.2 112.8L485.5 112.5L482.8 112.3"/><path d="M563.3 534.2L557.7 534.6L552.3 534.8L547.4 535.0L543.0 535.2L539.2 535.3L536.0 535.3L533.5 535.2L531.6 535.1L530.3 534.9L529.4 534.6L528.9 534.3L528.7 533.9L528.7 533.5L528.9 533.0L529.3 532.5L529.8 532.0L530.3 531.4L530.9 530.8L531.6 530.2L532.3 529.6L533.1 528.9L533.9 528.2L534.6 527.5L535.5 526.8L536.3 526.1L537.1 525.4L537.9 524.6L538.8 523.8L539.6 523.0L540.4 522.2L541.2 521.4L542.1 520.6L542.9 519.7L543.7 518.9L544.5 518.0L545.4 517.1L546.2 516.2L547.0 515.3L547.8 514.4L548.6 513.5L549.3 512.5L550.1 511.6L550.9 510.6L551.7 509.7L552.4 508.7L553.2 507.7L553.9 506.8L554.7 505.8L555.4 504.7L556.1 503.7L556.8 502.7L557.5 501.7L558.2 500.6L558.9 499.6L559.6 498.5L560.3 497.5L561.0 496.4L561.7 495.3L562.3 494.3L563.0 493.2L563.6 492.1L564.3 491.0L564.9 489.9L565.6 488.7L566.2 487.6L566.8 486.5L567.4 485.4L568.0 484.2L568.6 483.1L569.2 481.9L569.8 480.8L570.4 479.6L570.9 478.4L571.5 477.2L572.1 476.1L572.6 474.9L573.2 473.7L573.7 472.5L574.2 471.3L574.8 470.1L575.3 468.8L575.8 467.6L576.3 466.4L576.8 465.2L577.3 463.9L577.8 462.7L578.3 461.4L578.8 460.2L579.2 458.9L579.7 457.7L580.1 456.4L580.6 455.1L581.0 453.9L581.5 452.6L581.9 451.3L582.4 450.0L582.8 448.7L583.2 447.4L583.6 446.1L584.0 444.8L584.4 443.5L584.8 442.2L585.2 440.9L585.6 439.6L586.0 438.3L586.3 436.9L586.7 435.6L587.0 434.3L587.4 432.9L587.7 431.6L588.1 430.2L588.4 428.9L588.8 427.5L589.1 426.2L589.4 424.8L589.7 423.5L590.0 422.1L590.3 420.7L590.6 419.4L590.9 418.0L591.2 416.6L591.5 415.3L591.7 413.9L592.0 412.5L592.3 411.1L592.5 409.7L592.8 408.3L593.0 406.9L593.2 405.5L593.5 404.1L593.7 402.7L593.9 401.3L594.1 399.9L594.4 398.5L594.6 397.1L594.8 395.7L595.0 394.3L595.1 392.8L595.3 391.4L595.5 390.0L595.7 388.6L595.8 387.1L596.0 385.7L596.2 384.3L596.3 382.9L596.4 381.4L596.6 380.0L596.7 378.5L596.8 377.1L597.0 375.7L597.1 374.2L597.2 372.8L597.3 371.3L597.4 369.9L597.5 368.4L597.6 367.0L597.7 365.5L597.7 364.1L597.8 362.6L597.9 361.2L597.9 359.7L598.0 358.3L598.0 356.8L598.1 355.3L598.1 353.9L598.2 352.4L598.2 351.0L598.2 349.5L598.2 348.0L598.2 346.6L598.3 345.1L598.3 343.6L598.2 342.2L598.2 340.7L598.2 339.2L598.2 337.8L598.2 336.3L598.1 334.8L598.1 333.4L598.1 331.9L598.0 330.4L598.0 329.0L597.9 327.5L597.8 326.0L597.8 324.6L597.7 323.1L597.6 321.6L597.5 320.2L597.4 318.7L597.3 317.2L597.2 315.7L597.1 314.3L597.0 312.8L596.9 311.3L596.8 309.9L596.6 308.4L596.5 306.9L596.4 305.5L596.2 304.0L596.1 302.5L595.9 301.1L595.7 299.6L595.6 298.1L595.4 296.7L595.2 295.2L595.0 293.8L594.8 292.3L594.6 290.8L594.4 289.4L594.2 287.9L594.0 286.5L593.8 285.0L593.6 283.5L593.3 282.1L593.1 280.6L592.9 279.2L592.6 277.7L592.4 276.3L592.1 274.8L591.8 273.4L591.6 272.0L591.3 270.5L591.0 269.1L590.7 267.6L590.4 266.2L590.1 264.8L589.8 263.3L589.5 261.9L589.2 260.5L588.9 259.0L588.6 257.6L588.2 256.2L587.9 254.8L587.6 253.3L587.2 251.9L586.9 250.5L586.5 249.1L586.1 247.7L585.8 246.3L585.4 244.9L585.0 243.5L584.6 242.1L584.2 240.7L583.8 239.3L583.4 237.9L583.0 236.5L582.6 235.1L582.2 233.7L581.7 232.3L581.3 230.9L580.9 229.5L580.4 228.2L580.0 226.8L579.5 225.4L579.0 224.1L578.6 222.7L578.1 221.3L577.6 220.0L577.1 218.6L576.6 217.3L576.1 215.9L575.6 214.6L575.1 213.2L574.6 211.9L574.1 210.6L573.5 209.2L573.0 207.9L572.4 206.6L571.9 205.3L571.3 204.0L570.8 202.6L570.2 201.3L569.6 200.0L569.0 198.7L568.5 197.4L567.9 196.1L567.3 194.9L566.6 193.6L566.0 192.3L565.4 191.0L564.8 189.8L564.1 188.5L563.5 187.2L562.8 186.0L562.2 184.7L561.5 183.5L560.9 182.2L560.2 181.0L559.5 179.8L558.8 178.5L558.1 177.3L557.4 176.1L556.7 174.9L555.9 173.7L555.2 172.5L554.5 171.3L553.7 170.1L553.0 168.9L552.2 167.7L551.4 166.6L550.7 165.4L549.9 164.2L549.1 163.1L548.3 161.9L547.5 160.8L546.6 159.6L545.8 158.5L545.0 157.4L544.1 156.3L543.3 155.2L542.4 154.1L541.5 153.0L540.6 151.9L539.7 150.8L538.8 149.7L537.9 148.6L537.0 147.6L536.1 146.5L535.1 145.5L534.2 144.4L533.2 143.4L532.2 142.4L531.2 141.4L530.2 140.4L529.2 139.4L528.2 138.4L527.1 137.4L526.0 136.4L525.0 135.5L523.9 134.5L522.8 133.6L521.7 132.6L520.5 131.7L519.4 130.8L518.2 129.9L517.0 129.0L515.8 128.1L514.6 127.3L513.4 126.4L512.1 125.5L510.8 124.7L509.5 123.9L508.2 123.1L506.8 122.3L505.4 121.5L504.0 120.7L502.6 120.0L501.1 119.3L499.6 118.5L498.1 117.8L496.5 117.2L494.9 116.5L493.2 115.9L491.5 115.2L489.8 114.7L487.9 114.1L486.1 113.6L484.1 113.1L482.1 112.6"/><path d="M562.7 534.4L555.9 535.0L548.9 535.5L541.8 535.9L534.6 536.4L527.3 536.8L520.1 537.1L513.5 537.3L508.0 537.4L503.9 537.4L501.3 537.3L499.8 537.1L499.0 536.7L498.6 536.4L498.4 535.9L498.5 535.4L498.6 534.9L498.8 534.4L499.0 533.8L499.3 533.2L499.5 532.6L499.8 531.9L500.2 531.3L500.5 530.6L500.8 529.9L501.2 529.2L501.5 528.4L501.8 527.7L502.2 526.9L502.5 526.2L502.9 525.4L503.2 524.6L503.5 523.7L503.9 522.9L504.2 522.1L504.5 521.2L504.9 520.4L505.2 519.5L505.5 518.6L505.8 517.7L506.2 516.8L506.5 515.9L506.8 514.9L507.1 514.0L507.4 513.1L507.7 512.1L508.0 511.1L508.3 510.2L508.6 509.2L508.9 508.2L509.2 507.2L509.5 506.2L509.8 505.2L510.1 504.2L510.3 503.1L510.6 502.1L510.9 501.0L511.2 500.0L511.4 498.9L511.7 497.9L512.0 496.8L512.2 495.7L512.5 494.6L512.7 493.5L513.0 492.4L513.2 491.3L513.5 490.2L513.7 489.1L514.0 487.9L514.2 486.8L514.4 485.6L514.7 484.5L514.9 483.3L515.1 482.2L515.4 481.0L515.6 479.8L515.8 478.7L516.0 477.5L516.2 476.3L516.4 475.1L516.7 473.9L516.9 472.7L517.1 471.5L517.3 470.3L517.5 469.1L517.7 467.8L517.9 466.6L518.1 465.4L518.3 464.1L518.4 462.9L518.6 461.6L518.8 460.4L519.0 459.1L519.2 457.8L519.3 456.6L519.5 455.3L519.7 454.0L519.9 452.7L520.0 451.5L520.2 450.2L520.4 448.9L520.5 447.6L520.7 446.3L520.8 445.0L521.0 443.6L521.1 442.3L521.3 441.0L521.4 439.7L521.6 438.4L521.7 437.0L521.8 435.7L522.0 434.4L522.1 433.0L522.2 431.7L522.4 430.3L522.5 429.0L522.6 427.6L522.8 426.3L522.9 424.9L523.0 423.5L523.1 422.2L523.2 420.8L523.3 419.4L523.4 418.1L523.6 416.7L523.7 415.3L523.8 413.9L523.9 412.5L524.0 411.1L524.1 409.7L524.2 408.4L524.2 407.0L524.3 405.6L524.4 404.1L524.5 402.7L524.6 401.3L524.7 399.9L524.7 398.5L524.8 397.1L524.9 395.7L525.0 394.3L525.0 392.8L525.1 391.4L525.2 390.0L525.2 388.6L525.3 387.1L525.4 385.7L525.4 384.3L525.5 382.8L525.5 381.4L525.6 380.0L525.6 378.5L525.7 377.1L525.7 375.6L525.8 374.2L525.8 372.7L525.8 371.3L525.9 369.8L525.9 368.4L525.9 366.9L526.0 365.5L526.0 364.0L526.0 362.6L526.0 361.1L526.1 359.7L526.1 358.2L526.1 356.7L526.1 355.3L526.1 353.8L526.1 352.3L526.1 350.9L526.1 349.4L526.1 348.0L526.1 346.5L526.1 345.0L526.1 343.6L526.1 342.1L526.1 340.6L526.1 339.1L526.1 337.7L526.1 336.2L526.1 334.7L526.1 333.3L526.0 331.8L526.0 330.3L526.0 328.8L526.0 327.4L525.9 325.9L525.9 324.4L525.9 323.0L525.8 321.5L525.8 320.0L525.8 318.5L525.7 317.1L525.7 315.6L525.6 314.1L525.6 312.7L525.5 311.2L525.5 309.7L525.4 308.2L525.4 306.8L525.3 305.3L525.2 303.8L525.2 302.4L525.1 300.9L525.0 299.4L525.0 298.0L524.9 296.5L524.8 295.0L524.7 293.6L524.7 292.1L524.6 290.6L524.5 289.2L524.4 287.7L524.3 286.3L524.2 284.8L524.2 283.3L524.1 281.9L524.0 280.4L523.9 279.0L523.8 277.5L523.7 276.1L523.6 274.6L523.5 273.2L523.3 271.7L523.2 270.3L523.1 268.8L523.0 267.4L522.9 266.0L522.8 264.5L522.6 263.1L522.5 261.7L522.4 260.2L522.3 258.8L522.1 257.4L522.0 255.9L521.9 254.5L521.7 253.1L521.6 251.7L521.4 250.2L521.3 248.8L521.2 247.4L521.0 246.0L520.9 244.6L520.7 243.2L520.5 241.8L520.4 240.4L520.2 239.0L520.1 237.6L519.9 236.2L519.7 234.8L519.6 233.4L519.4 232.0L519.2 230.6L519.0 229.2L518.9 227.9L518.7 226.5L518.5 225.1L518.3 223.7L518.1 222.4L517.9 221.0L517.7 219.7L517.5 218.3L517.4 216.9L517.2 215.6L516.9 214.2L516.7 212.9L516.5 211.6L516.3 210.2L516.1 208.9L515.9 207.6L515.7 206.2L515.5 204.9L515.2 203.6L515.0 202.3L514.8 201.0L514.6 199.7L514.3 198.4L514.1 197.1L513.9 195.8L513.6 194.5L513.4 193.2L513.1 191.9L512.9 190.6L512.6 189.4L512.4 188.1L512.1 186.8L511.9 185.6L511.6 184.3L511.3 183.1L511.1 181.8L510.8 180.6L510.5 179.3L510.2 178.1L510.0 176.9L509.7 175.7L509.4 174.4L509.1 173.2L508.8 172.0L508.5 170.8L508.2 169.6L507.9 168.4L507.6 167.3L507.3 166.1L507.0 164.9L506.7 163.8L506.4 162.6L506.0 161.4L505.7 160.3L505.4 159.1L505.1 158.0L504.7 156.9L504.4 155.8L504.0 154.6L503.7 153.5L503.3 152.4L503.0 151.3L502.6 150.2L502.3 149.2L501.9 148.1L501.5 147.0L501.2 146.0L500.8 144.9L500.4 143.9L500.0 142.8L499.6 141.8L499.2 140.8L498.8 139.8L498.4 138.7L498.0 137.7L497.5 136.8L497.1 135.8L496.7 134.8L496.2 133.8L495.8 132.9L495.3 131.9L494.9 131.0L494.4 130.1L493.9 129.2L493.5 128.3L493.0 127.4L492.5 126.5L491.9 125.6L491.4 124.7L490.9 123.9L490.4 123.0L489.8 122.2L489.2 121.4L488.7 120.6L488.1 119.8L487.4 119.0L486.8 118.3L486.2 117.5L485.5 116.8L484.8 116.1L484.1 115.4L483.4 114.7L482.6 114.0L481.8 113.4L480.9 112.8"/><path d="M397.2 534.4L403.8 535.0L410.8 535.6L418.0 536.1L425.6 536.6L433.5 537.0L441.8 537.4L450.3 537.7L458.3 537.9L464.3 538.0L467.5 537.9L468.8 537.6L469.4 537.3L469.7 536.9L469.8 536.4L469.8 535.9L469.7 535.4L469.6 534.8L469.4 534.3L469.3 533.7L469.1 533.0L468.9 532.4L468.8 531.7L468.6 531.0L468.4 530.3L468.2 529.6L468.0 528.9L467.8 528.1L467.6 527.4L467.4 526.6L467.2 525.8L467.0 525.0L466.8 524.2L466.6 523.4L466.4 522.5L466.3 521.7L466.1 520.8L465.9 519.9L465.7 519.0L465.5 518.1L465.3 517.2L465.2 516.3L465.0 515.4L464.8 514.5L464.6 513.5L464.5 512.6L464.3 511.6L464.1 510.6L463.9 509.6L463.8 508.7L463.6 507.7L463.5 506.7L463.3 505.6L463.1 504.6L463.0 503.6L462.8 502.6L462.7 501.5L462.5 500.5L462.4 499.4L462.2 498.3L462.1 497.3L461.9 496.2L461.8 495.1L461.6 494.0L461.5 492.9L461.3 491.8L461.2 490.7L461.1 489.5L460.9 488.4L460.8 487.3L460.7 486.1L460.5 485.0L460.4 483.8L460.3 482.7L460.1 481.5L460.0 480.3L459.9 479.2L459.8 478.0L459.6 476.8L459.5 475.6L459.4 474.4L459.3 473.2L459.2 472.0L459.1 470.8L458.9 469.6L458.8 468.3L458.7 467.1L458.6 465.9L458.5 464.6L458.4 463.4L458.3 462.1L458.2 460.9L458.1 459.6L458.0 458.4L457.9 457.1L457.8 455.8L457.7 454.5L457.6 453.3L457.5 452.0L457.4 450.7L457.3 449.4L457.2 448.1L457.1 446.8L457.1 445.5L457.0 444.2L456.9 442.9L456.8 441.6L456.7 440.2L456.6 438.9L456.6 437.6L456.5 436.2L456.4 434.9L456.3 433.6L456.3 432.2L456.2 430.9L456.1 429.5L456.0 428.2L456.0 426.8L455.9 425.5L455.8 424.1L455.8 422.7L455.7 421.4L455.6 420.0L455.6 418.6L455.5 417.2L455.5 415.9L455.4 414.5L455.3 413.1L455.3 411.7L455.2 410.3L455.2 408.9L455.1 407.5L455.1 406.1L455.0 404.7L455.0 403.3L454.9 401.9L454.9 400.5L454.8 399.1L454.8 397.7L454.8 396.2L454.7 394.8L454.7 393.4L454.6 392.0L454.6 390.5L454.6 389.1L454.5 387.7L454.5 386.3L454.5 384.8L454.4 383.4L454.4 382.0L454.4 380.5L454.3 379.1L454.3 377.6L454.3 376.2L454.3 374.7L454.2 373.3L454.2 371.9L454.2 370.4L454.2 369.0L454.2 367.5L454.2 366.0L454.1 364.6L454.1 363.1L454.1 361.7L454.1 360.2L454.1 358.8L454.1 357.3L454.1 355.8L454.1 354.4L454.1 352.9L454.1 351.4L454.1 350.0L454.0 348.5L454.0 347.0L454.0 345.6L454.1 344.1L454.1 342.6L454.1 341.2L454.1 339.7L454.1 338.2L454.1 336.8L454.1 335.3L454.1 333.8L454.1 332.4L454.1 330.9L454.1 329.4L454.1 327.9L454.2 326.5L454.2 325.0L454.2 323.5L454.2 322.0L454.2 320.6L454.3 319.1L454.3 317.6L454.3 316.2L454.3 314.7L454.4 313.2L454.4 311.7L454.4 310.3L454.5 308.8L454.5 307.3L454.5 305.9L454.5 304.4L454.6 302.9L454.6 301.4L454.7 300.0L454.7 298.5L454.7 297.0L454.8 295.6L454.8 294.1L454.9 292.7L454.9 291.2L455.0 289.7L455.0 288.3L455.1 286.8L455.1 285.3L455.2 283.9L455.2 282.4L455.3 281.0L455.3 279.5L455.4 278.1L455.4 276.6L455.5 275.2L455.5 273.7L455.6 272.3L455.7 270.8L455.7 269.4L455.8 267.9L455.9 266.5L455.9 265.1L456.0 263.6L456.1 262.2L456.1 260.7L456.2 259.3L456.3 257.9L456.4 256.5L456.4 255.0L456.5 253.6L456.6 252.2L456.7 250.8L456.8 249.3L456.8 247.9L456.9 246.5L457.0 245.1L457.1 243.7L457.2 242.3L457.3 240.9L457.4 239.5L457.4 238.1L457.5 236.7L457.6 235.3L457.7 233.9L457.8 232.5L457.9 231.1L458.0 229.7L458.1 228.4L458.2 227.0L458.3 225.6L458.4 224.2L458.5 222.9L458.6 221.5L458.8 220.1L458.9 218.8L459.0 217.4L459.1 216.1L459.2 214.7L459.3 213.4L459.4 212.0L459.5 210.7L459.7 209.4L459.8 208.0L459.9 206.7L460.0 205.4L460.2 204.1L460.3 202.7L460.4 201.4L460.5 200.1L460.7 198.8L460.8 197.5L460.9 196.2L461.1 194.9L461.2 193.6L461.3 192.3L461.5 191.1L461.6 189.8L461.8 188.5L461.9 187.3L462.1 186.0L462.2 184.7L462.4 183.5L462.5 182.2L462.7 181.0L462.8 179.8L463.0 178.5L463.1 177.3L463.3 176.1L463.4 174.9L463.6 173.6L463.8 172.4L463.9 171.2L464.1 170.0L464.3 168.8L464.4 167.7L464.6 166.5L464.8 165.3L465.0 164.1L465.1 163.0L465.3 161.8L465.5 160.7L465.7 159.5L465.9 158.4L466.1 157.2L466.3 156.1L466.4 155.0L466.6 153.9L466.8 152.8L467.0 151.7L467.2 150.6L467.4 149.5L467.7 148.4L467.9 147.4L468.1 146.3L468.3 145.2L468.5 144.2L468.7 143.1L468.9 142.1L469.2 141.1L469.4 140.1L469.6 139.0L469.9 138.0L470.1 137.0L470.3 136.1L470.6 135.1L470.8 134.1L471.1 133.2L471.3 132.2L471.6 131.3L471.9 130.3L472.1 129.4L472.4 128.5L472.7 127.6L473.0 126.7L473.2 125.8L473.5 124.9L473.8 124.1L474.1 123.2L474.5 122.4L474.8 121.6L475.1 120.8L475.4 120.0L475.8 119.2L476.1 118.4L476.5 117.6L476.9 116.9L477.3 116.2L477.7 115.5L478.1 114.8L478.5 114.1L479.0 113.4L479.5 112.8"/><path d="M397.0 534.3L403.2 534.7L409.2 535.1L414.9 535.4L420.2 535.6L425.0 535.8L429.0 535.8L432.4 535.9L435.0 535.8L436.9 535.6L438.2 535.4L439.1 535.1L439.5 534.8L439.7 534.4L439.7 533.9L439.5 533.4L439.1 532.9L438.7 532.4L438.2 531.8L437.7 531.2L437.1 530.6L436.5 529.9L435.9 529.3L435.2 528.6L434.5 527.9L433.8 527.1L433.2 526.4L432.5 525.7L431.8 524.9L431.1 524.1L430.4 523.3L429.7 522.5L429.0 521.7L428.3 520.8L427.6 520.0L426.9 519.1L426.2 518.2L425.6 517.3L424.9 516.5L424.2 515.5L423.6 514.6L422.9 513.7L422.2 512.8L421.6 511.8L421.0 510.9L420.3 509.9L419.7 508.9L419.1 507.9L418.5 507.0L417.8 506.0L417.2 504.9L416.6 503.9L416.0 502.9L415.4 501.9L414.9 500.8L414.3 499.8L413.7 498.7L413.1 497.7L412.6 496.6L412.0 495.5L411.5 494.4L410.9 493.3L410.4 492.2L409.9 491.1L409.3 490.0L408.8 488.9L408.3 487.8L407.8 486.7L407.3 485.5L406.8 484.4L406.3 483.2L405.8 482.1L405.3 480.9L404.8 479.7L404.4 478.6L403.9 477.4L403.4 476.2L403.0 475.0L402.5 473.8L402.1 472.6L401.7 471.4L401.2 470.2L400.8 469.0L400.4 467.8L399.9 466.5L399.5 465.3L399.1 464.1L398.7 462.8L398.3 461.6L397.9 460.3L397.5 459.1L397.1 457.8L396.8 456.5L396.4 455.3L396.0 454.0L395.7 452.7L395.3 451.4L394.9 450.1L394.6 448.9L394.3 447.6L393.9 446.3L393.6 445.0L393.3 443.6L392.9 442.3L392.6 441.0L392.3 439.7L392.0 438.4L391.7 437.1L391.4 435.7L391.1 434.4L390.8 433.0L390.5 431.7L390.2 430.4L390.0 429.0L389.7 427.7L389.4 426.3L389.2 424.9L388.9 423.6L388.6 422.2L388.4 420.9L388.2 419.5L387.9 418.1L387.7 416.7L387.5 415.4L387.2 414.0L387.0 412.6L386.8 411.2L386.6 409.8L386.4 408.4L386.2 407.0L386.0 405.6L385.8 404.2L385.6 402.8L385.4 401.4L385.3 400.0L385.1 398.6L384.9 397.2L384.8 395.8L384.6 394.3L384.4 392.9L384.3 391.5L384.1 390.1L384.0 388.7L383.9 387.2L383.7 385.8L383.6 384.4L383.5 382.9L383.4 381.5L383.3 380.1L383.2 378.6L383.1 377.2L383.0 375.7L382.9 374.3L382.8 372.9L382.7 371.4L382.6 370.0L382.5 368.5L382.5 367.1L382.4 365.6L382.3 364.2L382.3 362.7L382.2 361.3L382.2 359.8L382.1 358.3L382.1 356.9L382.1 355.4L382.0 354.0L382.0 352.5L382.0 351.0L382.0 349.6L382.0 348.1L381.9 346.6L381.9 345.2L381.9 343.7L382.0 342.2L382.0 340.8L382.0 339.3L382.0 337.8L382.0 336.4L382.0 334.9L382.1 333.4L382.1 332.0L382.2 330.5L382.2 329.0L382.3 327.6L382.3 326.1L382.4 324.6L382.4 323.1L382.5 321.7L382.6 320.2L382.7 318.7L382.8 317.3L382.8 315.8L382.9 314.3L383.0 312.9L383.1 311.4L383.2 309.9L383.3 308.4L383.5 307.0L383.6 305.5L383.7 304.0L383.8 302.6L384.0 301.1L384.1 299.6L384.3 298.2L384.4 296.7L384.6 295.3L384.7 293.8L384.9 292.3L385.0 290.9L385.2 289.4L385.4 288.0L385.6 286.5L385.7 285.0L385.9 283.6L386.1 282.1L386.3 280.7L386.5 279.2L386.7 277.8L386.9 276.3L387.2 274.9L387.4 273.4L387.6 272.0L387.8 270.5L388.1 269.1L388.3 267.7L388.6 266.2L388.8 264.8L389.1 263.3L389.3 261.9L389.6 260.5L389.8 259.1L390.1 257.6L390.4 256.2L390.7 254.8L391.0 253.4L391.3 251.9L391.6 250.5L391.9 249.1L392.2 247.7L392.5 246.3L392.8 244.9L393.1 243.5L393.4 242.1L393.8 240.7L394.1 239.3L394.4 237.9L394.8 236.5L395.1 235.1L395.5 233.7L395.8 232.3L396.2 230.9L396.6 229.5L396.9 228.2L397.3 226.8L397.7 225.4L398.1 224.0L398.5 222.7L398.9 221.3L399.3 220.0L399.7 218.6L400.1 217.3L400.5 215.9L401.0 214.6L401.4 213.2L401.8 211.9L402.3 210.5L402.7 209.2L403.1 207.9L403.6 206.6L404.1 205.2L404.5 203.9L405.0 202.6L405.5 201.3L406.0 200.0L406.4 198.7L406.9 197.4L407.4 196.1L407.9 194.8L408.4 193.5L409.0 192.3L409.5 191.0L410.0 189.7L410.5 188.4L411.1 187.2L411.6 185.9L412.2 184.7L412.7 183.4L413.3 182.2L413.8 180.9L414.4 179.7L415.0 178.5L415.6 177.3L416.2 176.0L416.8 174.8L417.4 173.6L418.0 172.4L418.6 171.2L419.2 170.0L419.9 168.8L420.5 167.7L421.1 166.5L421.8 165.3L422.4 164.2L423.1 163.0L423.8 161.8L424.5 160.7L425.1 159.6L425.8 158.4L426.5 157.3L427.2 156.2L428.0 155.1L428.7 154.0L429.4 152.9L430.2 151.8L430.9 150.7L431.7 149.6L432.4 148.5L433.2 147.5L434.0 146.4L434.8 145.4L435.6 144.3L436.4 143.3L437.2 142.3L438.1 141.3L438.9 140.2L439.8 139.2L440.6 138.2L441.5 137.3L442.4 136.3L443.3 135.3L444.2 134.4L445.1 133.4L446.1 132.5L447.0 131.6L448.0 130.6L449.0 129.7L449.9 128.8L451.0 127.9L452.0 127.1L453.0 126.2L454.1 125.3L455.2 124.5L456.3 123.7L457.4 122.9L458.6 122.1L459.7 121.3L460.9 120.5L462.2 119.7L463.4 119.0L464.7 118.3L466.0 117.6L467.4 116.9L468.8 116.2L470.2 115.5L471.7 114.9L473.2 114.3L474.8 113.7L476.5 113.2L478.2 112.7"/><path d="M395.1 534.0L399.0 534.1L402.4 534.2L405.1 534.2L407.4 534.1L409.1 534.0L410.3 533.8L411.1 533.5L411.5 533.2L411.6 532.8L411.4 532.4L411.1 532.0L410.5 531.5L409.8 531.0L409.0 530.5L408.2 529.9L407.2 529.3L406.2 528.7L405.1 528.1L404.0 527.4L402.9 526.7L401.8 526.0L400.6 525.3L399.4 524.6L398.2 523.8L397.1 523.1L395.9 522.3L394.7 521.5L393.5 520.7L392.3 519.8L391.1 519.0L389.9 518.2L388.7 517.3L387.6 516.4L386.4 515.5L385.2 514.6L384.1 513.7L382.9 512.8L381.8 511.9L380.7 511.0L379.5 510.0L378.4 509.1L377.3 508.1L376.2 507.1L375.2 506.1L374.1 505.1L373.0 504.1L372.0 503.1L370.9 502.1L369.9 501.1L368.9 500.0L367.9 499.0L366.9 498.0L365.9 496.9L364.9 495.8L363.9 494.8L362.9 493.7L362.0 492.6L361.0 491.5L360.1 490.4L359.2 489.3L358.2 488.2L357.3 487.1L356.4 485.9L355.5 484.8L354.7 483.7L353.8 482.5L352.9 481.4L352.1 480.2L351.2 479.0L350.4 477.9L349.6 476.7L348.7 475.5L347.9 474.3L347.1 473.1L346.3 471.9L345.6 470.7L344.8 469.5L344.0 468.3L343.3 467.1L342.5 465.9L341.8 464.6L341.1 463.4L340.4 462.2L339.7 460.9L339.0 459.7L338.3 458.4L337.6 457.2L336.9 455.9L336.2 454.6L335.6 453.3L334.9 452.1L334.3 450.8L333.7 449.5L333.0 448.2L332.4 446.9L331.8 445.6L331.2 444.3L330.6 443.0L330.1 441.7L329.5 440.4L328.9 439.1L328.4 437.8L327.8 436.4L327.3 435.1L326.8 433.8L326.3 432.4L325.7 431.1L325.2 429.8L324.7 428.4L324.3 427.1L323.8 425.7L323.3 424.4L322.8 423.0L322.4 421.6L321.9 420.3L321.5 418.9L321.1 417.5L320.7 416.2L320.2 414.8L319.8 413.4L319.4 412.0L319.1 410.6L318.7 409.2L318.3 407.8L317.9 406.5L317.6 405.1L317.2 403.7L316.9 402.3L316.6 400.9L316.2 399.4L315.9 398.0L315.6 396.6L315.3 395.2L315.0 393.8L314.7 392.4L314.5 391.0L314.2 389.5L313.9 388.1L313.7 386.7L313.4 385.3L313.2 383.8L313.0 382.4L312.8 381.0L312.6 379.5L312.3 378.1L312.2 376.7L312.0 375.2L311.8 373.8L311.6 372.3L311.4 370.9L311.3 369.5L311.1 368.0L311.0 366.6L310.9 365.1L310.7 363.7L310.6 362.2L310.5 360.8L310.4 359.3L310.3 357.8L310.2 356.4L310.2 354.9L310.1 353.5L310.0 352.0L310.0 350.6L309.9 349.1L309.9 347.6L309.9 346.2L309.8 344.7L309.8 343.2L309.8 341.8L309.8 340.3L309.8 338.9L309.9 337.4L309.9 335.9L309.9 334.5L310.0 333.0L310.0 331.5L310.1 330.1L310.1 328.6L310.2 327.1L310.3 325.7L310.4 324.2L310.5 322.7L310.6 321.2L310.7 319.8L310.8 318.3L310.9 316.8L311.1 315.4L311.2 313.9L311.4 312.4L311.5 311.0L311.7 309.5L311.9 308.0L312.0 306.6L312.2 305.1L312.4 303.6L312.6 302.2L312.8 300.7L313.1 299.3L313.3 297.8L313.5 296.3L313.8 294.9L314.0 293.4L314.3 292.0L314.6 290.5L314.8 289.0L315.1 287.6L315.4 286.1L315.7 284.7L316.0 283.2L316.3 281.8L316.7 280.3L317.0 278.9L317.3 277.4L317.7 276.0L318.1 274.5L318.4 273.1L318.8 271.7L319.2 270.2L319.6 268.8L320.0 267.3L320.4 265.9L320.8 264.5L321.2 263.0L321.6 261.6L322.1 260.2L322.5 258.7L323.0 257.3L323.4 255.9L323.9 254.5L324.4 253.1L324.9 251.6L325.4 250.2L325.9 248.8L326.4 247.4L326.9 246.0L327.4 244.6L328.0 243.2L328.5 241.8L329.1 240.4L329.6 239.0L330.2 237.6L330.8 236.2L331.4 234.8L331.9 233.4L332.6 232.1L333.2 230.7L333.8 229.3L334.4 227.9L335.0 226.6L335.7 225.2L336.3 223.8L337.0 222.5L337.7 221.1L338.4 219.8L339.1 218.4L339.7 217.1L340.5 215.7L341.2 214.4L341.9 213.0L342.6 211.7L343.4 210.4L344.1 209.0L344.9 207.7L345.6 206.4L346.4 205.1L347.2 203.8L348.0 202.5L348.8 201.2L349.6 199.9L350.4 198.6L351.3 197.3L352.1 196.0L353.0 194.7L353.8 193.4L354.7 192.2L355.6 190.9L356.5 189.6L357.4 188.4L358.3 187.1L359.2 185.8L360.1 184.6L361.1 183.4L362.0 182.1L363.0 180.9L363.9 179.7L364.9 178.4L365.9 177.2L366.9 176.0L367.9 174.8L368.9 173.6L370.0 172.4L371.0 171.2L372.1 170.0L373.1 168.9L374.2 167.7L375.3 166.5L376.4 165.3L377.5 164.2L378.6 163.0L379.8 161.9L380.9 160.8L382.1 159.6L383.2 158.5L384.4 157.4L385.6 156.3L386.8 155.2L388.0 154.1L389.3 153.0L390.5 151.9L391.8 150.8L393.1 149.8L394.4 148.7L395.7 147.6L397.0 146.6L398.3 145.5L399.7 144.5L401.0 143.5L402.4 142.5L403.8 141.5L405.2 140.5L406.6 139.5L408.1 138.5L409.5 137.5L411.0 136.6L412.5 135.6L414.0 134.7L415.6 133.7L417.1 132.8L418.7 131.9L420.3 131.0L421.9 130.1L423.6 129.2L425.2 128.4L426.9 127.5L428.6 126.7L430.4 125.8L432.2 125.0L433.9 124.2L435.8 123.4L437.6 122.6L439.5 121.9L441.4 121.1L443.4 120.4L445.3 119.7L447.3 119.0L449.4 118.3L451.5 117.7L453.6 117.0L455.8 116.4L458.0 115.9L460.2 115.3L462.5 114.8L464.9 114.3L467.3 113.8L469.7 113.4L472.2 113.0L474.7 112.7L477.3 112.4"/>
</g>
<ellipse cx="480.0" cy="323.0" rx="431.5" ry="215.5" fill="none" stroke="#fff" stroke-width="1.2"/>
<g class="g"><text x="95.5" y="309.1">60</text><text x="167.0" y="313.4">30</text><text x="238.5" y="320.2">0</text><text x="310.2" y="327.9">-30</text><text x="382.1" y="334.2">-60</text><text x="454.1" y="337.5">-90</text><text x="526.1" y="336.9">-120</text><text x="598.1" y="332.6">-150</text><text x="669.9" y="325.8">180</text><text x="741.5" y="318.1">150</text><text x="813.0" y="311.8">120</text><text x="884.6" y="308.5">90</text><text x="338.7" y="157.4">60</text><text x="266.4" y="233.7">30</text><text x="251.4" y="407.1">-30</text><text x="306.8" y="484.3">-60</text><text x="480" y="112">90</text><text x="393" y="534">-90</text></g>
<g class="r"><text x="492" y="228.5">V1</text><text x="489.4" y="315">Nose</text><text x="415.5" y="419.7">V2</text><text x="917.5" y="314.7">Tail</text></g>
<g fill="#c02820"><rect x="487" y="234" width="5" height="4"/><rect x="477" y="322" width="6" height="4"/><rect x="411" y="426" width="6" height="5"/><rect x="909" y="322" width="3" height="4"/></g>
<text x="210" y="602.6" style="font-size:18.25px;stroke:#fff;stroke-width:0.55px">Sum(Flux Sample Exposure Weight)  4.29 keV at 1.0 A.U. [ECLIPJ2000]</text>
<rect x="48.5" y="629.5" width="863" height="18" fill="url(#cb)" stroke="#fff" stroke-width="1"/>
<g stroke="#fff" stroke-width="1"><line x1="282.5" y1="630" x2="282.5" y2="647"/><line x1="522.5" y1="630" x2="522.5" y2="647"/><line x1="763.5" y1="630" x2="763.5" y2="647"/></g>
<g style="font-size:17.1px;stroke:#fff;stroke-width:0.55px;text-anchor:middle"><text x="283" y="674.8">1000</text><text x="522.5" y="674.8">2000</text><text x="762.5" y="674.8">3000</text></g>
<text x="800.6" y="708.6" style="font-size:17.45px;stroke:#fff;stroke-width:0.55px">Feb  5 21:45:59 2014</text>
</svg>
</body></html>
